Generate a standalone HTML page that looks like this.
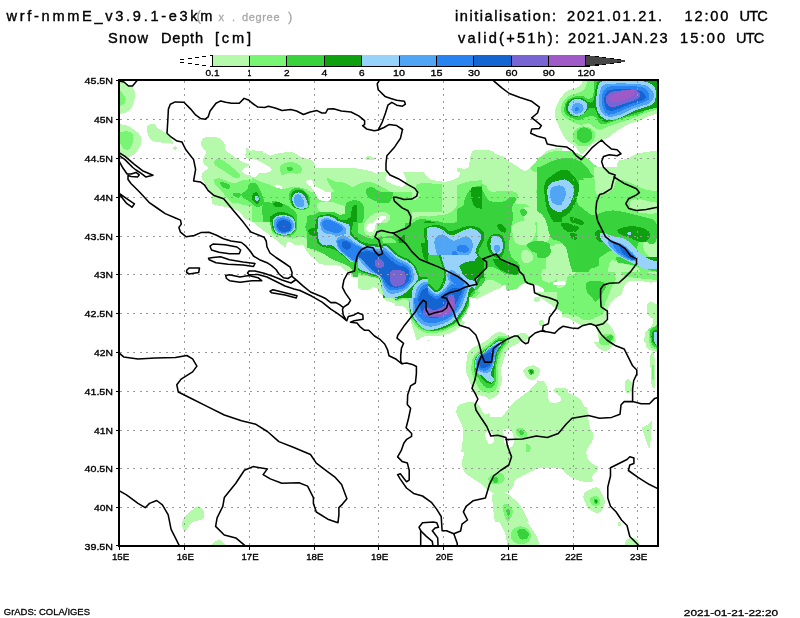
<!DOCTYPE html><html><head><meta charset="utf-8"><title>Snow Depth</title><style>html,body{margin:0;padding:0;background:#fff;}svg{display:block}</style></head><body>
<svg width="800" height="618" viewBox="0 0 800 618" shape-rendering="crispEdges">
<rect width="800" height="618" fill="#fff"/>
<defs><clipPath id="mc"><rect x="119" y="80" width="539" height="466"/></clipPath></defs>
<g clip-path="url(#mc)">
<path fill="#b4faaa" d="M117.7,78.0 C119.0,72.9 123.4,82.0 125.6,83.3 C127.8,84.6 129.5,84.9 130.9,86.0 C132.4,87.1 133.6,88.2 134.2,89.9 C134.9,91.7 135.0,94.4 134.9,96.6 C134.8,98.8 134.2,101.2 133.6,103.2 C132.9,105.2 132.2,107.0 130.9,108.5 C129.6,110.1 127.4,111.6 125.6,112.5 C123.8,113.4 121.6,113.6 120.3,113.8 C119.0,114.0 118.1,119.8 117.7,113.8 C117.2,107.9 116.3,83.1 117.7,78.0Z"/>
<path fill="#b4faaa" d="M117.7,124.4 C118.1,119.3 119.0,124.3 120.3,124.4 C121.6,124.5 123.6,124.4 125.6,125.1 C127.6,125.8 130.0,127.0 132.2,128.4 C134.5,129.9 137.3,132.0 138.9,133.7 C140.4,135.5 141.3,137.0 141.5,139.0 C141.8,141.0 141.1,143.5 140.2,145.7 C139.3,147.9 137.8,150.5 136.2,152.3 C134.7,154.1 132.7,155.4 130.9,156.3 C129.2,157.2 127.4,157.8 125.6,157.6 C123.8,157.4 121.6,155.4 120.3,154.9 C119.0,154.5 118.1,160.0 117.7,154.9 C117.2,149.9 117.2,129.5 117.7,124.4Z"/>
<path fill="#b4faaa" d="M146.8,127.1 C147.5,125.9 149.5,124.2 150.8,123.8 C152.1,123.3 153.7,123.7 154.8,124.4 C155.9,125.2 156.1,127.3 157.5,128.4 C158.8,129.5 161.0,130.0 162.8,131.1 C164.5,132.2 166.5,133.5 168.1,135.0 C169.6,136.6 171.2,138.9 172.0,140.4 C172.9,141.8 174.0,143.2 173.4,143.7 C172.7,144.1 170.5,143.2 168.1,143.0 C165.6,142.8 161.4,142.8 158.8,142.3 C156.1,141.9 153.8,141.3 152.1,140.4 C150.5,139.4 149.7,137.9 148.8,136.4 C147.9,134.8 147.2,132.6 146.8,131.1 C146.5,129.5 146.2,128.3 146.8,127.1Z"/>
<path fill="#b4faaa" d="M172.7,147.7 C172.9,147.0 175.2,146.2 176.0,146.3 C176.8,146.4 177.8,147.7 177.6,148.3 C177.4,149.0 175.5,150.4 174.7,150.3 C173.9,150.2 172.5,148.3 172.7,147.7Z"/>
<path fill="#b4faaa" d="M200.7,144.6 C200.4,142.8 201.4,140.1 202.7,138.8 C203.9,137.5 206.0,137.0 208.5,136.8 C211.0,136.6 215.2,136.8 217.5,137.5 C219.9,138.1 221.4,139.3 222.7,140.7 C224.0,142.1 224.9,144.4 225.3,145.9 C225.7,147.4 224.2,148.3 225.3,149.8 C226.4,151.3 229.4,153.2 231.8,155.0 C234.2,156.7 237.4,158.8 239.5,160.1 C241.7,161.4 243.0,162.0 244.7,162.7 C246.5,163.5 248.4,164.4 249.9,164.7 C251.4,164.9 253.4,163.7 253.8,164.0 C254.2,164.3 253.6,165.7 252.5,166.6 C251.4,167.5 248.8,168.8 247.3,169.2 C245.8,169.6 243.2,168.5 243.4,169.2 C243.6,169.8 246.9,171.8 248.6,173.1 C250.3,174.4 251.9,177.0 253.8,177.0 C255.7,177.0 258.5,173.5 260.0,173.1 C261.5,172.6 262.8,174.4 262.8,174.4 C262.8,174.4 262.8,202.8 262.8,202.8 C262.8,202.8 216.2,202.8 216.2,202.8 C216.2,202.8 212.6,196.4 211.1,193.8 C209.6,191.2 208.4,189.3 207.2,187.3 C206.0,185.4 204.9,183.9 203.9,182.1 C203.0,180.4 201.5,178.7 201.4,177.0 C201.3,175.2 202.1,173.3 203.3,171.8 C204.5,170.3 208.4,169.2 208.5,167.9 C208.6,166.6 204.8,165.5 203.9,164.0 C203.1,162.5 203.0,160.6 203.3,158.8 C203.6,157.1 205.7,155.2 205.9,153.7 C206.1,152.1 205.5,151.3 204.6,149.8 C203.7,148.3 201.0,146.4 200.7,144.6Z"/>
<path fill="#b4faaa" d="M246.0,149.8 C246.2,148.2 246.7,147.6 247.3,147.8 C248.0,148.0 248.8,150.6 249.9,151.1 C251.0,151.5 252.1,150.4 253.8,150.4 C255.5,150.4 258.5,151.0 260.0,151.1 C261.5,151.2 262.8,151.1 262.8,151.1 C262.8,151.1 262.8,158.8 262.8,158.8 C262.8,158.8 255.3,159.1 252.5,158.8 C249.7,158.6 247.1,159.1 246.0,157.5 C244.9,156.0 245.8,151.4 246.0,149.8Z"/>
<path fill="#b4faaa" d="M212.4,172.4 C212.4,172.4 317.3,172.4 317.3,172.4 C317.3,172.4 317.3,256.6 317.3,256.6 C317.3,256.6 310.6,253.9 308.3,252.7 C305.9,251.5 304.8,250.3 303.1,249.5 C301.4,248.6 300.5,247.9 297.9,247.5 C295.3,247.2 290.2,248.0 287.5,247.5 C284.8,247.1 284.0,246.6 281.7,244.9 C279.4,243.3 276.9,240.3 273.7,237.8 C270.4,235.3 265.8,232.5 262.3,229.8 C258.8,227.1 255.2,223.4 252.6,221.6 C249.9,219.9 248.6,221.1 246.2,219.3 C243.8,217.5 240.4,212.5 238.1,210.8 C235.7,209.0 234.0,209.2 232.4,208.7 C230.7,208.1 230.0,207.8 228.0,207.4 C225.9,207.0 222.8,206.6 220.2,206.1 C217.6,205.5 212.4,204.1 212.4,204.1 C212.4,204.1 212.4,172.4 212.4,172.4Z"/>
<path fill="#b4faaa" d="M252.4,149.7 C252.4,149.7 256.7,151.1 258.9,151.7 C261.0,152.2 263.4,152.3 265.4,153.0 C267.3,153.6 269.0,155.3 270.5,155.5 C272.1,155.8 272.7,154.7 274.4,154.2 C276.2,153.8 279.0,153.3 280.9,153.0 C282.8,152.6 284.1,152.4 286.1,152.3 C288.0,152.2 290.8,152.0 292.6,152.3 C294.3,152.6 295.2,153.5 296.5,154.2 C297.7,155.0 298.2,156.0 300.3,156.8 C302.5,157.7 307.2,158.6 309.4,159.4 C311.6,160.3 312.2,160.9 313.3,162.0 C314.4,163.1 315.2,164.9 315.9,165.9 C316.5,166.9 310.3,167.6 317.2,167.8 C324.1,168.1 357.3,167.5 357.3,167.5 C357.3,167.5 357.3,221.6 357.3,221.6 C357.3,221.6 252.4,221.6 252.4,221.6 C252.4,221.6 252.4,149.7 252.4,149.7Z"/>
<path fill="#b4faaa" d="M307.4,192.4 C307.4,192.4 412.3,192.4 412.3,192.4 C412.3,192.4 412.3,276.6 412.3,276.6 C412.3,276.6 307.4,276.6 307.4,276.6 C307.4,276.6 307.4,192.4 307.4,192.4Z"/>
<path fill="#b4faaa" d="M377.4,172.4 C377.4,172.4 482.3,172.4 482.3,172.4 C482.3,172.4 482.3,256.6 482.3,256.6 C482.3,256.6 377.4,256.6 377.4,256.6 C377.4,256.6 377.4,172.4 377.4,172.4Z"/>
<path fill="#b4faaa" d="M367.4,237.4 C367.4,237.4 472.3,237.4 472.3,237.4 C472.3,237.4 472.3,321.6 472.3,321.6 C472.3,321.6 367.4,321.6 367.4,321.6 C367.4,321.6 367.4,237.4 367.4,237.4Z"/>
<path fill="#b4faaa" d="M457.4,167.8 C457.4,167.8 465.6,169.7 467.8,167.8 C469.9,166.0 469.3,159.8 470.4,156.8 C471.4,153.9 471.0,151.4 474.2,150.4 C477.5,149.3 486.1,149.7 489.8,150.4 C493.5,151.0 493.9,153.2 496.3,154.2 C498.6,155.3 502.1,155.8 504.0,156.8 C506.0,157.9 506.2,159.4 507.9,160.7 C509.7,162.0 511.8,163.0 514.4,164.6 C517.0,166.2 521.1,169.7 523.5,170.4 C525.8,171.2 526.9,170.3 528.7,169.1 C530.4,168.0 531.9,165.4 533.8,163.3 C535.8,161.3 537.9,159.0 540.3,156.8 C542.7,154.7 544.8,151.9 548.1,150.4 C551.4,148.9 557.6,148.2 560.0,147.8 C562.4,147.3 562.3,147.8 562.3,147.8 C562.3,147.8 562.3,221.6 562.3,221.6 C562.3,221.6 457.4,221.6 457.4,221.6 C457.4,221.6 457.4,167.8 457.4,167.8Z"/>
<path fill="#b4faaa" d="M582.0,74.8 C582.0,74.8 667.8,74.8 667.8,74.8 C667.8,74.8 667.8,112.0 667.8,112.0 C667.8,112.0 656.2,113.8 651.6,115.2 C647.0,116.5 643.8,118.7 640.3,120.0 C636.8,121.4 633.3,122.2 630.6,123.3 C627.9,124.4 626.5,125.2 624.1,126.5 C621.7,127.9 618.7,129.5 616.0,131.4 C613.3,133.3 610.4,136.5 607.9,137.8 C605.5,139.2 603.6,138.6 601.5,139.5 C599.3,140.3 597.1,141.3 595.0,142.7 C592.8,144.0 590.7,145.7 588.5,147.5 C586.4,149.4 583.9,153.7 582.0,154.0 C580.2,154.3 578.8,150.8 577.2,149.2 C575.6,147.5 574.2,145.9 572.3,144.3 C570.5,142.7 567.8,141.6 565.9,139.5 C564.0,137.3 562.4,134.1 561.0,131.4 C559.7,128.7 558.9,126.0 557.8,123.3 C556.7,120.6 554.8,117.9 554.6,115.2 C554.3,112.5 555.1,110.1 556.2,107.1 C557.3,104.1 559.1,100.1 561.0,97.4 C562.9,94.7 564.8,92.6 567.5,90.9 C570.2,89.3 574.8,89.1 577.2,87.7 C579.6,86.4 581.2,85.0 582.0,82.9 C582.9,80.7 582.0,74.8 582.0,74.8Z"/>
<path fill="#b4faaa" d="M617.6,162.1 C619.2,158.6 624.4,160.2 627.3,158.9 C630.3,157.5 632.7,155.1 635.4,154.0 C638.1,152.9 640.0,152.9 643.5,152.4 C647.0,151.9 652.4,151.0 656.4,150.8 C660.5,150.5 667.8,150.8 667.8,150.8 C667.8,150.8 667.8,179.9 667.8,179.9 C667.8,179.9 617.6,179.9 617.6,179.9 C617.6,179.9 616.0,165.6 617.6,162.1Z"/>
<path fill="#b4faaa" d="M536.8,166.8 C536.8,166.8 628.9,166.8 628.9,166.8 C628.9,166.8 629.8,172.2 632.2,173.2 C634.6,174.3 641.1,174.3 643.5,173.2 C645.9,172.2 646.7,166.8 646.7,166.8 C646.7,166.8 667.8,166.8 667.8,166.8 C667.8,166.8 667.8,271.9 667.8,271.9 C667.8,271.9 536.8,271.9 536.8,271.9 C536.8,271.9 536.8,166.8 536.8,166.8Z"/>
<path fill="#b4faaa" d="M467.4,207.4 C467.4,207.4 572.3,207.4 572.3,207.4 C572.3,207.4 572.3,291.6 572.3,291.6 C572.3,291.6 467.4,291.6 467.4,291.6 C467.4,291.6 467.4,207.4 467.4,207.4Z"/>
<path fill="#b4faaa" d="M557.4,257.4 C557.4,257.4 662.3,257.4 662.3,257.4 C662.3,257.4 662.3,341.6 662.3,341.6 C662.3,341.6 557.4,341.6 557.4,341.6 C557.4,341.6 557.4,257.4 557.4,257.4Z"/>
<path fill="#b4faaa" d="M457.4,277.4 C457.4,277.4 562.3,277.4 562.3,277.4 C562.3,277.4 562.3,361.6 562.3,361.6 C562.3,361.6 457.4,361.6 457.4,361.6 C457.4,361.6 457.4,277.4 457.4,277.4Z"/>
<path fill="#b4faaa" d="M337.4,168.9 C337.4,168.9 344.1,168.2 347.8,168.2 C351.4,168.2 355.3,168.3 359.4,168.9 C363.5,169.4 369.1,170.4 372.4,171.5 C375.6,172.5 376.7,174.0 378.9,175.3 C381.0,176.6 382.7,177.7 385.3,179.2 C387.9,180.7 391.6,183.1 394.4,184.4 C397.2,185.7 400.0,187.0 402.2,187.0 C404.3,187.0 406.7,185.7 407.4,184.4 C408.0,183.1 405.6,180.7 406.1,179.2 C406.5,177.7 408.0,176.2 409.9,175.3 C411.9,174.5 415.1,174.0 417.7,174.0 C420.3,174.0 423.3,174.5 425.5,175.3 C427.7,176.2 428.3,178.4 430.7,179.2 C433.1,180.1 438.1,180.3 440.0,180.5 C441.9,180.7 442.3,180.5 442.3,180.5 C442.3,180.5 442.3,211.6 442.3,211.6 C442.3,211.6 337.4,211.6 337.4,211.6 C337.4,211.6 337.4,168.9 337.4,168.9Z"/>
<path fill="#b4faaa" d="M365.3,157.8 C365.7,157.2 367.3,156.0 368.5,155.9 C369.7,155.8 371.1,156.7 372.4,157.2 C373.7,157.7 376.7,158.7 376.3,159.1 C375.8,159.6 371.5,159.7 369.8,159.8 C368.1,159.9 366.7,160.1 365.9,159.8 C365.2,159.5 364.8,158.5 365.3,157.8Z"/>
<path fill="#b4faaa" d="M378.1,287.4 C378.1,287.4 377.3,295.2 378.1,297.8 C379.0,300.4 381.2,301.4 383.3,303.0 C385.5,304.5 388.5,306.0 391.1,306.8 C393.7,307.7 396.9,307.1 398.9,308.1 C400.8,309.2 401.7,311.4 402.7,313.3 C403.8,315.3 404.3,317.8 405.3,319.8 C406.4,321.7 408.4,323.0 409.2,325.0 C410.1,326.9 409.2,329.7 410.5,331.5 C411.8,333.2 415.1,334.3 417.0,335.3 C418.9,336.4 420.4,337.1 422.2,337.9 C423.9,338.8 425.4,340.3 427.4,340.5 C429.3,340.7 432.1,340.3 433.8,339.2 C435.6,338.1 435.8,335.6 437.7,334.0 C439.7,332.5 442.9,331.0 445.5,330.2 C448.1,329.3 450.9,328.9 453.3,328.9 C455.6,328.9 458.2,330.2 459.7,330.2 C461.3,330.2 462.3,328.9 462.3,328.9 C462.3,328.9 462.3,287.4 462.3,287.4 C462.3,287.4 378.1,287.4 378.1,287.4Z"/>
<clipPath id="k0"><rect x="0" y="392" width="800" height="226"/></clipPath>
<path fill="#b4faaa" clip-path="url(#k0)" d="M465.9,346.8 C465.9,346.8 465.1,365.9 465.9,371.0 C466.7,376.1 469.1,375.1 470.7,377.5 C472.3,379.9 473.7,382.9 475.6,385.6 C477.5,388.3 479.9,391.5 482.0,393.7 C484.2,395.8 486.4,398.0 488.5,398.5 C490.7,399.1 492.8,398.5 495.0,396.9 C497.1,395.3 500.4,392.3 501.5,388.8 C502.5,385.3 500.9,379.6 501.5,375.9 C502.0,372.1 503.6,369.4 504.7,366.2 C505.8,362.9 507.1,359.7 507.9,356.5 C508.7,353.2 509.5,346.8 509.5,346.8 C509.5,346.8 465.9,346.8 465.9,346.8Z"/>
<path fill="#b4faaa" d="M523.3,371.0 C523.3,369.1 525.6,367.9 527.3,367.0 C529.1,366.0 531.8,365.0 533.8,365.4 C535.8,365.8 538.7,367.7 539.5,369.4 C540.3,371.2 539.6,374.1 538.7,375.9 C537.7,377.6 535.7,379.5 533.8,379.9 C531.9,380.3 529.1,379.8 527.3,378.3 C525.6,376.8 523.3,372.9 523.3,371.0Z"/>
<path fill="#b4faaa" d="M456.2,411.5 C456.2,409.0 457.0,406.6 459.4,405.0 C461.8,403.4 467.5,401.8 470.7,401.8 C474.0,401.8 476.9,403.4 478.8,405.0 C480.7,406.6 481.0,409.8 482.0,411.5 C483.1,413.1 484.2,414.4 485.3,414.7 C486.4,415.0 487.7,412.8 488.5,413.1 C489.3,413.3 490.4,415.0 490.1,416.3 C489.9,417.7 487.7,419.0 486.9,421.2 C486.1,423.3 485.3,426.8 485.3,429.2 C485.3,431.7 485.8,433.8 486.9,435.7 C488.0,437.6 490.9,439.2 491.8,440.6 C492.6,441.9 492.3,443.3 491.8,443.8 C491.2,444.3 489.3,443.3 488.5,443.8 C487.7,444.3 487.2,445.7 486.9,447.0 C486.6,448.4 486.9,451.9 486.9,451.9 C486.9,451.9 461.0,451.9 461.0,451.9 C461.0,451.9 462.4,444.6 462.6,440.6 C462.9,436.5 463.2,431.1 462.6,427.6 C462.1,424.1 460.5,422.2 459.4,419.5 C458.3,416.8 456.2,413.9 456.2,411.5Z"/>
<path fill="#b4faaa" d="M495.0,426.0 C495.5,423.9 498.0,422.0 499.8,419.5 C501.7,417.1 504.2,414.2 506.3,411.5 C508.5,408.8 510.4,405.8 512.8,403.4 C515.2,400.9 518.4,398.8 520.9,396.9 C523.3,395.0 525.2,393.9 527.3,392.0 C529.5,390.2 531.6,387.5 533.8,385.6 C536.0,383.7 538.4,381.3 540.3,380.7 C542.2,380.2 544.0,380.7 545.1,382.3 C546.2,384.0 546.2,387.7 546.7,390.4 C547.3,393.1 547.8,396.4 548.4,398.5 C548.9,400.7 548.6,402.6 550.0,403.4 C551.3,404.2 554.8,403.6 556.4,403.4 C558.1,403.1 558.1,402.0 560.0,401.8 C561.9,401.5 567.8,401.8 567.8,401.8 C567.8,401.8 567.8,451.9 567.8,451.9 C567.8,451.9 507.9,451.9 507.9,451.9 C507.9,451.9 506.3,446.2 506.3,443.8 C506.3,441.4 508.7,438.9 507.9,437.3 C507.1,435.7 503.3,434.9 501.5,434.1 C499.6,433.3 497.7,433.8 496.6,432.5 C495.5,431.1 494.4,428.2 495.0,426.0Z"/>
<path fill="#b4faaa" d="M553.2,390.4 C552.9,389.2 555.6,388.3 558.1,388.0 C560.5,387.7 567.8,388.8 567.8,388.8 C567.8,388.8 567.8,396.9 567.8,396.9 C567.8,396.9 562.1,396.4 559.7,395.3 C557.3,394.2 553.5,391.6 553.2,390.4Z"/>
<path fill="#b4faaa" d="M593.4,339.7 C593.1,337.3 595.5,335.4 596.6,333.2 C597.7,331.1 599.8,326.8 599.8,326.8 C599.8,326.8 616.0,326.8 616.0,326.8 C616.0,326.8 616.8,336.2 616.0,339.7 C615.2,343.2 613.0,345.9 611.2,347.8 C609.3,349.7 606.8,351.0 604.7,351.0 C602.5,351.0 600.1,349.7 598.2,347.8 C596.3,345.9 593.6,342.1 593.4,339.7Z"/>
<path fill="#b4faaa" d="M645.1,326.8 C645.1,326.8 662.9,326.8 662.9,326.8 C662.9,326.8 662.9,352.6 662.9,352.6 C662.9,352.6 651.3,351.6 648.4,349.4 C645.4,347.3 645.7,343.5 645.1,339.7 C644.6,335.9 645.1,326.8 645.1,326.8Z"/>
<path fill="#b4faaa" d="M650.0,355.9 C650.4,352.9 652.4,351.6 653.2,352.6 C654.0,353.7 654.6,356.7 654.8,362.3 C655.1,368.0 655.4,382.8 654.8,386.6 C654.3,390.4 652.3,387.7 651.6,385.0 C650.9,382.3 651.1,375.3 650.8,370.4 C650.5,365.6 649.6,358.8 650.0,355.9Z"/>
<path fill="#b4faaa" d="M624.9,381.8 C625.3,379.7 627.1,379.3 628.1,379.3 C629.2,379.3 630.7,380.0 631.4,381.8 C632.0,383.5 632.6,388.0 632.2,389.8 C631.8,391.7 630.0,392.8 628.9,393.1 C627.9,393.3 626.4,393.3 625.7,391.5 C625.0,389.6 624.5,383.8 624.9,381.8Z"/>
<path fill="#b4faaa" d="M536.8,380.1 C536.8,380.1 543.0,381.5 544.9,383.4 C546.7,385.3 547.5,388.8 548.1,391.5 C548.6,394.2 547.5,397.7 548.1,399.5 C548.6,401.4 549.4,402.4 551.3,402.8 C553.2,403.2 557.8,402.8 559.4,402.0 C561.0,401.2 561.6,399.7 561.0,397.9 C560.5,396.2 557.0,393.1 556.2,391.5 C555.4,389.8 554.8,388.2 556.2,388.2 C557.5,388.2 561.6,390.4 564.3,391.5 C567.0,392.5 569.6,393.3 572.3,394.7 C575.0,396.0 578.4,397.4 580.4,399.5 C582.5,401.7 583.3,404.7 584.5,407.6 C585.7,410.6 586.9,414.1 587.7,417.3 C588.5,420.6 588.9,424.6 589.3,427.0 C589.7,429.5 590.1,431.9 590.1,431.9 C590.1,431.9 536.8,431.9 536.8,431.9 C536.8,431.9 536.8,380.1 536.8,380.1Z"/>
<path fill="#b4faaa" d="M643.5,427.0 C644.0,426.0 645.7,425.4 646.7,425.4 C647.8,425.4 649.4,426.0 650.0,427.0 C650.5,428.1 650.0,431.9 650.0,431.9 C650.0,431.9 643.5,431.9 643.5,431.9 C643.5,431.9 643.0,428.1 643.5,427.0Z"/>
<path fill="#b4faaa" d="M462.6,416.8 C462.6,416.8 567.8,416.8 567.8,416.8 C567.8,416.8 567.8,466.9 567.8,466.9 C567.8,466.9 550.2,466.6 545.1,466.9 C540.0,467.2 540.0,467.4 537.0,468.5 C534.1,469.6 530.6,471.8 527.3,473.4 C524.1,475.0 520.6,476.3 517.6,478.2 C514.7,480.1 511.4,482.5 509.5,484.7 C507.7,486.8 507.1,489.5 506.3,491.2 C505.5,492.8 504.4,493.6 504.7,494.4 C505.0,495.2 506.3,495.2 507.9,496.0 C509.5,496.8 512.5,497.9 514.4,499.2 C516.3,500.6 517.6,501.9 519.2,504.1 C520.9,506.3 522.5,509.2 524.1,512.2 C525.7,515.1 528.9,521.9 528.9,521.9 C528.9,521.9 495.0,521.9 495.0,521.9 C495.0,521.9 493.6,514.1 493.4,510.6 C493.1,507.1 492.8,503.0 493.4,500.9 C493.9,498.7 496.3,498.7 496.6,497.6 C496.9,496.5 496.1,495.5 495.0,494.4 C493.9,493.3 491.8,492.2 490.1,491.2 C488.5,490.1 486.9,489.3 485.3,487.9 C483.7,486.6 482.6,484.7 480.4,483.1 C478.3,481.5 475.0,480.1 472.3,478.2 C469.6,476.3 466.0,474.4 464.3,471.8 C462.5,469.1 461.8,465.3 461.8,462.0 C461.8,458.8 464.1,456.7 464.3,452.3 C464.4,448.0 462.9,442.1 462.6,436.2 C462.4,430.2 462.6,416.8 462.6,416.8Z"/>
<path fill="#b4faaa" d="M536.8,406.8 C536.8,406.8 586.9,406.8 586.9,406.8 C586.9,406.8 588.0,416.2 588.5,419.7 C589.1,423.2 589.3,425.4 590.1,427.8 C590.9,430.2 593.1,431.8 593.4,434.3 C593.6,436.7 592.8,439.9 591.8,442.3 C590.7,444.8 587.7,446.4 586.9,448.8 C586.1,451.2 586.1,454.5 586.9,456.9 C587.7,459.3 589.9,461.8 591.8,463.4 C593.6,465.0 597.4,465.3 598.2,466.6 C599.0,468.0 597.7,469.8 596.6,471.5 C595.5,473.1 592.3,474.7 591.8,476.3 C591.2,477.9 594.4,480.2 593.4,481.2 C592.3,482.1 588.2,482.2 585.3,482.0 C582.3,481.7 578.5,480.8 575.6,479.5 C572.6,478.3 569.6,476.3 567.5,474.7 C565.3,473.1 564.5,470.9 562.6,469.8 C560.8,468.8 560.5,468.5 556.2,468.2 C551.9,468.0 536.8,468.2 536.8,468.2 C536.8,468.2 536.8,406.8 536.8,406.8Z"/>
<path fill="#b4faaa" d="M641.9,427.8 C642.4,426.7 645.1,427.3 646.7,426.2 C648.4,425.1 650.8,421.1 651.6,421.3 C652.4,421.6 651.9,423.7 651.6,427.8 C651.3,431.8 650.5,442.3 650.0,445.6 C649.4,448.8 649.4,449.4 648.4,447.2 C647.3,445.0 644.6,435.9 643.5,432.6 C642.4,429.4 641.3,428.9 641.9,427.8Z"/>
<path fill="#b4faaa" d="M583.7,494.1 C584.6,492.2 588.0,490.3 590.1,489.2 C592.3,488.2 594.7,486.8 596.6,487.6 C598.5,488.4 600.1,491.7 601.5,494.1 C602.8,496.5 604.7,500.0 604.7,502.2 C604.7,504.3 603.1,505.7 601.5,507.0 C599.8,508.3 597.1,510.2 595.0,509.9 C592.8,509.7 590.3,507.0 588.5,505.4 C586.8,503.9 585.3,502.5 584.5,500.6 C583.7,498.7 582.7,496.0 583.7,494.1Z"/>
<path fill="#b4faaa" d="M492.5,495.0 C494.0,492.5 499.6,492.5 502.5,492.5 C505.4,492.5 507.9,493.3 510.0,495.0 C512.1,496.7 513.3,500.0 515.0,502.5 C516.7,505.0 518.8,507.5 520.0,510.0 C521.2,512.5 521.2,515.4 522.5,517.5 C523.8,519.6 525.8,520.4 527.5,522.5 C529.2,524.6 530.8,527.5 532.5,530.0 C534.2,532.5 536.0,533.8 537.5,537.5 C539.0,541.2 541.2,552.5 541.2,552.5 C541.2,552.5 507.5,552.5 507.5,552.5 C507.5,552.5 507.1,541.7 506.2,537.5 C505.4,533.3 504.0,530.8 502.5,527.5 C501.0,524.2 499.0,520.8 497.5,517.5 C496.0,514.2 494.6,511.2 493.8,507.5 C492.9,503.8 491.0,497.5 492.5,495.0Z"/>
<path fill="#b4faaa" d="M478.8,475.0 C478.8,475.0 515.0,475.0 515.0,475.0 C515.0,475.0 514.6,482.5 513.8,485.0 C512.9,487.5 511.5,488.8 510.0,490.0 C508.5,491.2 507.1,492.3 505.0,492.5 C502.9,492.7 500.0,492.1 497.5,491.2 C495.0,490.4 492.5,489.0 490.0,487.5 C487.5,486.0 484.4,484.6 482.5,482.5 C480.6,480.4 478.8,475.0 478.8,475.0Z"/>
<path fill="#b4faaa" d="M583.8,495.0 C584.2,492.1 587.7,491.2 590.0,490.0 C592.3,488.8 595.4,486.7 597.5,487.5 C599.6,488.3 601.2,492.5 602.5,495.0 C603.8,497.5 605.2,499.8 605.0,502.5 C604.8,505.2 602.9,509.6 601.2,511.2 C599.6,512.9 597.3,513.1 595.0,512.5 C592.7,511.9 589.4,510.4 587.5,507.5 C585.6,504.6 583.3,497.9 583.8,495.0Z"/>
<path fill="#b4faaa" d="M617.5,523.0 C617.7,522.2 619.3,521.7 620.0,522.0 C620.7,522.3 621.7,524.2 621.5,525.0 C621.3,525.8 619.7,526.8 619.0,526.5 C618.3,526.2 617.3,523.8 617.5,523.0Z"/>
<path fill="#b4faaa" d="M625.0,542.5 C625.8,540.1 627.9,538.4 630.0,538.0 C632.1,537.6 635.4,537.6 637.5,540.0 C639.6,542.4 642.5,552.5 642.5,552.5 C642.5,552.5 625.0,552.5 625.0,552.5 C625.0,552.5 624.2,544.9 625.0,542.5Z"/>
<path fill="#b4faaa" d="M182.6,520.6 C183.8,518.0 187.2,514.4 189.8,512.0 C192.4,509.6 196.0,506.3 198.4,506.3 C200.8,506.3 203.4,509.9 204.1,512.0 C204.8,514.1 204.6,517.5 202.7,519.2 C200.8,520.9 195.5,520.2 192.6,522.1 C189.7,524.0 187.1,529.8 185.4,530.7 C183.7,531.7 183.1,529.5 182.6,527.8 C182.1,526.1 181.4,523.2 182.6,520.6Z"/>
<path fill="#b4faaa" d="M213.0,543.0 C213.7,541.8 215.5,540.8 217.0,540.5 C218.5,540.2 220.7,540.2 222.0,541.0 C223.3,541.8 224.5,543.8 225.0,545.0 C225.5,546.2 227.0,547.5 225.0,548.0 C223.0,548.5 215.0,548.8 213.0,548.0 C211.0,547.2 212.3,544.2 213.0,543.0Z"/>
<path fill="#ffffff" d="M275.2,186.0 C276.0,185.1 278.6,185.0 279.8,185.4 C281.0,185.7 282.1,186.7 282.4,188.0 C282.6,189.2 281.8,192.2 281.1,193.1 C280.3,194.1 278.8,194.2 277.8,193.8 C276.9,193.4 275.7,191.8 275.2,190.5 C274.8,189.2 274.5,186.9 275.2,186.0Z"/>
<path fill="#ffffff" d="M306.3,180.8 C306.6,180.0 309.7,179.2 310.9,179.5 C312.0,179.9 313.1,181.7 313.4,182.8 C313.8,183.9 313.6,185.7 312.8,186.0 C312.0,186.3 310.0,185.6 308.9,184.7 C307.8,183.9 306.0,181.7 306.3,180.8Z"/>
<path fill="#ffffff" d="M250.6,173.7 C250.6,173.7 257.1,173.7 257.1,173.7 C257.1,173.7 256.6,176.0 255.8,176.6 C255.0,177.1 253.4,177.4 252.6,176.9 C251.7,176.5 250.6,173.7 250.6,173.7Z"/>
<path fill="#ffffff" d="M252.4,159.4 C252.4,159.4 253.9,159.2 255.0,159.4 C256.1,159.6 257.2,159.9 258.9,160.7 C260.6,161.6 263.3,163.3 265.4,164.6 C267.4,165.9 270.3,167.4 271.2,168.5 C272.1,169.6 271.5,170.3 270.5,171.1 C269.6,171.8 267.1,172.8 265.4,173.0 C263.6,173.2 261.7,171.8 260.2,172.4 C258.7,172.9 257.6,175.6 256.3,176.3 C255.0,176.9 252.4,176.3 252.4,176.3 C252.4,176.3 252.4,159.4 252.4,159.4Z"/>
<path fill="#ffffff" d="M275.1,185.3 C275.6,184.4 277.9,184.3 279.0,184.7 C280.0,185.1 281.2,186.7 281.6,187.9 C281.9,189.1 281.6,190.8 280.9,191.8 C280.3,192.8 278.5,194.0 277.7,193.8 C276.8,193.5 276.2,191.9 275.7,190.5 C275.3,189.1 274.5,186.3 275.1,185.3Z"/>
<path fill="#ffffff" d="M306.2,180.8 C306.6,180.3 308.2,179.6 309.4,180.2 C310.6,180.7 311.8,182.7 313.3,184.0 C314.8,185.3 316.7,186.8 318.5,187.9 C320.2,189.0 322.1,189.4 323.7,190.5 C325.2,191.6 326.2,193.0 327.5,194.4 C328.8,195.8 331.1,197.9 331.4,198.9 C331.7,200.0 330.5,200.7 329.5,200.9 C328.5,201.1 327.2,201.1 325.6,200.2 C324.0,199.4 321.6,197.1 319.8,195.7 C317.9,194.3 316.1,193.3 314.6,191.8 C313.1,190.3 312.0,188.0 310.7,186.6 C309.4,185.2 307.6,184.4 306.8,183.4 C306.1,182.4 305.7,181.3 306.2,180.8Z"/>
<path fill="#ffffff" d="M243.0,169.0 C243.8,167.8 246.2,167.0 248.0,166.0 C249.8,165.0 252.0,163.3 254.0,163.0 C256.0,162.7 258.3,163.3 260.0,164.0 C261.7,164.7 262.3,166.2 264.0,167.0 C265.7,167.8 269.3,168.2 270.0,169.0 C270.7,169.8 269.7,171.3 268.0,172.0 C266.3,172.7 262.3,172.7 260.0,173.0 C257.7,173.3 256.0,173.7 254.0,174.0 C252.0,174.3 249.8,175.2 248.0,175.0 C246.2,174.8 243.8,174.0 243.0,173.0 C242.2,172.0 242.2,170.2 243.0,169.0Z"/>
<path fill="#ffffff" d="M315.2,192.4 C315.2,192.4 330.7,192.4 330.7,192.4 C330.7,192.4 331.6,197.4 330.7,198.9 C329.9,200.4 327.7,201.5 325.5,201.5 C323.4,201.5 319.5,200.4 317.8,198.9 C316.0,197.4 315.2,192.4 315.2,192.4Z"/>
<path fill="#ffffff" d="M307.4,253.3 C307.4,253.3 311.7,254.8 313.9,255.9 C316.0,257.0 318.4,258.3 320.4,259.8 C322.3,261.3 323.8,263.2 325.5,264.9 C327.3,266.7 329.2,268.2 330.7,270.1 C332.2,272.1 334.6,276.6 334.6,276.6 C334.6,276.6 307.4,276.6 307.4,276.6 C307.4,276.6 307.4,253.3 307.4,253.3Z"/>
<path fill="#ffffff" d="M286.0,246.0 C287.7,236.8 293.1,245.2 296.0,245.0 C298.9,244.8 301.9,243.9 303.7,245.0 C305.5,246.1 305.8,249.4 307.0,251.3 C308.2,253.2 309.4,254.6 311.0,256.2 C312.6,257.8 315.1,259.6 316.7,261.0 C318.3,262.4 317.3,263.6 320.7,264.3 C324.1,265.0 333.7,264.6 336.9,265.1 C340.1,265.6 338.8,266.6 340.1,267.5 C341.5,268.4 343.4,269.9 345.0,270.7 C346.6,271.5 349.2,267.6 350.0,272.5 C350.8,277.4 360.7,295.4 350.0,300.0 C339.3,304.6 296.7,309.0 286.0,300.0 C275.3,291.0 284.3,255.2 286.0,246.0Z"/>
<path fill="#ffffff" d="M424.0,172.4 C424.0,172.4 460.3,172.4 460.3,172.4 C460.3,172.4 459.9,176.1 457.7,177.6 C455.6,179.1 450.8,180.9 447.4,181.5 C443.9,182.0 440.0,181.3 437.0,180.8 C434.0,180.4 431.4,180.3 429.2,178.9 C427.1,177.5 424.0,172.4 424.0,172.4Z"/>
<path fill="#ffffff" d="M387.8,172.4 C387.8,172.4 403.3,172.4 403.3,172.4 C403.3,172.4 405.9,177.8 405.9,180.2 C405.9,182.6 405.0,185.8 403.3,186.7 C401.6,187.5 397.9,186.0 395.5,185.4 C393.2,184.7 390.8,183.9 389.1,182.8 C387.3,181.7 385.4,180.6 385.2,178.9 C385.0,177.2 387.8,172.4 387.8,172.4Z"/>
<path fill="#ffffff" d="M377.4,215.2 C377.4,215.2 382.4,215.8 383.9,216.5 C385.4,217.1 386.5,218.0 386.5,219.0 C386.5,220.1 385.4,222.1 383.9,222.9 C382.4,223.8 377.4,224.2 377.4,224.2 C377.4,224.2 377.4,215.2 377.4,215.2Z"/>
<path fill="#78f573" d="M117.7,91.3 C118.1,88.8 119.4,90.8 120.3,91.3 C121.2,91.7 122.1,92.7 123.0,93.9 C123.8,95.1 125.4,97.0 125.6,98.6 C125.8,100.1 125.2,102.0 124.3,103.2 C123.4,104.4 121.4,105.4 120.3,105.9 C119.2,106.3 118.1,108.3 117.7,105.9 C117.2,103.4 117.2,93.7 117.7,91.3Z"/>
<path fill="#78f573" d="M117.7,132.4 C118.2,130.4 119.4,132.6 121.0,132.4 C122.5,132.2 125.1,130.8 126.9,131.1 C128.8,131.3 131.1,132.4 132.2,133.7 C133.4,135.0 133.7,137.0 133.6,139.0 C133.5,141.0 132.5,143.9 131.6,145.7 C130.7,147.4 129.7,149.2 128.3,149.6 C126.8,150.1 124.2,149.2 123.0,148.3 C121.7,147.4 121.9,145.0 121.0,144.3 C120.1,143.7 118.2,146.3 117.7,144.3 C117.1,142.3 117.1,134.4 117.7,132.4Z"/>
<path fill="#78f573" d="M214.3,161.4 C214.7,160.3 216.1,159.1 217.5,158.8 C218.9,158.6 221.0,159.3 222.7,160.1 C224.4,161.0 226.0,162.5 227.9,164.0 C229.8,165.5 232.4,167.5 234.4,169.2 C236.3,170.9 238.6,173.1 239.5,174.4 C240.5,175.7 240.8,176.3 240.2,177.0 C239.5,177.6 237.5,178.7 235.7,178.3 C233.8,177.8 231.6,175.9 229.2,174.4 C226.8,172.9 223.8,170.7 221.4,169.2 C219.1,167.7 216.1,166.6 215.0,165.3 C213.8,164.0 213.9,162.5 214.3,161.4Z"/>
<path fill="#78f573" d="M214.3,179.5 C215.1,178.9 216.8,178.0 218.8,178.3 C220.9,178.5 224.0,180.0 226.6,180.8 C229.2,181.7 232.0,183.4 234.4,183.4 C236.7,183.4 238.9,181.5 240.8,180.8 C242.8,180.2 244.1,179.5 246.0,179.5 C248.0,179.5 250.2,180.4 252.5,180.8 C254.8,181.3 258.3,181.9 260.0,182.1 C261.7,182.4 262.8,182.1 262.8,182.1 C262.8,182.1 262.8,202.8 262.8,202.8 C262.8,202.8 231.8,202.8 231.8,202.8 C231.8,202.8 225.3,195.3 222.7,192.5 C220.1,189.7 217.6,187.7 216.2,186.0 C214.8,184.3 214.6,183.2 214.3,182.1 C214.0,181.1 213.5,180.2 214.3,179.5Z"/>
<path fill="#78f573" d="M220.2,182.8 C220.5,182.1 221.3,181.4 222.8,181.5 C224.3,181.6 227.7,182.6 229.2,183.4 C230.8,184.3 231.8,185.7 231.8,186.7 C231.8,187.6 230.5,189.0 229.2,189.2 C228.0,189.5 225.5,188.6 224.1,188.0 C222.7,187.3 221.5,186.2 220.8,185.4 C220.2,184.5 219.9,183.4 220.2,182.8Z"/>
<path fill="#78f573" d="M230.5,193.1 C231.5,191.9 234.0,191.2 235.7,190.5 C237.5,189.9 239.0,190.5 240.9,189.2 C242.8,188.0 245.2,184.3 247.4,182.8 C249.5,181.3 251.9,180.2 253.9,180.2 C255.8,180.2 257.5,181.5 259.0,182.8 C260.6,184.1 261.2,186.4 262.9,188.0 C264.7,189.5 267.9,190.3 269.4,191.8 C270.9,193.4 270.9,195.5 272.0,197.0 C273.1,198.5 274.2,200.3 275.9,200.9 C277.6,201.6 280.4,202.0 282.4,200.9 C284.3,199.8 286.2,196.4 287.5,194.4 C288.8,192.5 288.8,190.4 290.1,189.2 C291.4,188.1 293.2,187.5 295.3,187.3 C297.5,187.1 300.9,187.4 303.1,188.0 C305.2,188.5 306.5,189.5 308.3,190.5 C310.0,191.6 311.9,193.6 313.4,194.4 C315.0,195.3 317.3,195.7 317.3,195.7 C317.3,195.7 317.3,247.5 317.3,247.5 C317.3,247.5 315.0,248.8 313.4,247.5 C311.9,246.2 310.0,241.5 308.3,239.8 C306.5,238.0 304.8,237.6 303.1,237.2 C301.4,236.7 299.6,237.0 297.9,237.2 C296.2,237.4 294.3,238.4 292.7,238.5 C291.1,238.6 290.0,238.2 288.2,237.8 C286.4,237.4 283.9,236.6 281.7,236.1 C279.6,235.7 277.0,236.3 275.2,235.4 C273.5,234.4 272.2,234.1 271.2,230.6 C270.3,227.1 270.2,217.3 269.5,214.4 C268.9,211.4 268.0,213.6 267.2,212.8 C266.4,212.0 265.8,210.5 264.7,209.6 C263.7,208.6 262.5,207.7 260.7,207.1 C259.0,206.6 256.7,206.6 254.2,206.3 C251.8,206.1 248.9,206.0 246.2,205.4 C243.5,204.9 240.8,204.3 238.1,203.1 C235.4,201.9 231.3,199.8 230.0,198.2 C228.8,196.5 229.6,194.4 230.5,193.1Z"/>
<path fill="#78f573" d="M280.3,165.9 C281.0,164.6 283.0,164.0 284.8,163.3 C286.6,162.7 289.1,161.9 291.3,162.0 C293.4,162.1 296.0,163.0 297.7,164.0 C299.5,164.9 301.1,166.4 301.6,167.8 C302.2,169.3 301.8,171.4 301.0,172.4 C300.1,173.4 298.3,173.6 296.5,173.7 C294.6,173.8 291.9,172.9 290.0,173.0 C288.0,173.1 286.2,174.0 284.8,174.3 C283.4,174.7 282.3,175.5 281.6,175.0 C280.8,174.4 280.5,172.6 280.3,171.1 C280.0,169.6 279.5,167.2 280.3,165.9Z"/>
<path fill="#78f573" d="M252.4,177.6 C252.4,177.6 257.6,180.4 260.2,181.5 C262.8,182.5 265.8,183.2 268.0,184.0 C270.1,184.9 270.5,185.8 273.1,186.6 C275.7,187.5 281.1,189.0 283.5,189.2 C285.9,189.4 285.7,188.3 287.4,187.9 C289.1,187.6 291.7,187.3 293.9,187.3 C296.0,187.3 298.4,187.5 300.3,187.9 C302.3,188.4 304.2,188.6 305.5,189.9 C306.8,191.2 307.2,193.4 308.1,195.7 C309.0,198.0 309.8,201.1 310.7,203.5 C311.6,205.8 312.2,208.2 313.3,209.9 C314.4,211.7 316.1,211.9 317.2,213.8 C318.3,215.8 319.8,221.6 319.8,221.6 C319.8,221.6 252.4,221.6 252.4,221.6 C252.4,221.6 252.4,177.6 252.4,177.6Z"/>
<path fill="#78f573" d="M326.9,178.2 C327.6,177.8 330.7,179.2 332.7,180.2 C334.8,181.1 336.6,182.5 339.2,184.0 C341.8,185.6 345.2,187.9 348.3,189.2 C351.3,190.5 357.3,191.8 357.3,191.8 C357.3,191.8 357.3,221.6 357.3,221.6 C357.3,221.6 335.3,221.6 335.3,221.6 C335.3,221.6 337.0,215.3 337.9,212.5 C338.8,209.7 340.5,207.4 340.5,204.8 C340.5,202.2 339.2,199.6 337.9,197.0 C336.6,194.4 334.3,191.6 332.7,189.2 C331.1,186.8 329.2,184.6 328.2,182.7 C327.2,180.9 326.1,178.6 326.9,178.2Z"/>
<path fill="#78f573" d="M307.4,192.4 C307.4,192.4 315.2,192.4 315.2,192.4 C315.2,192.4 316.0,197.4 317.8,198.9 C319.5,200.4 323.4,201.5 325.5,201.5 C327.7,201.5 329.9,200.4 330.7,198.9 C331.6,197.4 330.7,192.4 330.7,192.4 C330.7,192.4 412.3,192.4 412.3,192.4 C412.3,192.4 412.3,276.6 412.3,276.6 C412.3,276.6 352.7,276.6 352.7,276.6 C352.7,276.6 348.6,269.9 346.3,267.5 C343.9,265.2 341.5,264.1 338.5,262.4 C335.5,260.6 331.6,258.9 328.1,257.2 C324.7,255.4 321.2,253.3 317.8,252.0 C314.3,250.7 307.4,249.4 307.4,249.4 C307.4,249.4 307.4,192.4 307.4,192.4Z"/>
<path fill="#78f573" d="M416.3,185.4 C417.3,183.9 421.0,183.0 424.0,182.8 C427.1,182.6 431.6,183.0 434.4,184.1 C437.2,185.1 439.8,187.3 440.9,189.2 C442.0,191.2 441.7,194.2 440.9,195.7 C440.0,197.2 437.6,197.5 435.7,198.3 C433.8,199.2 431.4,201.1 429.2,200.9 C427.1,200.7 424.7,198.5 422.7,197.0 C420.8,195.5 418.6,193.8 417.6,191.8 C416.5,189.9 415.2,186.9 416.3,185.4Z"/>
<path fill="#78f573" d="M377.4,224.2 C377.4,224.2 384.1,225.5 387.8,225.5 C391.4,225.5 395.8,225.1 399.4,224.2 C403.1,223.4 406.6,221.6 409.8,220.3 C413.0,219.0 415.6,217.1 418.9,216.5 C422.1,215.8 425.8,216.7 429.2,216.5 C432.7,216.2 436.6,215.6 439.6,215.2 C442.6,214.7 444.8,214.9 447.4,213.9 C449.9,212.8 453.4,210.8 455.1,208.7 C456.9,206.5 457.1,203.9 457.7,200.9 C458.4,197.9 457.9,193.6 459.0,190.5 C460.1,187.5 460.3,184.5 464.2,182.8 C468.1,181.0 482.3,180.2 482.3,180.2 C482.3,180.2 482.3,256.6 482.3,256.6 C482.3,256.6 377.4,256.6 377.4,256.6 C377.4,256.6 377.4,224.2 377.4,224.2Z"/>
<path fill="#78f573" d="M377.4,188.0 C377.4,188.0 382.6,188.2 385.2,189.2 C387.8,190.3 391.4,192.3 393.0,194.4 C394.5,196.6 395.1,200.5 394.2,202.2 C393.4,203.9 390.6,204.1 387.8,204.8 C385.0,205.4 377.4,206.1 377.4,206.1 C377.4,206.1 377.4,188.0 377.4,188.0Z"/>
<path fill="#78f573" d="M457.4,185.3 C457.4,185.3 462.2,183.4 465.2,182.7 C468.2,182.1 472.1,181.0 475.5,181.5 C479.0,181.9 484.0,184.0 485.9,185.3 C487.8,186.6 486.1,188.1 487.2,189.2 C488.3,190.3 489.4,191.6 492.4,191.8 C495.4,192.0 501.7,190.5 505.3,190.5 C509.0,190.5 512.2,190.9 514.4,191.8 C516.6,192.7 518.1,194.2 518.3,195.7 C518.5,197.2 516.8,199.4 515.7,200.9 C514.6,202.4 511.2,204.3 511.8,204.8 C512.5,205.2 517.0,203.5 519.6,203.5 C522.2,203.5 525.6,203.7 527.4,204.8 C529.1,205.8 530.2,208.0 529.9,209.9 C529.7,211.9 528.0,215.1 526.1,216.4 C524.1,217.7 520.0,216.9 518.3,217.7 C516.6,218.6 515.7,221.6 515.7,221.6 C515.7,221.6 457.4,221.6 457.4,221.6 C457.4,221.6 457.4,185.3 457.4,185.3Z"/>
<path fill="#78f573" d="M537.7,178.9 C538.4,175.2 539.2,172.4 540.3,169.8 C541.4,167.2 542.5,165.5 544.2,163.3 C545.9,161.2 548.0,158.4 550.7,156.8 C553.3,155.3 558.1,154.7 560.0,154.2 C561.9,153.8 562.3,154.2 562.3,154.2 C562.3,154.2 562.3,221.6 562.3,221.6 C562.3,221.6 535.1,221.6 535.1,221.6 C535.1,221.6 537.5,212.3 537.7,207.4 C537.9,202.4 536.4,196.6 536.4,191.8 C536.4,187.1 537.1,182.5 537.7,178.9Z"/>
<path fill="#78f573" d="M588.5,74.8 C588.5,74.8 667.8,74.8 667.8,74.8 C667.8,74.8 667.8,107.1 667.8,107.1 C667.8,107.1 653.5,110.3 648.4,112.0 C643.2,113.6 640.5,115.5 637.0,116.8 C633.5,118.2 630.6,119.0 627.3,120.0 C624.1,121.1 620.9,122.2 617.6,123.3 C614.4,124.4 610.9,125.4 607.9,126.5 C605.0,127.6 602.3,129.8 599.8,129.8 C597.4,129.8 595.3,127.6 593.4,126.5 C591.5,125.4 590.7,123.6 588.5,123.3 C586.4,123.0 583.1,125.2 580.4,124.9 C577.7,124.6 574.8,122.7 572.3,121.7 C569.9,120.6 567.8,120.0 565.9,118.4 C564.0,116.8 561.6,114.7 561.0,112.0 C560.5,109.3 561.3,105.0 562.6,102.3 C564.0,99.6 566.4,97.4 569.1,95.8 C571.8,94.2 576.1,93.9 578.8,92.6 C581.5,91.2 583.7,90.7 585.3,87.7 C586.9,84.7 588.5,74.8 588.5,74.8Z"/>
<path fill="#78f573" d="M574.0,131.4 C575.3,128.9 579.4,127.1 582.0,126.5 C584.7,126.0 588.0,127.1 590.1,128.1 C592.3,129.2 594.4,130.8 595.0,133.0 C595.5,135.1 594.7,138.9 593.4,141.1 C592.0,143.2 589.3,145.1 586.9,145.9 C584.5,146.7 581.0,146.7 578.8,145.9 C576.7,145.1 574.8,143.5 574.0,141.1 C573.2,138.6 572.6,133.8 574.0,131.4Z"/>
<path fill="#78f573" d="M536.8,158.9 C536.8,158.9 545.7,153.7 549.7,152.4 C553.7,151.0 557.3,150.5 561.0,150.8 C564.8,151.0 568.8,152.7 572.3,154.0 C575.8,155.4 579.4,157.0 582.0,158.9 C584.7,160.7 586.6,161.8 588.5,165.3 C590.4,168.8 593.4,179.9 593.4,179.9 C593.4,179.9 536.8,179.9 536.8,179.9 C536.8,179.9 536.8,158.9 536.8,158.9Z"/>
<path fill="#78f573" d="M536.8,166.8 C536.8,166.8 667.8,166.8 667.8,166.8 C667.8,166.8 667.8,271.9 667.8,271.9 C667.8,271.9 536.8,271.9 536.8,271.9 C536.8,271.9 536.8,166.8 536.8,166.8Z"/>
<path fill="#78f573" d="M467.4,207.4 C467.4,207.4 572.3,207.4 572.3,207.4 C572.3,207.4 572.3,291.6 572.3,291.6 C572.3,291.6 467.4,291.6 467.4,291.6 C467.4,291.6 467.4,207.4 467.4,207.4Z"/>
<path fill="#78f573" d="M557.4,257.4 C557.4,257.4 615.7,257.4 615.7,257.4 C615.7,257.4 617.2,262.6 617.0,265.2 C616.8,267.8 614.6,270.6 614.4,273.0 C614.2,275.3 616.1,277.3 615.7,279.4 C615.3,281.6 612.9,283.5 611.8,285.9 C610.7,288.3 610.3,290.9 609.2,293.7 C608.1,296.5 606.2,300.2 605.3,302.7 C604.5,305.3 604.5,307.3 604.0,309.2 C603.6,311.2 604.0,313.1 602.7,314.4 C601.5,315.7 598.2,316.1 596.3,317.0 C594.3,317.9 593.2,319.2 591.1,319.6 C588.9,320.0 585.7,320.2 583.3,319.6 C580.9,318.9 579.4,316.6 576.8,315.7 C574.2,314.8 571.0,315.1 567.8,314.4 C564.5,313.8 557.4,311.8 557.4,311.8 C557.4,311.8 557.4,257.4 557.4,257.4Z"/>
<path fill="#78f573" d="M622.2,267.8 C623.9,266.7 628.9,267.1 632.5,267.8 C636.2,268.4 639.2,270.4 644.2,271.7 C649.2,273.0 662.3,275.5 662.3,275.5 C662.3,275.5 662.3,280.7 662.3,280.7 C662.3,280.7 654.8,279.9 650.7,279.4 C646.6,279.0 641.4,278.6 637.7,278.1 C634.1,277.7 631.2,277.5 628.7,276.8 C626.1,276.2 623.3,275.8 622.2,274.2 C621.1,272.7 620.4,268.9 622.2,267.8Z"/>
<clipPath id="k1"><rect x="0" y="0" width="800" height="328"/></clipPath>
<path fill="#78f573" clip-path="url(#k1)" d="M474.2,361.6 C474.2,361.6 477.5,354.1 479.4,351.2 C481.4,348.4 483.5,346.7 485.9,344.8 C488.3,342.8 491.1,341.1 493.7,339.6 C496.3,338.1 499.3,336.3 501.5,335.7 C503.6,335.1 505.6,335.1 506.6,335.7 C507.7,336.3 508.1,338.1 507.9,339.6 C507.7,341.1 506.2,343.0 505.3,344.8 C504.5,346.5 503.4,347.1 502.7,349.9 C502.1,352.8 501.5,361.6 501.5,361.6 C501.5,361.6 474.2,361.6 474.2,361.6Z"/>
<path fill="#78f573" d="M457.4,277.4 C457.4,277.4 492.4,277.4 492.4,277.4 C492.4,277.4 491.5,283.0 489.8,285.2 C488.1,287.3 484.4,288.4 482.0,290.4 C479.6,292.3 477.5,294.7 475.5,296.8 C473.6,299.0 471.9,301.2 470.4,303.3 C468.9,305.5 467.8,307.6 466.5,309.8 C465.2,312.0 464.1,314.8 462.6,316.3 C461.1,317.8 457.4,318.9 457.4,318.9 C457.4,318.9 457.4,277.4 457.4,277.4Z"/>
<path fill="#78f573" d="M337.4,181.8 C337.4,181.8 342.6,182.2 345.2,183.1 C347.8,184.0 350.8,186.8 353.0,187.0 C355.1,187.2 356.0,185.3 358.1,184.4 C360.3,183.5 363.3,182.0 365.9,181.8 C368.5,181.6 371.1,182.2 373.7,183.1 C376.3,184.0 378.9,185.7 381.5,187.0 C384.0,188.3 387.1,189.6 389.2,190.9 C391.4,192.2 393.1,193.3 394.4,194.8 C395.7,196.3 395.7,198.7 397.0,199.9 C398.3,201.2 400.4,202.3 402.2,202.5 C403.9,202.8 405.6,201.7 407.4,201.2 C409.1,200.8 410.8,200.4 412.5,199.9 C414.3,199.5 416.4,199.9 417.7,198.7 C419.0,197.4 420.3,194.1 420.3,192.2 C420.3,190.2 417.7,188.5 417.7,187.0 C417.7,185.5 418.6,183.8 420.3,183.1 C422.0,182.5 425.5,182.9 428.1,183.1 C430.7,183.3 433.5,184.2 435.9,184.4 C438.2,184.6 442.3,184.4 442.3,184.4 C442.3,184.4 442.3,211.6 442.3,211.6 C442.3,211.6 337.4,211.6 337.4,211.6 C337.4,211.6 337.4,181.8 337.4,181.8Z"/>
<path fill="#78f573" d="M380.7,287.4 C380.7,287.4 379.9,293.0 380.7,295.2 C381.6,297.3 383.7,299.1 385.9,300.4 C388.1,301.7 391.1,302.3 393.7,303.0 C396.3,303.6 399.5,303.2 401.5,304.2 C403.4,305.3 404.3,307.3 405.3,309.4 C406.4,311.6 406.8,314.8 407.9,317.2 C409.0,319.6 410.5,321.7 411.8,323.7 C413.1,325.6 414.0,327.3 415.7,328.9 C417.4,330.4 419.8,331.9 422.2,332.7 C424.6,333.6 427.8,334.3 429.9,334.0 C432.1,333.8 433.4,332.3 435.1,331.5 C436.9,330.6 438.2,329.5 440.3,328.9 C442.5,328.2 445.5,327.8 448.1,327.6 C450.7,327.3 453.5,327.8 455.9,327.6 C458.2,327.3 462.3,326.3 462.3,326.3 C462.3,326.3 462.3,287.4 462.3,287.4 C462.3,287.4 380.7,287.4 380.7,287.4Z"/>
<path fill="#78f573" clip-path="url(#k0)" d="M470.7,346.8 C470.7,346.8 470.2,360.0 470.7,364.6 C471.3,369.1 472.6,371.3 474.0,374.3 C475.3,377.2 477.2,379.9 478.8,382.3 C480.4,384.8 482.0,387.2 483.7,388.8 C485.3,390.4 486.6,391.8 488.5,392.0 C490.4,392.3 493.4,391.8 495.0,390.4 C496.6,389.1 497.7,386.7 498.2,384.0 C498.8,381.3 497.7,377.5 498.2,374.3 C498.8,371.0 500.4,367.8 501.5,364.6 C502.5,361.3 503.9,357.8 504.7,354.9 C505.5,351.9 506.3,346.8 506.3,346.8 C506.3,346.8 470.7,346.8 470.7,346.8Z"/>
<path fill="#78f573" d="M516.0,430.9 C516.5,429.5 519.2,427.6 520.9,427.6 C522.5,427.6 524.6,429.5 525.7,430.9 C526.8,432.2 527.9,434.5 527.3,435.7 C526.8,436.9 524.1,438.1 522.5,438.1 C520.9,438.1 518.7,436.9 517.6,435.7 C516.5,434.5 515.5,432.2 516.0,430.9Z"/>
<path fill="#78f573" d="M525.7,447.0 C526.0,445.8 527.3,444.6 528.1,444.6 C528.9,444.6 530.3,445.8 530.6,447.0 C530.8,448.2 529.8,451.9 529.8,451.9 C529.8,451.9 526.5,451.9 526.5,451.9 C526.5,451.9 525.4,448.2 525.7,447.0Z"/>
<path fill="#78f573" d="M598.2,339.7 C598.8,338.2 600.9,335.8 603.1,334.9 C605.2,333.9 609.3,333.5 611.2,334.0 C613.0,334.6 614.4,336.5 614.4,338.1 C614.4,339.7 612.8,342.5 611.2,343.7 C609.5,345.0 606.6,345.4 604.7,345.4 C602.8,345.4 600.9,344.7 599.8,343.7 C598.8,342.8 597.7,341.2 598.2,339.7Z"/>
<path fill="#78f573" d="M648.4,326.8 C648.4,326.8 662.9,326.8 662.9,326.8 C662.9,326.8 662.9,351.0 662.9,351.0 C662.9,351.0 653.9,349.7 651.6,347.8 C649.3,345.9 649.7,343.2 649.2,339.7 C648.6,336.2 648.4,326.8 648.4,326.8Z"/>
<path fill="#78f573" d="M651.6,367.2 C651.9,365.0 653.6,363.7 654.0,365.6 C654.4,367.5 654.3,376.4 654.0,378.5 C653.7,380.7 652.8,380.4 652.4,378.5 C652.0,376.6 651.3,369.4 651.6,367.2Z"/>
<path fill="#78f573" d="M516.0,429.7 C516.3,428.4 519.2,427.5 520.9,428.1 C522.5,428.6 525.2,431.5 525.7,432.9 C526.3,434.4 525.2,436.4 524.1,437.0 C523.0,437.5 520.6,437.4 519.2,436.2 C517.9,435.0 515.7,431.1 516.0,429.7Z"/>
<path fill="#78f573" d="M525.7,444.3 C525.8,443.2 527.5,443.5 528.1,444.3 C528.8,445.1 529.9,448.0 529.8,449.1 C529.6,450.2 528.0,451.5 527.3,450.7 C526.7,449.9 525.6,445.3 525.7,444.3Z"/>
<path fill="#78f573" d="M488.5,478.2 C489.3,476.6 492.8,474.2 495.0,473.4 C497.1,472.6 499.8,472.6 501.5,473.4 C503.1,474.2 504.7,476.6 504.7,478.2 C504.7,479.8 503.1,482.1 501.5,483.1 C499.8,484.0 496.9,483.9 495.0,483.9 C493.1,483.9 491.2,484.0 490.1,483.1 C489.1,482.1 487.7,479.8 488.5,478.2Z"/>
<path fill="#78f573" d="M503.1,505.7 C503.6,503.6 506.6,503.3 507.9,504.1 C509.3,504.9 510.6,508.4 511.2,510.6 C511.7,512.7 511.7,515.1 511.2,517.0 C510.6,518.9 507.9,521.9 507.9,521.9 C507.9,521.9 505.5,519.7 504.7,517.0 C503.9,514.3 502.5,507.9 503.1,505.7Z"/>
<path fill="#78f573" d="M591.8,497.3 C592.4,496.3 594.4,495.4 595.8,495.7 C597.1,496.0 599.3,497.5 599.8,498.9 C600.4,500.4 600.0,503.5 599.0,504.6 C598.1,505.7 595.4,505.8 594.2,505.4 C593.0,505.0 592.2,503.5 591.8,502.2 C591.3,500.8 591.1,498.4 591.8,497.3Z"/>
<path fill="#78f573" d="M502.5,507.5 C502.7,505.4 505.8,504.6 507.5,505.0 C509.2,505.4 511.9,507.9 512.5,510.0 C513.1,512.1 512.3,516.2 511.2,517.5 C510.2,518.8 507.7,519.2 506.2,517.5 C504.8,515.8 502.3,509.6 502.5,507.5Z"/>
<path fill="#78f573" d="M512.5,530.0 C514.0,527.9 517.5,526.5 520.0,526.2 C522.5,526.0 525.6,527.3 527.5,528.8 C529.4,530.2 531.2,532.7 531.2,535.0 C531.2,537.3 529.8,541.0 527.5,542.5 C525.2,544.0 520.2,544.4 517.5,543.8 C514.8,543.1 512.1,541.0 511.2,538.8 C510.4,536.5 511.0,532.1 512.5,530.0Z"/>
<path fill="#78f573" d="M590.0,498.8 C590.4,497.3 593.3,496.0 595.0,496.2 C596.7,496.5 599.4,498.5 600.0,500.0 C600.6,501.5 600.0,504.2 598.8,505.0 C597.5,505.8 594.0,506.0 592.5,505.0 C591.0,504.0 589.6,500.2 590.0,498.8Z"/>
<path fill="#78f573" d="M536.0,162.0 C538.3,158.8 544.5,154.8 550.0,153.0 C555.5,151.2 563.2,150.3 569.0,151.0 C574.8,151.7 580.7,154.7 585.0,157.0 C589.3,159.3 593.0,162.5 595.0,165.0 C597.0,167.5 606.8,170.8 597.0,172.0 C587.2,173.2 546.2,173.7 536.0,172.0 C525.8,170.3 533.7,165.2 536.0,162.0Z"/>
<path fill="#b4faaa" d="M317.8,202.8 C319.5,201.5 324.7,201.3 328.1,201.5 C331.6,201.7 335.3,203.0 338.5,204.1 C341.7,205.1 345.8,206.4 347.6,208.0 C349.3,209.5 349.5,211.8 348.9,213.1 C348.2,214.4 346.3,215.5 343.7,215.7 C341.1,215.9 336.8,214.9 333.3,214.4 C329.9,214.0 325.5,214.0 323.0,213.1 C320.4,212.3 318.6,211.0 317.8,209.2 C316.9,207.5 316.0,204.1 317.8,202.8Z"/>
<path fill="#b4faaa" d="M361.8,231.3 C361.8,228.9 362.9,226.1 364.4,223.5 C365.9,220.9 368.5,217.7 370.9,215.7 C373.3,213.8 375.8,212.3 378.7,211.8 C381.5,211.4 385.8,212.1 387.7,213.1 C389.7,214.2 390.7,216.4 390.3,218.3 C389.9,220.3 387.3,222.6 385.1,224.8 C383.0,227.0 379.7,229.3 377.4,231.3 C375.0,233.2 373.0,235.4 370.9,236.5 C368.7,237.5 365.9,238.6 364.4,237.7 C362.9,236.9 361.8,233.6 361.8,231.3Z"/>
<path fill="#b4faaa" d="M303.7,244.0 C304.2,242.1 309.0,239.4 310.2,240.0 C311.4,240.6 310.3,245.6 311.0,247.3 C311.7,249.1 312.7,249.6 314.3,250.5 C315.9,251.4 318.3,252.1 320.7,252.9 C323.1,253.7 326.4,254.4 328.8,255.4 C331.2,256.4 333.4,257.7 335.3,258.6 C337.2,259.5 338.5,260.5 340.1,261.0 C341.7,261.5 343.0,261.7 345.0,261.8 C347.0,261.9 350.8,260.0 352.0,261.8 C353.2,263.6 353.2,271.0 352.0,272.5 C350.8,274.0 347.0,271.5 345.0,270.7 C343.0,269.9 341.5,268.4 340.1,267.5 C338.8,266.6 340.1,265.6 336.9,265.1 C333.7,264.6 324.1,265.0 320.7,264.3 C317.3,263.6 318.3,262.4 316.7,261.0 C315.1,259.6 312.6,257.8 311.0,256.2 C309.4,254.6 308.2,253.3 307.0,251.3 C305.8,249.3 303.2,245.9 303.7,244.0Z"/>
<path fill="#b4faaa" d="M367.4,278.9 C367.4,278.9 375.2,281.0 377.8,282.7 C380.4,284.5 381.0,287.1 383.0,289.2 C384.9,291.4 387.3,294.2 389.4,295.7 C391.6,297.2 393.5,297.6 395.9,298.3 C398.3,298.9 401.5,298.9 403.7,299.6 C405.8,300.2 407.6,300.0 408.9,302.2 C410.2,304.3 410.8,309.1 411.5,312.5 C412.1,316.0 412.7,322.9 412.7,322.9 C412.7,322.9 367.4,322.9 367.4,322.9 C367.4,322.9 367.4,278.9 367.4,278.9Z"/>
<path fill="#b4faaa" d="M536.8,213.7 C536.8,213.7 542.7,213.4 544.9,215.3 C547.0,217.2 548.9,221.2 549.7,225.0 C550.5,228.8 550.5,235.0 549.7,237.9 C548.9,240.9 547.0,242.0 544.9,242.8 C542.7,243.6 536.8,242.8 536.8,242.8 C536.8,242.8 536.8,213.7 536.8,213.7Z"/>
<path fill="#b4faaa" d="M546.5,247.6 C548.1,243.3 552.4,246.5 556.2,246.0 C559.9,245.5 565.9,243.6 569.1,244.4 C572.3,245.2 574.0,248.2 575.6,250.9 C577.2,253.6 577.7,257.1 578.8,260.6 C579.9,264.1 582.0,271.9 582.0,271.9 C582.0,271.9 546.5,271.9 546.5,271.9 C546.5,271.9 544.9,251.9 546.5,247.6Z"/>
<path fill="#b4faaa" d="M593.4,166.8 C593.4,166.8 667.8,166.8 667.8,166.8 C667.8,166.8 667.8,191.0 667.8,191.0 C667.8,191.0 657.8,191.6 653.2,191.0 C648.6,190.5 644.0,189.1 640.3,187.8 C636.5,186.4 634.3,184.3 630.6,182.9 C626.8,181.6 620.6,178.6 617.6,179.7 C614.7,180.8 614.9,187.0 612.8,189.4 C610.6,191.8 607.4,193.5 604.7,194.3 C602.0,195.1 598.2,196.1 596.6,194.3 C595.0,192.4 595.5,187.5 595.0,182.9 C594.4,178.4 593.4,166.8 593.4,166.8Z"/>
<path fill="#b4faaa" d="M630.6,200.7 C632.2,199.4 636.5,198.8 640.3,199.1 C644.0,199.4 648.6,201.8 653.2,202.3 C657.8,202.9 667.8,202.3 667.8,202.3 C667.8,202.3 667.8,212.0 667.8,212.0 C667.8,212.0 655.1,213.7 650.0,213.7 C644.9,213.7 640.3,213.1 637.0,212.0 C633.8,211.0 631.6,209.1 630.6,207.2 C629.5,205.3 628.9,202.1 630.6,200.7Z"/>
<path fill="#b4faaa" d="M643.5,242.8 C644.9,240.9 649.2,241.4 653.2,241.2 C657.3,240.9 667.8,241.2 667.8,241.2 C667.8,241.2 667.8,257.3 667.8,257.3 C667.8,257.3 657.0,258.9 653.2,258.1 C649.4,257.3 646.7,255.0 645.1,252.5 C643.5,249.9 642.2,244.7 643.5,242.8Z"/>
<path fill="#b4faaa" d="M611.2,260.6 C613.9,259.2 619.8,262.7 624.1,263.8 C628.4,264.9 634.3,265.7 637.0,267.0 C639.7,268.4 640.3,271.9 640.3,271.9 C640.3,271.9 607.9,271.9 607.9,271.9 C607.9,271.9 608.5,261.9 611.2,260.6Z"/>
<path fill="#b4faaa" d="M512.7,225.5 C513.8,223.4 516.8,222.5 519.2,221.7 C521.6,220.8 524.4,220.1 527.0,220.4 C529.6,220.6 533.3,221.2 534.8,223.0 C536.3,224.7 536.3,228.1 536.1,230.7 C535.8,233.3 534.8,236.3 533.5,238.5 C532.2,240.7 530.2,242.6 528.3,243.7 C526.3,244.8 524.0,245.2 521.8,245.0 C519.7,244.8 516.8,244.1 515.3,242.4 C513.8,240.7 513.2,237.4 512.7,234.6 C512.3,231.8 511.7,227.7 512.7,225.5Z"/>
<path fill="#b4faaa" d="M521.8,251.5 C522.7,249.7 525.3,249.7 527.0,250.2 C528.7,250.6 531.3,252.3 532.2,254.0 C533.0,255.8 533.0,259.0 532.2,260.5 C531.3,262.0 528.7,263.1 527.0,263.1 C525.3,263.1 522.7,262.5 521.8,260.5 C520.9,258.6 520.9,253.2 521.8,251.5Z"/>
<path fill="#b4faaa" d="M537.4,224.2 C538.7,222.7 542.8,221.2 545.1,221.7 C547.5,222.1 550.7,224.7 551.6,226.8 C552.5,229.0 551.8,233.1 550.3,234.6 C548.8,236.1 544.7,236.6 542.5,235.9 C540.4,235.3 538.2,232.7 537.4,230.7 C536.5,228.8 536.1,225.8 537.4,224.2Z"/>
<path fill="#b4faaa" d="M524.4,207.4 C524.4,207.4 542.5,207.4 542.5,207.4 C542.5,207.4 543.4,212.8 542.5,215.2 C541.7,217.6 539.9,220.4 537.4,221.7 C534.8,223.0 529.2,223.6 527.0,223.0 C524.8,222.3 524.8,220.4 524.4,217.8 C524.0,215.2 524.4,207.4 524.4,207.4Z"/>
<path fill="#b4faaa" d="M552.9,246.3 C554.4,243.2 557.4,243.9 560.7,243.7 C563.9,243.5 572.3,245.0 572.3,245.0 C572.3,245.0 572.3,274.8 572.3,274.8 C572.3,274.8 566.1,277.8 563.3,277.4 C560.5,276.9 557.4,274.8 555.5,272.2 C553.5,269.6 552.0,266.1 551.6,261.8 C551.2,257.5 551.4,249.3 552.9,246.3Z"/>
<path fill="#b4faaa" d="M481.7,282.5 C483.8,280.6 487.9,279.9 490.7,279.9 C493.5,279.9 496.3,281.2 498.5,282.5 C500.7,283.8 502.4,286.2 503.7,287.7 C505.0,289.2 506.3,291.6 506.3,291.6 C506.3,291.6 477.8,291.6 477.8,291.6 C477.8,291.6 479.5,284.5 481.7,282.5Z"/>
<path fill="#b4faaa" d="M542.5,269.6 C544.3,267.9 550.3,268.3 552.9,269.6 C555.5,270.9 558.5,275.2 558.1,277.4 C557.7,279.5 552.9,282.1 550.3,282.5 C547.7,283.0 543.8,282.1 542.5,279.9 C541.2,277.8 540.8,271.3 542.5,269.6Z"/>
<path fill="#b4faaa" d="M557.4,257.4 C557.4,257.4 576.8,257.4 576.8,257.4 C576.8,257.4 579.6,262.6 579.4,265.2 C579.2,267.8 577.5,271.0 575.5,273.0 C573.6,274.9 569.5,274.7 567.8,276.8 C566.0,279.0 566.9,284.0 565.2,285.9 C563.5,287.8 557.4,288.5 557.4,288.5 C557.4,288.5 557.4,257.4 557.4,257.4Z"/>
<path fill="#37d23c" d="M220.1,182.1 C220.9,181.8 223.6,182.2 225.3,182.8 C227.0,183.3 229.8,184.4 230.5,185.4 C231.1,186.3 230.3,188.2 229.2,188.6 C228.1,189.0 225.4,188.6 224.0,188.0 C222.6,187.3 221.4,185.7 220.8,184.7 C220.1,183.8 219.4,182.5 220.1,182.1Z"/>
<path fill="#37d23c" d="M242.2,193.1 C243.2,192.1 246.3,190.8 247.4,189.2 C248.5,187.7 247.6,185.1 248.7,184.1 C249.8,183.0 252.3,182.6 253.9,182.8 C255.4,183.0 256.7,184.1 257.7,185.4 C258.8,186.7 259.5,188.6 260.3,190.5 C261.2,192.5 262.3,195.1 262.9,197.0 C263.6,199.0 264.4,200.7 264.2,202.2 C264.0,203.7 262.9,205.3 261.6,206.1 C260.3,206.8 258.0,207.1 256.5,206.7 C254.9,206.4 253.9,205.1 252.6,204.1 C251.3,203.2 250.0,201.8 248.7,200.9 C247.4,200.0 246.0,199.8 244.8,199.0 C243.6,198.1 242.0,196.7 241.6,195.7 C241.1,194.8 241.2,194.2 242.2,193.1Z"/>
<path fill="#37d23c" d="M232.5,193.8 C232.9,193.1 235.6,192.4 237.0,192.5 C238.4,192.6 240.5,193.7 240.9,194.4 C241.3,195.2 240.7,196.7 239.6,197.0 C238.5,197.3 235.6,196.9 234.4,196.4 C233.2,195.8 232.1,194.4 232.5,193.8Z"/>
<path fill="#37d23c" d="M262.9,204.8 C263.1,203.8 265.0,202.7 266.2,202.8 C267.4,203.0 269.5,204.5 270.1,205.4 C270.6,206.4 270.3,208.1 269.4,208.7 C268.5,209.2 265.9,209.3 264.9,208.7 C263.8,208.0 262.7,205.8 262.9,204.8Z"/>
<path fill="#37d23c" d="M288.8,194.4 C289.4,192.7 291.0,190.3 292.7,189.2 C294.4,188.2 297.0,187.5 299.2,188.0 C301.4,188.4 303.9,189.9 305.7,191.8 C307.4,193.8 309.1,197.0 309.6,199.6 C310.0,202.2 309.3,205.7 308.3,207.4 C307.2,209.1 305.0,209.8 303.1,210.0 C301.1,210.2 298.5,209.5 296.6,208.7 C294.7,207.8 292.6,206.3 291.4,204.8 C290.2,203.3 289.9,201.3 289.5,199.6 C289.1,197.9 288.3,196.2 288.8,194.4Z"/>
<path fill="#37d23c" d="M270.7,217.7 C271.3,215.5 272.6,214.2 274.6,213.2 C276.5,212.2 279.8,212.0 282.4,211.9 C284.9,211.8 288.0,211.8 290.1,212.6 C292.3,213.3 294.1,214.5 295.3,216.5 C296.5,218.4 297.1,221.6 297.3,224.2 C297.4,226.8 297.1,230.1 296.0,232.0 C294.8,233.9 292.6,235.2 290.1,235.9 C287.6,236.5 283.7,236.3 281.1,235.9 C278.5,235.4 276.3,234.8 274.6,233.3 C272.9,231.8 271.3,229.4 270.7,226.8 C270.1,224.2 270.1,220.0 270.7,217.7Z"/>
<path fill="#37d23c" d="M272.0,200.9 C272.8,200.5 275.2,201.0 277.2,201.6 C279.1,202.1 281.5,203.2 283.7,204.1 C285.8,205.1 288.6,206.3 290.1,207.4 C291.6,208.5 292.9,209.9 292.7,210.6 C292.5,211.4 290.6,212.1 288.8,211.9 C287.1,211.7 284.5,210.2 282.4,209.3 C280.2,208.5 277.5,207.6 275.9,206.7 C274.3,205.9 273.3,205.1 272.6,204.1 C272.0,203.2 271.2,201.3 272.0,200.9Z"/>
<path fill="#37d23c" d="M305.7,224.2 C306.4,222.7 308.9,221.8 310.9,221.6 C312.8,221.4 317.3,222.9 317.3,222.9 C317.3,222.9 317.3,237.2 317.3,237.2 C317.3,237.2 312.7,237.0 310.9,235.9 C309.0,234.8 307.2,232.6 306.3,230.7 C305.5,228.8 304.9,225.7 305.7,224.2Z"/>
<path fill="#37d23c" d="M286.7,167.8 C287.1,167.1 288.9,166.4 290.0,166.6 C291.1,166.7 293.0,167.7 293.2,168.5 C293.4,169.3 292.1,170.7 291.3,171.1 C290.4,171.5 288.8,171.6 288.0,171.1 C287.3,170.5 286.4,168.6 286.7,167.8Z"/>
<path fill="#37d23c" d="M289.3,197.0 C289.2,194.8 290.1,193.1 291.3,191.8 C292.5,190.5 294.5,189.5 296.5,189.2 C298.4,188.9 301.0,189.0 302.9,189.9 C304.9,190.7 306.9,192.6 308.1,194.4 C309.3,196.2 309.9,198.7 310.1,200.9 C310.2,203.0 309.9,206.0 308.8,207.4 C307.6,208.8 305.0,209.1 302.9,209.3 C300.9,209.5 298.3,209.4 296.5,208.7 C294.6,207.9 293.1,206.7 291.9,204.8 C290.7,202.8 289.4,199.2 289.3,197.0Z"/>
<path fill="#37d23c" d="M262.8,203.5 C263.6,200.2 265.8,202.2 268.0,202.2 C270.1,202.2 273.1,203.0 275.7,203.5 C278.3,203.9 281.3,204.1 283.5,204.8 C285.7,205.4 287.0,206.5 288.7,207.4 C290.4,208.2 292.6,208.9 293.9,209.9 C295.2,211.0 296.0,211.9 296.5,213.8 C296.9,215.8 296.5,221.6 296.5,221.6 C296.5,221.6 262.8,221.6 262.8,221.6 C262.8,221.6 261.9,206.7 262.8,203.5Z"/>
<path fill="#37d23c" d="M345.7,204.8 C346.8,201.3 348.9,201.7 350.9,200.9 C352.8,200.0 357.3,199.6 357.3,199.6 C357.3,199.6 357.3,221.6 357.3,221.6 C357.3,221.6 344.4,221.6 344.4,221.6 C344.4,221.6 344.6,208.2 345.7,204.8Z"/>
<path fill="#37d23c" d="M314.6,215.1 C315.4,213.6 317.2,213.1 319.8,212.5 C322.4,212.0 327.1,211.7 330.1,211.9 C333.2,212.1 336.2,212.2 337.9,213.8 C339.6,215.5 340.5,221.6 340.5,221.6 C340.5,221.6 314.6,221.6 314.6,221.6 C314.6,221.6 313.7,216.6 314.6,215.1Z"/>
<path fill="#37d23c" d="M307.4,215.7 C307.4,215.7 313.0,214.9 315.2,214.4 C317.3,214.0 318.0,213.4 320.4,213.1 C322.7,212.9 326.4,212.9 329.4,213.1 C332.5,213.4 335.5,214.0 338.5,214.4 C341.5,214.9 345.8,216.8 347.6,215.7 C349.3,214.6 348.4,210.3 348.9,208.0 C349.3,205.6 349.1,202.8 350.2,201.5 C351.2,200.2 353.4,200.0 355.3,200.2 C357.3,200.4 360.3,201.0 361.8,202.8 C363.3,204.5 364.2,207.5 364.4,210.5 C364.6,213.6 364.0,217.9 363.1,220.9 C362.2,223.9 359.9,226.5 359.2,228.7 C358.6,230.8 358.4,232.1 359.2,233.9 C360.1,235.6 362.5,237.7 364.4,239.0 C366.3,240.3 368.3,241.2 370.9,241.6 C373.5,242.1 376.9,241.2 379.9,241.6 C383.0,242.1 386.0,243.1 389.0,244.2 C392.0,245.3 394.2,246.8 398.1,248.1 C402.0,249.4 412.3,252.0 412.3,252.0 C412.3,252.0 412.3,276.6 412.3,276.6 C412.3,276.6 352.7,276.6 352.7,276.6 C352.7,276.6 352.5,270.8 351.5,268.8 C350.4,266.9 348.2,266.0 346.3,264.9 C344.3,263.9 342.0,263.2 339.8,262.4 C337.6,261.5 335.5,260.8 333.3,259.8 C331.2,258.7 329.0,257.2 326.8,255.9 C324.7,254.6 322.5,253.1 320.4,252.0 C318.2,250.9 316.0,250.1 313.9,249.4 C311.7,248.8 307.4,248.1 307.4,248.1 C307.4,248.1 307.4,215.7 307.4,215.7Z"/>
<path fill="#37d23c" d="M377.4,192.4 C377.4,192.4 392.9,192.4 392.9,192.4 C392.9,192.4 392.9,197.5 391.6,198.9 C390.3,200.3 387.3,200.8 385.1,200.8 C383.0,200.8 379.9,200.3 378.7,198.9 C377.4,197.5 377.4,192.4 377.4,192.4Z"/>
<path fill="#37d23c" d="M311.6,218.9 C312.0,216.3 313.0,215.9 314.0,214.9 C315.1,213.8 316.1,213.0 318.1,212.4 C320.1,211.9 323.5,211.5 326.2,211.6 C328.9,211.8 331.8,212.7 334.3,213.2 C336.7,213.8 338.6,214.9 340.7,214.9 C342.9,214.9 345.0,213.4 347.2,213.2 C349.4,213.1 352.3,212.4 353.7,214.0 C355.0,215.7 355.0,220.1 355.3,222.9 C355.6,225.8 354.7,228.9 355.3,231.0 C355.8,233.2 357.2,234.4 358.5,235.9 C359.9,237.4 361.5,238.8 363.4,239.9 C365.3,241.0 368.9,238.7 370.0,242.3 C371.1,246.0 370.0,261.8 370.0,261.8 C370.0,261.8 344.0,261.8 344.0,261.8 C344.0,261.8 340.7,258.2 339.1,256.9 C337.5,255.6 335.9,254.5 334.3,253.7 C332.6,252.9 331.2,252.5 329.4,252.0 C327.7,251.6 325.6,251.6 323.7,251.2 C321.9,250.8 319.7,250.6 318.1,249.6 C316.5,248.7 315.0,247.3 314.0,245.6 C313.1,243.8 312.8,241.7 312.4,239.1 C312.0,236.5 311.8,233.6 311.6,230.2 C311.5,226.8 311.2,221.5 311.6,218.9Z"/>
<path fill="#37d23c" d="M377.4,191.8 C377.4,191.8 383.0,192.3 385.2,193.1 C387.3,194.0 389.7,195.5 390.4,197.0 C391.0,198.5 391.2,201.2 389.1,202.2 C386.9,203.2 377.4,202.8 377.4,202.8 C377.4,202.8 377.4,191.8 377.4,191.8Z"/>
<path fill="#37d23c" d="M377.4,234.6 C377.4,234.6 384.1,232.9 387.8,232.0 C391.4,231.1 395.8,230.5 399.4,229.4 C403.1,228.3 407.0,227.0 409.8,225.5 C412.6,224.0 413.9,221.4 416.3,220.3 C418.6,219.3 421.9,219.0 424.0,219.0 C426.2,219.0 426.6,219.9 429.2,220.3 C431.8,220.8 436.3,221.0 439.6,221.6 C442.8,222.3 446.3,224.0 448.7,224.2 C451.0,224.4 451.9,223.8 453.8,222.9 C455.8,222.1 458.8,221.0 460.3,219.0 C461.8,217.1 462.3,214.3 462.9,211.3 C463.5,208.2 463.1,204.4 464.2,200.9 C465.3,197.5 467.4,192.9 469.4,190.5 C471.3,188.2 473.7,187.5 475.9,186.7 C478.0,185.8 482.3,185.4 482.3,185.4 C482.3,185.4 482.3,256.6 482.3,256.6 C482.3,256.6 377.4,256.6 377.4,256.6 C377.4,256.6 377.4,234.6 377.4,234.6Z"/>
<path fill="#37d23c" d="M367.4,237.4 C367.4,237.4 472.3,237.4 472.3,237.4 C472.3,237.4 472.3,321.6 472.3,321.6 C472.3,321.6 406.3,321.6 406.3,321.6 C406.3,321.6 405.8,310.4 405.0,307.4 C404.1,304.3 403.2,304.0 401.1,303.5 C398.9,302.9 394.8,304.8 392.0,304.1 C389.2,303.5 386.6,301.6 384.2,299.6 C381.9,297.5 379.5,294.4 377.8,291.8 C376.0,289.2 375.6,286.2 373.9,284.0 C372.2,281.9 367.4,278.9 367.4,278.9 C367.4,278.9 367.4,237.4 367.4,237.4Z"/>
<path fill="#37d23c" d="M457.4,208.7 C457.4,208.7 463.2,206.7 465.2,204.8 C467.1,202.8 467.3,199.6 469.1,197.0 C470.8,194.4 473.6,190.7 475.5,189.2 C477.5,187.7 479.2,187.1 480.7,187.9 C482.2,188.8 483.1,192.2 484.6,194.4 C486.1,196.6 487.4,199.6 489.8,200.9 C492.2,202.2 496.3,202.2 498.9,202.2 C501.5,202.2 503.6,201.7 505.3,200.9 C507.1,200.0 507.7,197.6 509.2,197.0 C510.7,196.3 513.3,196.3 514.4,197.0 C515.5,197.6 516.1,199.2 515.7,200.9 C515.3,202.6 512.2,205.0 511.8,207.4 C511.4,209.7 513.1,212.8 513.1,215.1 C513.1,217.5 511.8,221.6 511.8,221.6 C511.8,221.6 457.4,221.6 457.4,221.6 C457.4,221.6 457.4,208.7 457.4,208.7Z"/>
<path fill="#37d23c" d="M542.9,175.0 C544.2,170.7 545.9,170.4 548.1,168.5 C550.2,166.6 553.5,164.8 555.9,163.3 C558.2,161.8 562.3,159.4 562.3,159.4 C562.3,159.4 562.3,221.6 562.3,221.6 C562.3,221.6 548.1,221.6 548.1,221.6 C548.1,221.6 544.2,211.9 542.9,207.4 C541.6,202.8 540.3,199.8 540.3,194.4 C540.3,189.0 541.6,179.3 542.9,175.0Z"/>
<path fill="#37d23c" d="M520.9,211.9 C521.2,210.9 522.5,209.4 523.5,209.3 C524.4,209.2 526.5,210.3 526.7,211.2 C526.9,212.2 525.6,214.5 524.8,215.1 C523.9,215.8 522.2,215.7 521.5,215.1 C520.9,214.6 520.6,212.9 520.9,211.9Z"/>
<path fill="#37d23c" d="M593.4,74.8 C593.4,74.8 667.8,74.8 667.8,74.8 C667.8,74.8 667.8,103.9 667.8,103.9 C667.8,103.9 654.6,107.1 650.0,108.7 C645.4,110.3 643.8,112.2 640.3,113.6 C636.8,114.9 632.7,115.7 628.9,116.8 C625.2,117.9 621.1,119.0 617.6,120.0 C614.1,121.1 610.9,122.7 607.9,123.3 C605.0,123.8 602.0,124.4 599.8,123.3 C597.7,122.2 597.1,117.9 595.0,116.8 C592.8,115.7 589.6,116.3 586.9,116.8 C584.2,117.4 581.8,120.0 578.8,120.0 C575.8,120.0 571.5,118.2 569.1,116.8 C566.7,115.5 564.8,114.4 564.3,112.0 C563.7,109.5 564.5,104.7 565.9,102.3 C567.2,99.8 569.6,98.5 572.3,97.4 C575.0,96.3 579.4,95.5 582.0,95.8 C584.7,96.1 586.6,99.3 588.5,99.0 C590.4,98.8 592.6,98.2 593.4,94.2 C594.2,90.1 593.4,74.8 593.4,74.8Z"/>
<path fill="#37d23c" d="M577.2,131.4 C578.3,129.5 581.5,127.6 583.7,127.3 C585.8,127.1 588.7,128.3 590.1,129.8 C591.6,131.2 592.8,134.2 592.6,136.2 C592.3,138.2 590.3,140.8 588.5,141.9 C586.8,143.0 583.9,143.2 582.0,142.7 C580.2,142.2 578.0,140.5 577.2,138.6 C576.4,136.8 576.1,133.3 577.2,131.4Z"/>
<path fill="#37d23c" d="M536.8,168.6 C536.8,168.6 545.7,163.7 549.7,162.1 C553.7,160.5 557.5,158.9 561.0,158.9 C564.5,158.9 567.8,160.5 570.7,162.1 C573.7,163.7 576.7,165.6 578.8,168.6 C581.0,171.5 583.7,179.9 583.7,179.9 C583.7,179.9 536.8,179.9 536.8,179.9 C536.8,179.9 536.8,168.6 536.8,168.6Z"/>
<path fill="#37d23c" d="M536.8,166.8 C536.8,166.8 578.8,166.8 578.8,166.8 C578.8,166.8 578.9,175.7 578.8,179.7 C578.7,183.7 578.3,187.3 578.0,191.0 C577.7,194.8 576.0,199.1 577.2,202.3 C578.4,205.6 582.6,208.3 585.3,210.4 C588.0,212.6 590.4,215.0 593.4,215.3 C596.3,215.6 599.8,212.9 603.1,212.0 C606.3,211.2 609.3,210.4 612.8,210.4 C616.3,210.4 620.1,211.2 624.1,212.0 C628.1,212.9 632.7,214.2 637.0,215.3 C641.3,216.4 646.7,217.2 650.0,218.5 C653.2,219.9 655.4,219.9 656.4,223.4 C657.5,226.9 657.3,236.0 656.4,239.5 C655.6,243.0 653.5,244.1 651.6,244.4 C649.7,244.7 647.5,241.2 645.1,241.2 C642.7,241.2 638.4,242.2 637.0,244.4 C635.7,246.5 638.1,251.9 637.0,254.1 C636.0,256.3 633.3,257.3 630.6,257.3 C627.9,257.3 624.1,255.2 620.9,254.1 C617.6,253.0 613.9,250.9 611.2,250.9 C608.5,250.9 607.1,252.5 604.7,254.1 C602.3,255.7 598.8,258.4 596.6,260.6 C594.4,262.7 593.1,265.1 591.8,267.0 C590.4,268.9 588.5,271.9 588.5,271.9 C588.5,271.9 572.3,271.9 572.3,271.9 C572.3,271.9 570.2,264.6 569.1,260.6 C568.0,256.5 567.5,250.9 565.9,247.6 C564.3,244.4 561.6,242.5 559.4,241.2 C557.3,239.8 554.6,240.6 552.9,239.5 C551.3,238.5 551.1,238.2 549.7,234.7 C548.4,231.2 547.0,222.6 544.9,218.5 C542.7,214.5 536.8,210.4 536.8,210.4 C536.8,210.4 536.8,166.8 536.8,166.8Z"/>
<path fill="#37d23c" d="M536.8,242.8 C536.8,242.8 544.0,243.0 546.5,244.4 C548.9,245.7 551.3,248.7 551.3,250.9 C551.3,253.0 548.9,256.3 546.5,257.3 C544.0,258.4 536.8,257.3 536.8,257.3 C536.8,257.3 536.8,242.8 536.8,242.8Z"/>
<path fill="#37d23c" d="M467.4,207.4 C467.4,207.4 508.9,207.4 508.9,207.4 C508.9,207.4 512.3,214.7 512.7,217.8 C513.2,220.8 511.9,222.5 511.5,225.5 C511.0,228.6 510.6,232.5 510.2,235.9 C509.7,239.4 508.6,242.8 508.9,246.3 C509.1,249.7 509.7,253.6 511.5,256.6 C513.2,259.7 517.9,261.6 519.2,264.4 C520.5,267.2 520.9,271.7 519.2,273.5 C517.5,275.2 511.7,275.0 508.9,274.8 C506.1,274.6 504.5,273.3 502.4,272.2 C500.2,271.1 498.1,269.2 495.9,268.3 C493.7,267.4 491.6,266.8 489.4,267.0 C487.3,267.2 484.9,267.9 483.0,269.6 C481.0,271.3 479.1,274.3 477.8,277.4 C476.5,280.4 476.9,285.3 475.2,287.7 C473.5,290.1 467.4,291.6 467.4,291.6 C467.4,291.6 467.4,207.4 467.4,207.4Z"/>
<path fill="#37d23c" d="M527.0,245.0 C527.4,243.2 531.7,241.6 534.8,241.1 C537.8,240.5 542.5,241.1 545.1,241.7 C547.7,242.4 549.9,243.6 550.3,245.0 C550.7,246.4 549.4,248.9 547.7,250.2 C546.0,251.5 542.5,252.5 539.9,252.7 C537.4,253.0 534.3,252.7 532.2,251.5 C530.0,250.2 526.6,246.7 527.0,245.0Z"/>
<path fill="#37d23c" d="M545.1,207.4 C545.1,207.4 572.3,207.4 572.3,207.4 C572.3,207.4 572.3,242.4 572.3,242.4 C572.3,242.4 566.1,242.6 563.3,241.1 C560.5,239.6 557.2,235.9 555.5,233.3 C553.8,230.7 554.2,228.1 552.9,225.5 C551.6,223.0 549.0,220.8 547.7,217.8 C546.4,214.7 545.1,207.4 545.1,207.4Z"/>
<path fill="#37d23c" d="M520.5,210.0 C521.1,209.1 523.3,208.9 524.4,209.4 C525.5,209.8 527.0,211.5 527.0,212.6 C527.0,213.7 525.4,215.5 524.4,215.8 C523.4,216.2 521.8,215.5 521.2,214.5 C520.5,213.6 520.0,210.9 520.5,210.0Z"/>
<path fill="#37d23c" d="M585.9,283.3 C587.0,281.4 590.9,280.9 593.7,280.7 C596.5,280.5 600.6,281.2 602.7,282.0 C604.9,282.9 606.6,284.2 606.6,285.9 C606.6,287.6 604.0,290.2 602.7,292.4 C601.5,294.5 600.2,297.3 598.9,298.9 C597.6,300.4 596.3,301.9 595.0,301.5 C593.7,301.0 592.4,297.8 591.1,296.3 C589.8,294.8 588.1,294.5 587.2,292.4 C586.3,290.2 584.8,285.3 585.9,283.3Z"/>
<path fill="#37d23c" d="M585.9,260.0 C586.6,258.7 591.1,257.4 591.1,257.4 C591.1,257.4 598.9,257.4 598.9,257.4 C598.9,257.4 599.9,263.5 598.9,265.2 C597.8,266.9 594.3,267.8 592.4,267.8 C590.4,267.8 588.3,266.5 587.2,265.2 C586.1,263.9 585.3,261.3 585.9,260.0Z"/>
<path fill="#37d23c" d="M615.7,257.4 C615.7,257.4 662.3,257.4 662.3,257.4 C662.3,257.4 662.3,273.0 662.3,273.0 C662.3,273.0 654.8,271.4 650.7,270.4 C646.6,269.3 641.6,267.6 637.7,266.5 C633.8,265.4 630.6,264.5 627.4,263.9 C624.1,263.2 620.2,263.7 618.3,262.6 C616.3,261.5 615.7,257.4 615.7,257.4Z"/>
<path fill="#37d23c" d="M650.7,341.6 C650.7,341.6 652.2,332.8 653.3,329.9 C654.3,327.1 655.6,325.6 657.2,324.8 C658.7,323.9 662.3,324.8 662.3,324.8 C662.3,324.8 662.3,341.6 662.3,341.6 C662.3,341.6 650.7,341.6 650.7,341.6Z"/>
<path fill="#37d23c" d="M607.9,336.4 C608.3,335.7 609.7,334.5 610.5,334.5 C611.4,334.5 612.9,335.7 613.1,336.4 C613.3,337.2 612.6,338.6 611.8,339.0 C611.1,339.4 609.2,339.4 608.6,339.0 C607.9,338.6 607.6,337.2 607.9,336.4Z"/>
<path fill="#37d23c" clip-path="url(#k1)" d="M478.1,361.6 C478.1,361.6 481.4,355.1 483.3,352.5 C485.3,349.9 487.4,348.0 489.8,346.1 C492.2,344.1 495.2,342.3 497.6,340.9 C499.9,339.5 502.5,337.9 504.0,337.6 C505.6,337.4 506.5,338.4 506.6,339.6 C506.7,340.8 505.6,343.0 504.7,344.8 C503.8,346.5 502.2,347.1 501.5,349.9 C500.7,352.8 500.2,361.6 500.2,361.6 C500.2,361.6 478.1,361.6 478.1,361.6Z"/>
<path fill="#37d23c" d="M457.4,277.4 C457.4,277.4 485.9,277.4 485.9,277.4 C485.9,277.4 483.7,283.0 482.0,285.2 C480.3,287.3 477.5,288.4 475.5,290.4 C473.6,292.3 471.9,294.7 470.4,296.8 C468.9,299.0 467.8,301.2 466.5,303.3 C465.2,305.5 464.1,308.1 462.6,309.8 C461.1,311.5 457.4,313.7 457.4,313.7 C457.4,313.7 457.4,277.4 457.4,277.4Z"/>
<path fill="#37d23c" d="M365.9,189.6 C366.6,188.1 368.9,186.8 371.1,187.0 C373.2,187.2 376.3,189.6 378.9,190.9 C381.5,192.2 384.5,193.7 386.6,194.8 C388.8,195.8 391.4,196.1 391.8,197.4 C392.2,198.7 390.9,201.7 389.2,202.5 C387.5,203.4 384.3,203.0 381.5,202.5 C378.6,202.1 374.8,201.0 372.4,199.9 C370.0,198.9 368.3,197.8 367.2,196.1 C366.1,194.3 365.3,191.1 365.9,189.6Z"/>
<path fill="#37d23c" d="M347.8,205.1 C348.6,203.4 351.2,201.7 353.0,201.2 C354.7,200.8 356.6,201.5 358.1,202.5 C359.6,203.6 361.4,206.2 362.0,207.7 C362.7,209.2 362.0,211.6 362.0,211.6 C362.0,211.6 347.8,211.6 347.8,211.6 C347.8,211.6 346.9,206.9 347.8,205.1Z"/>
<path fill="#37d23c" d="M382.7,287.4 C382.7,287.4 383.4,291.9 384.6,293.9 C385.8,295.8 387.8,298.0 389.8,299.1 C391.7,300.1 394.1,300.4 396.3,300.4 C398.4,300.4 401.0,299.5 402.7,299.1 C404.5,298.6 405.6,297.1 406.6,297.8 C407.7,298.4 408.6,300.8 409.2,303.0 C409.9,305.1 409.9,307.9 410.5,310.7 C411.2,313.5 412.0,317.4 413.1,319.8 C414.2,322.2 415.3,323.5 417.0,325.0 C418.7,326.5 421.3,328.0 423.5,328.9 C425.6,329.7 427.8,330.2 429.9,330.2 C432.1,330.2 434.3,329.5 436.4,328.9 C438.6,328.2 440.5,326.9 442.9,326.3 C445.3,325.6 447.4,325.6 450.7,325.0 C453.9,324.3 462.3,322.4 462.3,322.4 C462.3,322.4 462.3,287.4 462.3,287.4 C462.3,287.4 382.7,287.4 382.7,287.4Z"/>
<path fill="#37d23c" clip-path="url(#k0)" d="M472.3,346.8 C472.3,346.8 471.8,357.3 472.3,361.3 C472.9,365.4 474.2,368.1 475.6,371.0 C476.9,374.0 478.8,376.8 480.4,379.1 C482.0,381.4 483.7,383.4 485.3,384.8 C486.9,386.1 488.5,387.2 490.1,387.2 C491.8,387.2 493.9,386.1 495.0,384.8 C496.1,383.4 496.3,381.4 496.6,379.1 C496.9,376.8 496.1,374.0 496.6,371.0 C497.1,368.1 498.8,364.6 499.8,361.3 C500.9,358.1 502.3,354.0 503.1,351.6 C503.9,349.2 504.7,346.8 504.7,346.8 C504.7,346.8 472.3,346.8 472.3,346.8Z"/>
<path fill="#37d23c" d="M528.1,370.2 C528.4,369.3 530.3,368.5 531.4,368.6 C532.5,368.7 534.3,370.1 534.6,371.0 C534.9,372.0 533.8,373.7 533.0,374.3 C532.2,374.8 530.6,374.9 529.8,374.3 C528.9,373.6 527.9,371.2 528.1,370.2Z"/>
<path fill="#37d23c" d="M519.2,431.7 C519.5,431.0 520.9,429.9 521.7,430.1 C522.5,430.2 524.0,431.7 524.1,432.5 C524.2,433.3 523.2,434.6 522.5,434.9 C521.8,435.2 520.6,434.6 520.1,434.1 C519.5,433.6 519.0,432.3 519.2,431.7Z"/>
<path fill="#37d23c" d="M606.3,337.3 C606.7,336.3 609.1,334.9 610.4,334.9 C611.6,334.9 613.5,336.3 613.6,337.3 C613.7,338.2 612.1,340.0 611.2,340.5 C610.2,341.1 608.7,341.1 607.9,340.5 C607.1,340.0 605.9,338.2 606.3,337.3Z"/>
<path fill="#37d23c" d="M650.0,331.6 C650.4,329.5 653.2,326.8 653.2,326.8 C653.2,326.8 662.9,326.8 662.9,326.8 C662.9,326.8 662.9,349.4 662.9,349.4 C662.9,349.4 655.2,347.8 653.2,346.2 C651.2,344.6 651.3,342.1 650.8,339.7 C650.2,337.3 649.6,333.8 650.0,331.6Z"/>
<path fill="#37d23c" d="M491.8,479.8 C491.8,478.8 494.7,476.6 495.8,476.6 C496.9,476.6 498.2,478.8 498.2,479.8 C498.2,480.9 496.9,483.1 495.8,483.1 C494.7,483.1 491.8,480.9 491.8,479.8Z"/>
<path fill="#37d23c" d="M506.3,510.6 C506.4,509.5 508.1,508.4 508.7,508.9 C509.4,509.5 510.5,512.7 510.4,513.8 C510.2,514.9 508.6,516.0 507.9,515.4 C507.3,514.9 506.2,511.6 506.3,510.6Z"/>
<path fill="#37d23c" d="M519.2,431.3 C519.4,430.4 521.0,429.3 521.7,429.7 C522.3,430.1 523.4,432.8 523.3,433.7 C523.2,434.7 521.5,435.8 520.9,435.4 C520.2,435.0 519.1,432.3 519.2,431.3Z"/>
<path fill="#37d23c" d="M594.2,499.8 C594.5,499.1 595.9,498.7 596.6,498.9 C597.3,499.2 598.2,500.6 598.2,501.4 C598.2,502.2 597.2,503.5 596.6,503.8 C596.0,504.1 595.1,503.7 594.7,503.0 C594.3,502.3 593.9,500.4 594.2,499.8Z"/>
<path fill="#37d23c" d="M517.5,531.2 C518.1,529.6 521.9,528.3 523.8,528.8 C525.6,529.2 528.3,532.1 528.8,533.8 C529.2,535.4 527.7,537.9 526.2,538.8 C524.8,539.6 521.5,540.0 520.0,538.8 C518.5,537.5 516.9,532.9 517.5,531.2Z"/>
<path fill="#37d23c" d="M593.8,499.5 C594.2,498.8 596.3,498.2 597.0,498.8 C597.7,499.2 598.4,501.8 598.0,502.5 C597.6,503.2 595.2,503.5 594.5,503.0 C593.8,502.5 593.3,500.2 593.8,499.5Z"/>
<path fill="#37d23c" d="M543.0,168.0 C545.0,165.0 550.5,161.7 555.0,160.0 C559.5,158.3 565.3,157.5 570.0,158.0 C574.7,158.5 579.7,160.7 583.0,163.0 C586.3,165.3 588.8,169.5 590.0,172.0 C591.2,174.5 597.8,177.0 590.0,178.0 C582.2,179.0 550.8,179.7 543.0,178.0 C535.2,176.3 541.0,171.0 543.0,168.0Z"/>
<path fill="#78f573" d="M390.7,237.4 C390.7,237.4 408.9,237.4 408.9,237.4 C408.9,237.4 412.3,245.0 412.7,247.8 C413.2,250.6 412.5,253.0 411.5,254.2 C410.4,255.5 408.2,256.0 406.3,255.5 C404.3,255.1 402.0,253.4 399.8,251.7 C397.6,249.9 394.8,247.6 393.3,245.2 C391.8,242.8 390.7,237.4 390.7,237.4Z"/>
<path fill="#0fa00f" d="M252.6,194.4 C253.3,193.4 255.4,191.6 256.5,191.8 C257.5,192.1 258.5,194.2 259.0,195.7 C259.6,197.2 259.9,199.5 259.7,200.9 C259.5,202.3 258.6,203.9 257.7,204.1 C256.9,204.4 255.5,203.2 254.5,202.2 C253.5,201.2 252.2,199.6 251.9,198.3 C251.6,197.0 251.8,195.5 252.6,194.4Z"/>
<path fill="#0fa00f" d="M290.8,197.0 C290.8,194.6 291.5,193.0 292.7,191.8 C293.9,190.7 296.0,189.9 297.9,189.9 C299.8,189.9 302.7,190.4 304.4,191.8 C306.1,193.2 307.7,195.9 308.3,198.3 C308.8,200.7 308.5,204.3 307.6,206.1 C306.8,207.9 304.7,208.5 303.1,208.9 C301.5,209.4 299.6,209.4 297.9,208.9 C296.2,208.5 293.9,208.1 292.7,206.1 C291.5,204.1 290.8,199.4 290.8,197.0Z"/>
<path fill="#0fa00f" d="M272.0,219.0 C272.6,217.0 274.2,215.4 275.9,214.5 C277.6,213.6 280.0,213.6 282.4,213.6 C284.7,213.6 288.2,213.8 290.1,214.5 C292.1,215.2 293.0,216.1 294.0,217.7 C295.0,219.4 295.9,222.1 296.0,224.2 C296.1,226.4 295.7,229.0 294.7,230.7 C293.6,232.4 291.6,233.8 289.5,234.6 C287.3,235.3 284.1,235.6 281.7,235.2 C279.3,234.9 276.9,234.0 275.2,232.6 C273.6,231.2 272.5,229.1 272.0,226.8 C271.5,224.5 271.3,221.1 272.0,219.0Z"/>
<path fill="#0fa00f" d="M308.3,230.7 C308.5,229.5 310.6,228.3 312.2,228.1 C313.7,227.9 317.3,229.4 317.3,229.4 C317.3,229.4 317.3,235.9 317.3,235.9 C317.3,235.9 312.4,236.1 310.9,235.2 C309.3,234.4 308.0,231.9 308.3,230.7Z"/>
<path fill="#0fa00f" d="M290.6,198.3 C290.6,196.6 291.4,194.3 292.6,193.1 C293.8,191.9 295.9,191.3 297.7,191.2 C299.6,191.1 302.0,191.5 303.6,192.5 C305.2,193.4 306.6,195.2 307.5,197.0 C308.3,198.8 308.9,201.6 308.8,203.5 C308.6,205.3 308.0,207.1 306.8,208.0 C305.6,208.9 303.4,208.8 301.6,208.7 C299.9,208.5 298.0,208.2 296.5,207.4 C294.9,206.5 293.5,205.0 292.6,203.5 C291.6,202.0 290.6,200.0 290.6,198.3Z"/>
<path fill="#0fa00f" d="M273.1,203.5 C273.6,202.7 276.6,202.0 278.3,202.2 C280.0,202.4 283.1,203.9 283.5,204.8 C283.9,205.6 282.2,207.0 280.9,207.4 C279.6,207.7 277.0,207.4 275.7,206.7 C274.4,206.1 272.7,204.2 273.1,203.5Z"/>
<path fill="#0fa00f" d="M270.5,216.4 C271.6,214.9 274.6,213.2 277.0,212.5 C279.4,211.9 282.2,212.0 284.8,212.5 C287.4,213.1 290.8,214.3 292.6,215.8 C294.3,217.3 295.2,221.6 295.2,221.6 C295.2,221.6 270.5,221.6 270.5,221.6 C270.5,221.6 269.5,217.9 270.5,216.4Z"/>
<path fill="#0fa00f" d="M315.9,219.0 C317.0,217.9 319.8,215.9 322.4,215.1 C324.9,214.4 328.8,214.1 331.4,214.5 C334.0,214.9 336.6,216.5 337.9,217.7 C339.2,218.9 339.2,221.6 339.2,221.6 C339.2,221.6 315.9,221.6 315.9,221.6 C315.9,221.6 314.8,220.1 315.9,219.0Z"/>
<path fill="#0fa00f" d="M352.2,207.4 C353.2,204.6 357.3,204.8 357.3,204.8 C357.3,204.8 357.3,221.6 357.3,221.6 C357.3,221.6 350.9,221.6 350.9,221.6 C350.9,221.6 351.1,210.2 352.2,207.4Z"/>
<path fill="#0fa00f" d="M372.2,244.2 C373.5,242.3 377.4,243.8 379.9,244.2 C382.5,244.7 385.3,245.7 387.7,246.8 C390.1,247.9 391.6,249.4 394.2,250.7 C396.8,252.0 400.2,253.7 403.3,254.6 C406.3,255.4 412.3,255.9 412.3,255.9 C412.3,255.9 412.3,276.6 412.3,276.6 C412.3,276.6 387.7,276.6 387.7,276.6 C387.7,276.6 382.5,271.0 379.9,267.5 C377.4,264.1 373.5,259.8 372.2,255.9 C370.9,252.0 370.9,246.2 372.2,244.2Z"/>
<path fill="#0fa00f" d="M316.1,220.5 C316.4,219.0 316.5,218.2 317.3,217.3 C318.0,216.4 319.0,215.7 320.5,215.3 C322.0,214.9 324.4,214.8 326.2,214.9 C327.9,214.9 329.4,215.3 331.0,215.7 C332.6,216.1 334.3,216.6 335.9,217.3 C337.5,218.0 339.0,219.3 340.7,219.7 C342.5,220.1 344.9,220.0 346.4,219.7 C347.9,219.4 348.7,218.0 349.6,217.7 C350.6,217.4 351.5,217.2 352.0,218.1 C352.6,219.0 352.9,221.3 352.9,222.9 C352.9,224.6 352.3,226.3 352.0,227.8 C351.8,229.3 351.0,230.6 351.2,231.8 C351.5,233.0 352.5,234.0 353.7,235.1 C354.9,236.1 356.9,237.1 358.5,238.3 C360.1,239.5 361.8,241.3 363.4,242.3 C365.0,243.4 366.9,244.3 368.2,244.8 C369.6,245.2 371.5,245.2 371.5,245.2 C371.5,245.2 371.5,261.8 371.5,261.8 C371.5,261.8 348.8,261.8 348.8,261.8 C348.8,261.8 344.1,256.9 342.3,255.3 C340.6,253.7 339.6,253.0 338.3,252.0 C337.0,251.1 335.7,250.3 334.3,249.6 C332.8,248.9 331.0,248.4 329.4,248.0 C327.8,247.6 326.2,247.6 324.6,247.2 C322.9,246.8 320.9,246.4 319.7,245.6 C318.5,244.8 317.9,243.7 317.3,242.3 C316.7,241.0 316.5,239.2 316.1,237.5 C315.7,235.7 315.0,233.7 314.9,231.8 C314.7,229.9 315.1,228.1 315.3,226.2 C315.5,224.3 315.7,222.0 316.1,220.5Z"/>
<path fill="#0fa00f" d="M424.0,222.9 C425.3,219.5 429.2,221.4 431.8,221.6 C434.4,221.8 437.0,223.4 439.6,224.2 C442.2,225.1 445.2,225.9 447.4,226.8 C449.5,227.7 450.8,229.2 452.5,229.4 C454.3,229.6 455.8,228.5 457.7,228.1 C459.7,227.7 462.0,227.2 464.2,226.8 C466.4,226.4 468.7,225.9 470.7,225.5 C472.6,225.1 473.9,224.7 475.9,224.2 C477.8,223.8 482.3,222.9 482.3,222.9 C482.3,222.9 482.3,256.6 482.3,256.6 C482.3,256.6 422.7,256.6 422.7,256.6 C422.7,256.6 423.8,248.0 424.0,242.4 C424.3,236.7 422.7,226.4 424.0,222.9Z"/>
<path fill="#0fa00f" d="M470.7,189.2 C471.3,186.9 473.9,187.0 475.9,186.7 C477.8,186.3 482.3,187.3 482.3,187.3 C482.3,187.3 482.3,208.7 482.3,208.7 C482.3,208.7 477.6,208.7 475.9,207.4 C474.1,206.1 472.8,203.9 472.0,200.9 C471.1,197.9 470.0,191.6 470.7,189.2Z"/>
<path fill="#0fa00f" d="M367.4,237.4 C367.4,237.4 388.1,237.4 388.1,237.4 C388.1,237.4 392.0,242.8 394.6,245.2 C397.2,247.6 400.7,249.5 403.7,251.7 C406.7,253.8 410.6,256.0 412.7,258.1 C414.9,260.3 415.6,262.5 416.6,264.6 C417.7,266.8 417.9,269.1 419.2,271.1 C420.5,273.0 422.5,274.8 424.4,276.3 C426.3,277.8 428.7,278.6 430.9,280.2 C433.0,281.7 435.8,283.8 437.4,285.3 C438.9,286.8 439.1,289.2 439.9,289.2 C440.8,289.2 442.1,287.1 442.5,285.3 C443.0,283.6 443.4,280.8 442.5,278.9 C441.7,276.9 439.3,275.4 437.4,273.7 C435.4,272.0 432.4,270.4 430.9,268.5 C429.4,266.6 429.2,264.2 428.3,262.0 C427.4,259.9 426.3,257.9 425.7,255.5 C425.1,253.2 425.1,250.8 424.4,247.8 C423.8,244.7 421.8,237.4 421.8,237.4 C421.8,237.4 472.3,237.4 472.3,237.4 C472.3,237.4 472.3,321.6 472.3,321.6 C472.3,321.6 408.9,321.6 408.9,321.6 C408.9,321.6 407.8,309.1 407.6,304.8 C407.3,300.4 408.9,296.2 407.6,295.7 C406.3,295.2 402.4,300.4 399.8,301.5 C397.2,302.6 394.4,302.9 392.0,302.2 C389.6,301.4 387.7,299.2 385.5,297.0 C383.4,294.8 380.6,291.8 379.1,289.2 C377.6,286.6 378.4,283.6 376.5,281.5 C374.5,279.3 367.4,276.3 367.4,276.3 C367.4,276.3 367.4,237.4 367.4,237.4Z"/>
<path fill="#0fa00f" d="M545.5,189.2 C545.9,186.0 546.4,183.4 548.1,181.5 C549.8,179.5 553.5,178.4 555.9,177.6 C558.2,176.7 562.3,176.3 562.3,176.3 C562.3,176.3 562.3,221.6 562.3,221.6 C562.3,221.6 553.3,221.6 553.3,221.6 C553.3,221.6 549.4,216.0 548.1,212.5 C546.8,209.1 545.9,204.8 545.5,200.9 C545.1,197.0 545.1,192.5 545.5,189.2Z"/>
<path fill="#0fa00f" d="M553.3,175.0 C553.7,174.1 556.9,172.8 558.4,172.4 C560.0,172.0 562.3,172.4 562.3,172.4 C562.3,172.4 562.3,177.6 562.3,177.6 C562.3,177.6 557.4,178.0 555.9,177.6 C554.3,177.1 552.8,175.8 553.3,175.0Z"/>
<path fill="#0fa00f" d="M595.8,87.7 C596.9,83.4 599.8,74.8 599.8,74.8 C599.8,74.8 667.8,74.8 667.8,74.8 C667.8,74.8 667.8,105.5 667.8,105.5 C667.8,105.5 650.8,109.0 645.1,110.3 C639.5,111.7 637.3,112.5 633.8,113.6 C630.3,114.7 627.3,115.7 624.1,116.8 C620.9,117.9 617.6,119.2 614.4,120.0 C611.2,120.9 607.4,122.2 604.7,121.7 C602.0,121.1 599.8,119.0 598.2,116.8 C596.6,114.7 596.6,110.1 595.0,108.7 C593.4,107.4 590.4,107.9 588.5,108.7 C586.6,109.5 585.6,112.2 583.7,113.6 C581.8,114.9 579.6,116.5 577.2,116.8 C574.8,117.1 571.0,116.5 569.1,115.2 C567.2,113.8 566.1,110.9 565.9,108.7 C565.6,106.6 566.1,104.0 567.5,102.3 C568.8,100.5 571.5,98.9 574.0,98.2 C576.4,97.5 579.6,97.5 582.0,98.2 C584.5,98.9 586.6,101.9 588.5,102.3 C590.4,102.7 592.2,103.1 593.4,100.6 C594.6,98.2 594.7,92.0 595.8,87.7Z"/>
<path fill="#0fa00f" d="M552.9,175.0 C554.3,173.4 558.3,170.9 561.0,170.2 C563.7,169.5 567.0,169.4 569.1,171.0 C571.3,172.6 574.0,179.9 574.0,179.9 C574.0,179.9 552.9,179.9 552.9,179.9 C552.9,179.9 551.6,176.7 552.9,175.0Z"/>
<path fill="#0fa00f" d="M544.9,182.9 C546.2,179.2 550.5,176.7 552.9,174.9 C555.4,173.0 557.0,172.2 559.4,171.6 C561.8,171.0 565.1,170.5 567.5,171.3 C569.9,172.1 572.1,174.3 574.0,176.5 C575.8,178.7 578.3,181.1 578.8,184.6 C579.4,188.1 578.3,193.5 577.2,197.5 C576.1,201.5 574.2,205.8 572.3,208.8 C570.5,211.8 568.6,213.9 565.9,215.3 C563.2,216.6 559.1,217.7 556.2,216.9 C553.2,216.1 550.0,213.7 548.1,210.4 C546.2,207.2 545.4,202.1 544.9,197.5 C544.3,192.9 543.5,186.7 544.9,182.9Z"/>
<path fill="#0fa00f" d="M570.7,216.9 C571.8,216.4 575.0,217.7 577.2,218.5 C579.4,219.3 582.9,220.7 583.7,221.8 C584.5,222.8 583.4,224.7 582.0,225.0 C580.7,225.3 577.5,223.9 575.6,223.4 C573.7,222.8 571.5,222.8 570.7,221.8 C569.9,220.7 569.6,217.4 570.7,216.9Z"/>
<path fill="#0fa00f" d="M564.3,225.8 C565.1,224.7 569.9,224.7 572.3,225.0 C574.8,225.3 578.3,226.3 578.8,227.4 C579.4,228.5 577.5,230.8 575.6,231.5 C573.7,232.1 569.4,232.4 567.5,231.5 C565.6,230.5 563.5,226.9 564.3,225.8Z"/>
<path fill="#0fa00f" d="M570.7,233.1 C571.8,232.5 576.4,233.6 577.2,234.7 C578.0,235.8 576.7,239.0 575.6,239.5 C574.5,240.1 571.5,239.0 570.7,237.9 C569.9,236.8 569.6,233.6 570.7,233.1Z"/>
<path fill="#0fa00f" d="M617.6,229.8 C618.7,228.5 624.1,227.1 627.3,226.6 C630.6,226.1 633.8,226.1 637.0,226.6 C640.3,227.1 644.6,228.5 646.7,229.8 C648.9,231.2 650.0,232.8 650.0,234.7 C650.0,236.6 648.9,240.1 646.7,241.2 C644.6,242.2 639.7,241.7 637.0,241.2 C634.3,240.6 633.3,239.0 630.6,237.9 C627.9,236.8 623.0,236.0 620.9,234.7 C618.7,233.3 616.5,231.2 617.6,229.8Z"/>
<path fill="#0fa00f" d="M595.0,233.1 C595.3,231.2 598.2,229.6 599.8,229.8 C601.5,230.1 603.9,232.8 604.7,234.7 C605.5,236.6 605.8,240.1 604.7,241.2 C603.6,242.2 599.8,242.5 598.2,241.2 C596.6,239.8 594.7,235.0 595.0,233.1Z"/>
<path fill="#0fa00f" d="M467.4,223.0 C467.4,223.0 472.8,224.2 475.2,225.5 C477.6,226.8 480.4,228.6 481.7,230.7 C483.0,232.9 483.2,235.5 483.0,238.5 C482.7,241.5 481.2,245.8 480.4,248.9 C479.5,251.9 479.9,254.9 477.8,256.6 C475.6,258.4 467.4,259.2 467.4,259.2 C467.4,259.2 467.4,223.0 467.4,223.0Z"/>
<path fill="#0fa00f" d="M497.2,225.5 C497.4,224.5 499.6,223.6 501.1,224.2 C502.6,224.9 505.6,228.0 506.3,229.4 C506.9,230.8 506.1,232.5 505.0,232.7 C503.9,232.9 501.1,231.9 499.8,230.7 C498.5,229.5 497.0,226.6 497.2,225.5Z"/>
<path fill="#0fa00f" d="M488.1,239.8 C488.8,238.2 489.2,236.2 490.7,235.3 C492.2,234.3 495.3,233.9 497.2,234.0 C499.1,234.1 501.1,234.3 502.4,235.9 C503.7,237.5 504.8,240.9 505.0,243.7 C505.2,246.5 504.5,250.4 503.7,252.7 C502.8,255.1 501.3,257.3 499.8,257.9 C498.3,258.6 496.3,257.7 494.6,256.6 C492.9,255.6 490.7,253.4 489.4,251.5 C488.1,249.5 487.1,246.9 486.8,245.0 C486.6,243.0 487.5,241.4 488.1,239.8Z"/>
<path fill="#0fa00f" d="M467.4,261.8 C467.4,261.8 472.8,260.1 475.2,260.5 C477.6,260.9 480.1,262.7 481.7,264.4 C483.2,266.1 484.9,268.7 484.2,270.9 C483.6,273.0 479.3,275.0 477.8,277.4 C476.3,279.7 476.9,282.8 475.2,285.1 C473.5,287.5 467.4,291.6 467.4,291.6 C467.4,291.6 467.4,261.8 467.4,261.8Z"/>
<path fill="#0fa00f" d="M550.3,207.4 C550.3,207.4 565.9,207.4 565.9,207.4 C565.9,207.4 566.7,213.5 565.9,215.2 C565.0,216.9 562.6,217.8 560.7,217.8 C558.7,217.8 555.9,216.9 554.2,215.2 C552.5,213.5 550.3,207.4 550.3,207.4Z"/>
<path fill="#0fa00f" d="M560.7,224.2 C560.7,223.0 563.9,223.0 565.9,223.0 C567.8,223.0 572.3,224.2 572.3,224.2 C572.3,224.2 572.3,232.0 572.3,232.0 C572.3,232.0 567.8,232.0 565.9,230.7 C563.9,229.4 560.7,225.5 560.7,224.2Z"/>
<path fill="#0fa00f" d="M493.3,259.2 C494.0,258.1 497.6,258.6 499.8,259.2 C502.0,259.9 503.9,262.0 506.3,263.1 C508.6,264.2 512.1,264.6 514.0,265.7 C516.0,266.8 517.5,268.1 517.9,269.6 C518.4,271.1 518.1,274.1 516.6,274.8 C515.1,275.4 511.2,274.1 508.9,273.5 C506.5,272.8 504.5,272.2 502.4,270.9 C500.2,269.6 497.4,267.6 495.9,265.7 C494.4,263.8 492.7,260.3 493.3,259.2Z"/>
<path fill="#0fa00f" d="M642.9,257.4 C642.9,257.4 662.3,257.4 662.3,257.4 C662.3,257.4 662.3,267.8 662.3,267.8 C662.3,267.8 656.1,266.0 653.3,265.2 C650.5,264.3 647.2,263.9 645.5,262.6 C643.8,261.3 642.9,257.4 642.9,257.4Z"/>
<path fill="#0fa00f" d="M653.3,341.6 C653.3,341.6 654.3,334.7 655.9,332.5 C657.4,330.4 662.3,328.7 662.3,328.7 C662.3,328.7 662.3,341.6 662.3,341.6 C662.3,341.6 653.3,341.6 653.3,341.6Z"/>
<path fill="#0fa00f" clip-path="url(#k1)" d="M482.0,361.6 C482.0,361.6 484.2,356.2 485.9,353.8 C487.6,351.5 490.2,349.3 492.4,347.4 C494.5,345.4 496.8,343.6 498.9,342.2 C500.9,340.8 503.6,339.0 504.7,338.9 C505.8,338.8 505.7,340.1 505.3,341.5 C505.0,342.9 503.6,345.5 502.7,347.4 C501.9,349.2 500.8,350.2 500.2,352.5 C499.5,354.9 498.9,361.6 498.9,361.6 C498.9,361.6 482.0,361.6 482.0,361.6Z"/>
<path fill="#0fa00f" d="M457.4,277.4 C457.4,277.4 480.7,277.4 480.7,277.4 C480.7,277.4 479.4,281.9 478.1,283.9 C476.8,285.8 474.7,287.1 473.0,289.1 C471.2,291.0 469.3,293.4 467.8,295.5 C466.3,297.7 465.0,300.1 463.9,302.0 C462.8,304.0 462.4,305.9 461.3,307.2 C460.2,308.5 457.4,309.8 457.4,309.8 C457.4,309.8 457.4,277.4 457.4,277.4Z"/>
<path fill="#0fa00f" d="M384.0,287.4 C384.0,287.4 385.8,292.3 387.2,293.9 C388.6,295.5 390.4,296.7 392.4,297.1 C394.3,297.6 396.9,297.0 398.9,296.5 C400.8,295.9 402.5,294.5 404.0,293.9 C405.6,293.2 406.8,291.5 407.9,292.6 C409.0,293.7 409.9,297.6 410.5,300.4 C411.2,303.2 411.2,306.4 411.8,309.4 C412.5,312.5 413.1,316.1 414.4,318.5 C415.7,320.9 417.6,322.2 419.6,323.7 C421.5,325.2 423.9,326.9 426.1,327.6 C428.2,328.2 430.2,328.0 432.5,327.6 C434.9,327.1 437.7,325.8 440.3,325.0 C442.9,324.1 444.4,323.2 448.1,322.4 C451.8,321.5 462.3,319.8 462.3,319.8 C462.3,319.8 462.3,287.4 462.3,287.4 C462.3,287.4 384.0,287.4 384.0,287.4Z"/>
<path fill="#0fa00f" clip-path="url(#k0)" d="M474.0,346.8 C474.0,346.8 473.4,356.2 474.0,359.7 C474.5,363.2 475.8,365.1 477.2,367.8 C478.5,370.5 480.4,373.6 482.0,375.9 C483.7,378.2 485.3,380.3 486.9,381.5 C488.5,382.7 490.4,383.4 491.8,383.2 C493.1,382.9 494.4,381.7 495.0,379.9 C495.5,378.2 494.6,375.5 495.0,372.6 C495.4,369.8 496.5,366.2 497.4,362.9 C498.4,359.7 499.8,355.9 500.6,353.2 C501.5,350.5 502.3,346.8 502.3,346.8 C502.3,346.8 474.0,346.8 474.0,346.8Z"/>
<path fill="#0fa00f" d="M529.8,371.0 C529.9,370.5 531.6,370.0 532.2,370.2 C532.8,370.4 533.6,371.8 533.5,372.3 C533.3,372.9 532.0,373.7 531.4,373.5 C530.8,373.2 529.6,371.6 529.8,371.0Z"/>
<path fill="#0fa00f" d="M651.6,334.9 C651.9,332.7 652.9,330.8 654.8,330.0 C656.7,329.2 662.9,330.0 662.9,330.0 C662.9,330.0 662.9,347.8 662.9,347.8 C662.9,347.8 655.1,345.1 653.2,342.9 C651.3,340.8 651.3,337.0 651.6,334.9Z"/>
<path fill="#0fa00f" d="M595.3,500.6 C595.5,500.2 596.6,500.0 596.9,500.2 C597.3,500.5 597.6,501.8 597.4,502.2 C597.2,502.6 596.1,502.9 595.8,502.7 C595.4,502.4 595.1,501.0 595.3,500.6Z"/>
<path fill="#96d2fa" d="M254.5,197.7 C254.6,196.9 255.7,196.0 256.5,196.0 C257.2,196.0 258.5,197.0 258.8,197.7 C259.1,198.4 258.9,199.8 258.4,200.3 C257.9,200.8 256.5,201.1 255.8,200.6 C255.2,200.2 254.4,198.4 254.5,197.7Z"/>
<path fill="#96d2fa" d="M292.1,199.6 C292.0,197.7 293.0,195.5 294.0,194.4 C295.0,193.4 296.4,192.9 297.9,193.1 C299.4,193.4 301.6,194.4 303.1,195.7 C304.6,197.0 306.2,199.3 307.0,200.9 C307.7,202.5 308.0,204.3 307.6,205.4 C307.2,206.6 305.8,207.5 304.4,208.0 C303.0,208.6 300.8,209.0 299.2,208.7 C297.6,208.4 295.9,207.6 294.7,206.1 C293.5,204.6 292.2,201.6 292.1,199.6Z"/>
<path fill="#96d2fa" d="M273.3,221.6 C273.5,219.3 274.4,217.5 275.9,216.5 C277.4,215.4 280.2,215.3 282.4,215.2 C284.5,215.0 287.0,215.2 288.8,215.8 C290.7,216.5 292.3,217.6 293.4,219.0 C294.4,220.4 295.1,222.5 295.3,224.2 C295.5,225.9 295.3,227.9 294.7,229.4 C294.0,230.9 293.0,232.4 291.4,233.3 C289.8,234.2 287.1,234.7 284.9,234.8 C282.8,235.0 280.2,234.6 278.5,233.9 C276.7,233.2 275.4,232.8 274.6,230.7 C273.7,228.6 273.1,224.0 273.3,221.6Z"/>
<path fill="#96d2fa" d="M292.6,198.3 C292.8,196.8 293.4,194.7 294.5,193.8 C295.6,192.8 297.5,192.2 299.0,192.5 C300.6,192.7 302.4,193.9 303.6,195.1 C304.8,196.2 305.4,198.0 306.2,199.6 C306.9,201.2 308.1,203.4 308.1,204.8 C308.1,206.2 307.5,207.4 306.2,208.0 C304.9,208.7 302.1,208.9 300.3,208.7 C298.6,208.4 297.0,207.7 295.8,206.7 C294.6,205.7 293.8,204.2 293.2,202.8 C292.7,201.4 292.3,199.8 292.6,198.3Z"/>
<path fill="#96d2fa" d="M273.1,219.0 C274.0,218.0 276.2,216.3 278.3,215.8 C280.5,215.2 283.9,215.3 286.1,215.8 C288.2,216.2 290.2,217.4 291.3,218.4 C292.3,219.3 292.6,221.6 292.6,221.6 C292.6,221.6 273.1,221.6 273.1,221.6 C273.1,221.6 272.3,220.0 273.1,219.0Z"/>
<path fill="#96d2fa" d="M318.5,220.1 C319.3,219.3 321.7,217.7 323.7,217.1 C325.6,216.5 328.2,216.1 330.1,216.4 C332.1,216.7 334.3,218.2 335.3,219.0 C336.3,219.9 336.0,221.6 336.0,221.6 C336.0,221.6 318.5,221.6 318.5,221.6 C318.5,221.6 317.6,220.8 318.5,220.1Z"/>
<path fill="#96d2fa" d="M373.5,246.8 C374.8,244.2 378.0,246.4 379.9,246.8 C381.9,247.2 383.4,248.3 385.1,249.4 C386.9,250.5 388.2,252.0 390.3,253.3 C392.5,254.6 395.5,256.1 398.1,257.2 C400.7,258.3 403.5,259.1 405.9,259.8 C408.2,260.4 412.3,261.1 412.3,261.1 C412.3,261.1 412.3,276.6 412.3,276.6 C412.3,276.6 377.4,276.6 377.4,276.6 C377.4,276.6 372.8,267.3 372.2,262.4 C371.5,257.4 372.2,249.4 373.5,246.8Z"/>
<path fill="#96d2fa" d="M317.7,220.5 C317.8,219.4 318.0,218.4 318.9,217.7 C319.8,217.0 321.2,216.7 322.9,216.5 C324.7,216.3 327.5,216.1 329.4,216.5 C331.3,216.9 332.6,218.1 334.3,218.9 C335.9,219.7 337.5,220.6 339.1,221.3 C340.7,222.0 342.3,222.4 344.0,222.9 C345.6,223.5 347.8,223.6 348.8,224.6 C349.8,225.5 349.9,227.1 350.0,228.6 C350.2,230.1 349.2,232.0 349.6,233.5 C350.1,234.9 351.6,236.3 352.9,237.5 C354.1,238.7 355.6,239.6 356.9,240.7 C358.2,241.8 359.5,243.0 360.9,244.0 C362.4,244.9 364.0,245.8 365.8,246.4 C367.5,246.9 371.5,247.2 371.5,247.2 C371.5,247.2 371.5,261.8 371.5,261.8 C371.5,261.8 350.4,261.8 350.4,261.8 C350.4,261.8 346.4,257.6 344.8,256.1 C343.2,254.6 341.9,253.9 340.7,252.9 C339.5,251.8 338.7,250.7 337.5,249.6 C336.3,248.5 334.7,247.2 333.5,246.4 C332.2,245.6 331.4,244.9 330.2,244.8 C329.0,244.6 327.7,245.7 326.2,245.6 C324.7,245.4 322.5,244.8 321.3,244.0 C320.1,243.2 319.4,242.1 318.9,240.7 C318.4,239.4 318.4,237.6 318.1,235.9 C317.8,234.1 317.3,232.1 317.3,230.2 C317.3,228.3 318.0,226.2 318.1,224.6 C318.2,222.9 317.5,221.7 317.7,220.5Z"/>
<path fill="#96d2fa" d="M427.9,229.4 C429.1,226.9 432.0,227.5 434.4,227.5 C436.8,227.5 439.8,228.4 442.2,229.4 C444.6,230.4 446.7,232.4 448.7,233.3 C450.6,234.2 452.1,234.8 453.8,234.6 C455.6,234.4 457.3,232.9 459.0,232.0 C460.7,231.1 462.3,230.3 464.2,229.4 C466.1,228.5 468.5,227.4 470.7,226.8 C472.8,226.3 475.2,226.2 477.2,226.2 C479.1,226.2 482.3,226.8 482.3,226.8 C482.3,226.8 482.3,256.6 482.3,256.6 C482.3,256.6 427.9,256.6 427.9,256.6 C427.9,256.6 427.3,246.9 427.3,242.4 C427.3,237.8 426.7,231.9 427.9,229.4Z"/>
<path fill="#96d2fa" d="M367.4,237.4 C367.4,237.4 385.5,237.4 385.5,237.4 C385.5,237.4 390.5,244.7 393.3,247.8 C396.1,250.8 399.4,253.2 402.4,255.5 C405.4,257.9 409.3,259.9 411.5,262.0 C413.6,264.2 414.3,266.3 415.3,268.5 C416.4,270.7 416.4,273.2 417.9,275.0 C419.4,276.7 422.2,277.6 424.4,278.9 C426.6,280.2 428.9,281.2 430.9,282.7 C432.8,284.3 434.6,286.7 436.1,287.9 C437.6,289.1 438.7,290.5 439.9,289.9 C441.2,289.2 443.2,286.1 443.8,284.0 C444.5,282.0 444.5,279.5 443.8,277.6 C443.2,275.6 441.5,273.9 439.9,272.4 C438.4,270.9 436.5,269.8 434.8,268.5 C433.0,267.2 430.9,266.3 429.6,264.6 C428.3,262.9 427.4,260.9 427.0,258.1 C426.6,255.3 427.0,251.2 427.0,247.8 C427.0,244.3 427.0,237.4 427.0,237.4 C427.0,237.4 472.3,237.4 472.3,237.4 C472.3,237.4 472.3,262.0 472.3,262.0 C472.3,262.0 463.0,260.9 460.7,262.0 C458.3,263.1 458.1,265.5 458.1,268.5 C458.1,271.5 458.9,277.6 460.7,280.2 C462.4,282.7 466.5,283.2 468.4,284.0 C470.4,284.9 472.3,285.3 472.3,285.3 C472.3,285.3 472.3,321.6 472.3,321.6 C472.3,321.6 412.7,321.6 412.7,321.6 C412.7,321.6 411.7,315.3 411.5,312.5 C411.2,309.7 411.2,307.8 411.5,304.8 C411.7,301.7 413.0,297.2 412.7,294.4 C412.5,291.6 411.2,288.4 410.2,287.9 C409.1,287.5 408.0,290.3 406.3,291.8 C404.5,293.3 402.0,295.7 399.8,297.0 C397.6,298.3 395.3,300.2 393.3,299.6 C391.4,298.9 389.9,295.5 388.1,293.1 C386.4,290.7 384.2,287.7 383.0,285.3 C381.7,283.0 381.9,280.6 380.4,278.9 C378.9,277.1 376.0,276.1 373.9,275.0 C371.7,273.9 367.4,272.4 367.4,272.4 C367.4,272.4 367.4,237.4 367.4,237.4Z"/>
<path fill="#96d2fa" d="M548.1,191.8 C548.5,189.7 549.4,187.9 550.7,186.6 C552.0,185.3 553.9,184.6 555.9,184.0 C557.8,183.5 562.3,183.4 562.3,183.4 C562.3,183.4 562.3,212.5 562.3,212.5 C562.3,212.5 557.8,212.1 555.9,211.2 C553.9,210.4 552.0,209.3 550.7,207.4 C549.4,205.4 548.5,202.2 548.1,199.6 C547.7,197.0 547.7,194.0 548.1,191.8Z"/>
<path fill="#96d2fa" d="M596.6,95.8 C597.3,92.6 597.1,85.4 599.8,82.9 C602.5,80.3 607.7,80.8 612.8,80.4 C617.9,80.0 624.9,80.2 630.6,80.4 C636.2,80.7 642.7,80.8 646.7,82.0 C650.8,83.3 653.3,85.1 654.8,87.7 C656.3,90.3 655.9,94.7 655.6,97.4 C655.4,100.1 655.0,102.3 653.2,103.9 C651.5,105.5 648.1,106.0 645.1,107.1 C642.2,108.2 638.7,109.0 635.4,110.3 C632.2,111.7 628.9,113.7 625.7,115.2 C622.5,116.7 619.0,118.4 616.0,119.2 C613.0,120.0 610.4,120.5 607.9,120.0 C605.5,119.6 603.2,118.4 601.5,116.8 C599.7,115.2 598.4,112.8 597.4,110.3 C596.5,107.9 595.9,104.7 595.8,102.3 C595.7,99.8 595.9,99.0 596.6,95.8Z"/>
<path fill="#96d2fa" d="M568.3,110.3 C567.6,108.1 568.7,104.1 569.9,102.3 C571.1,100.4 573.6,99.4 575.6,99.0 C577.6,98.6 580.2,99.0 582.0,99.8 C583.9,100.6 586.2,102.1 586.9,103.9 C587.6,105.6 587.0,108.5 586.1,110.3 C585.1,112.2 583.3,114.3 581.2,115.2 C579.2,116.1 576.1,116.8 574.0,116.0 C571.8,115.2 569.0,112.6 568.3,110.3Z"/>
<path fill="#96d2fa" d="M547.3,189.4 C547.7,186.2 549.3,184.4 551.3,182.9 C553.3,181.5 557.0,181.1 559.4,180.5 C561.8,180.0 563.7,179.0 565.9,179.7 C568.0,180.4 571.0,182.4 572.3,184.6 C573.7,186.7 574.2,189.7 574.0,192.6 C573.7,195.6 572.1,199.6 570.7,202.3 C569.4,205.0 567.8,207.5 565.9,208.8 C564.0,210.2 561.6,210.4 559.4,210.4 C557.3,210.4 554.7,210.2 552.9,208.8 C551.2,207.5 549.8,205.6 548.9,202.3 C548.0,199.1 546.9,192.6 547.3,189.4Z"/>
<path fill="#96d2fa" d="M599.8,233.9 C600.4,232.8 602.5,232.7 604.7,233.1 C606.8,233.5 609.8,235.5 612.8,236.3 C615.7,237.1 619.5,236.8 622.5,237.9 C625.4,239.0 628.1,240.9 630.6,242.8 C633.0,244.7 634.9,247.1 637.0,249.2 C639.2,251.4 640.8,253.8 643.5,255.7 C646.2,257.6 649.2,259.5 653.2,260.6 C657.3,261.6 667.8,262.2 667.8,262.2 C667.8,262.2 667.8,268.7 667.8,268.7 C667.8,268.7 650.8,269.5 645.1,268.7 C639.5,267.8 637.3,265.4 633.8,263.8 C630.3,262.2 627.1,260.6 624.1,258.9 C621.1,257.3 618.7,256.3 616.0,254.1 C613.3,251.9 610.4,248.4 607.9,246.0 C605.5,243.6 602.8,241.6 601.5,239.5 C600.1,237.5 599.3,235.0 599.8,233.9Z"/>
<path fill="#96d2fa" d="M627.3,233.1 C627.7,232.6 629.9,232.0 630.6,232.3 C631.2,232.5 631.8,234.2 631.4,234.7 C631.0,235.1 628.8,235.3 628.1,235.0 C627.5,234.7 626.9,233.5 627.3,233.1Z"/>
<path fill="#96d2fa" d="M467.4,228.1 C467.4,228.1 473.2,228.1 475.2,229.4 C477.1,230.7 478.6,232.9 479.1,235.9 C479.5,238.9 478.6,244.3 477.8,247.6 C476.9,250.8 475.6,253.8 473.9,255.3 C472.2,256.8 467.4,256.6 467.4,256.6 C467.4,256.6 467.4,228.1 467.4,228.1Z"/>
<path fill="#96d2fa" d="M490.7,241.1 C491.0,239.3 491.6,237.4 492.7,236.6 C493.7,235.7 495.8,235.6 497.2,235.9 C498.6,236.2 500.1,237.0 501.1,238.5 C502.1,240.0 502.9,242.8 503.0,245.0 C503.1,247.1 502.6,249.8 501.7,251.5 C500.9,253.1 499.3,254.5 497.8,254.7 C496.4,254.9 494.5,253.9 493.3,252.7 C492.1,251.6 491.2,249.5 490.7,247.6 C490.3,245.6 490.4,242.9 490.7,241.1Z"/>
<path fill="#96d2fa" d="M467.4,279.9 C467.4,279.9 472.6,281.2 473.9,282.5 C475.2,283.8 476.3,286.2 475.2,287.7 C474.1,289.2 467.4,291.6 467.4,291.6 C467.4,291.6 467.4,279.9 467.4,279.9Z"/>
<path fill="#96d2fa" d="M632.5,257.4 C632.5,257.4 640.3,257.4 640.3,257.4 C640.3,257.4 647.0,261.5 650.7,262.6 C654.3,263.7 662.3,263.9 662.3,263.9 C662.3,263.9 662.3,267.8 662.3,267.8 C662.3,267.8 654.3,267.1 650.7,266.5 C647.0,265.8 643.3,265.4 640.3,263.9 C637.3,262.4 632.5,257.4 632.5,257.4Z"/>
<path fill="#96d2fa" d="M656.5,341.6 C656.5,341.6 657.5,335.3 658.4,333.8 C659.4,332.3 662.3,332.5 662.3,332.5 C662.3,332.5 662.3,341.6 662.3,341.6 C662.3,341.6 656.5,341.6 656.5,341.6Z"/>
<path fill="#96d2fa" clip-path="url(#k1)" d="M483.3,361.6 C483.3,361.6 486.6,356.2 488.5,353.8 C490.4,351.5 492.8,349.2 495.0,347.4 C497.1,345.5 499.8,343.9 501.5,342.8 C503.1,341.7 504.5,340.1 504.7,340.9 C504.9,341.6 503.7,345.2 502.7,347.4 C501.8,349.5 499.7,351.5 498.9,353.8 C498.0,356.2 497.6,361.6 497.6,361.6 C497.6,361.6 483.3,361.6 483.3,361.6Z"/>
<path fill="#96d2fa" d="M457.4,277.4 C457.4,277.4 478.1,277.4 478.1,277.4 C478.1,277.4 476.8,281.9 475.5,283.9 C474.2,285.8 471.9,287.3 470.4,289.1 C468.9,290.8 467.8,292.3 466.5,294.2 C465.2,296.2 464.1,299.0 462.6,300.7 C461.1,302.5 457.4,304.6 457.4,304.6 C457.4,304.6 457.4,277.4 457.4,277.4Z"/>
<path fill="#96d2fa" d="M385.3,287.4 C385.3,287.4 387.1,291.3 388.5,292.6 C389.9,293.9 392.0,295.0 393.7,295.2 C395.4,295.4 397.1,294.5 398.9,293.9 C400.6,293.2 402.4,291.7 404.0,291.3 C405.7,290.9 407.4,290.0 408.6,291.3 C409.8,292.6 410.4,296.3 411.2,299.1 C411.9,301.9 412.4,305.1 413.1,308.1 C413.9,311.2 414.4,314.8 415.7,317.2 C417.0,319.6 418.9,320.9 420.9,322.4 C422.8,323.9 425.2,325.6 427.4,326.3 C429.5,326.9 431.5,326.7 433.8,326.3 C436.2,325.8 439.0,324.5 441.6,323.7 C444.2,322.8 445.9,322.0 449.4,321.1 C452.8,320.2 462.3,318.5 462.3,318.5 C462.3,318.5 462.3,287.4 462.3,287.4 C462.3,287.4 385.3,287.4 385.3,287.4Z"/>
<path fill="#96d2fa" clip-path="url(#k0)" d="M475.6,346.8 C475.6,346.8 474.5,354.9 474.8,358.1 C475.0,361.3 475.7,363.7 477.2,366.2 C478.7,368.6 481.8,370.6 483.7,372.6 C485.6,374.7 487.2,377.0 488.5,378.3 C489.9,379.6 490.9,381.0 491.8,380.7 C492.6,380.5 493.4,378.3 493.4,376.7 C493.4,375.1 491.6,373.3 491.8,371.0 C491.9,368.7 493.2,365.6 494.2,362.9 C495.1,360.2 496.6,357.5 497.4,354.9 C498.2,352.2 499.0,346.8 499.0,346.8 C499.0,346.8 475.6,346.8 475.6,346.8Z"/>
<path fill="#96d2fa" d="M654.0,333.2 C654.3,331.3 655.0,331.9 656.4,331.6 C657.9,331.3 662.9,331.6 662.9,331.6 C662.9,331.6 662.9,347.8 662.9,347.8 C662.9,347.8 656.3,345.4 654.8,342.9 C653.3,340.5 653.7,335.1 654.0,333.2Z"/>
<path fill="#0fa00f" d="M458.0,258.0 C459.8,255.8 466.1,255.4 470.0,255.0 C473.9,254.6 479.0,253.8 481.3,255.5 C483.6,257.2 484.0,261.1 484.0,265.0 C484.0,268.9 483.9,277.4 481.3,278.8 C478.7,280.2 472.1,275.3 468.4,273.6 C464.7,271.9 461.0,271.0 459.3,268.4 C457.6,265.8 456.2,260.2 458.0,258.0Z"/>
<path fill="#50a5f5" d="M294.0,199.6 C294.1,198.1 295.1,196.4 296.0,195.7 C296.8,195.1 298.1,195.3 299.2,195.7 C300.3,196.2 301.6,197.0 302.4,198.3 C303.3,199.6 304.3,202.1 304.4,203.5 C304.5,204.9 303.9,206.1 303.1,206.7 C302.2,207.4 300.5,207.7 299.2,207.4 C297.9,207.1 296.2,206.1 295.3,204.8 C294.4,203.5 293.9,201.1 294.0,199.6Z"/>
<path fill="#50a5f5" d="M273.9,222.9 C274.3,221.2 275.1,218.8 276.5,217.7 C277.9,216.7 280.4,216.6 282.4,216.5 C284.3,216.3 286.6,216.5 288.2,217.1 C289.8,217.7 291.1,218.9 292.1,220.3 C293.0,221.7 293.9,223.9 294.0,225.5 C294.1,227.1 293.6,228.9 292.7,230.1 C291.9,231.2 290.6,232.0 288.8,232.6 C287.1,233.3 284.3,234.0 282.4,233.9 C280.4,233.8 278.5,233.0 277.2,232.0 C275.8,231.0 274.9,229.6 274.3,228.1 C273.8,226.6 273.6,224.7 273.9,222.9Z"/>
<path fill="#50a5f5" d="M293.9,198.9 C293.9,197.3 294.9,195.8 295.8,195.1 C296.7,194.3 298.1,194.1 299.0,194.4 C300.0,194.7 300.9,195.7 301.6,197.0 C302.4,198.3 303.4,200.7 303.6,202.2 C303.8,203.7 303.6,205.3 302.9,206.1 C302.3,206.8 300.9,206.9 299.7,206.7 C298.5,206.5 296.8,206.1 295.8,204.8 C294.8,203.5 293.9,200.6 293.9,198.9Z"/>
<path fill="#50a5f5" d="M274.4,220.1 C275.3,219.3 277.5,217.5 279.6,217.1 C281.8,216.7 285.7,217.0 287.4,217.7 C289.1,218.5 290.0,221.6 290.0,221.6 C290.0,221.6 274.4,221.6 274.4,221.6 C274.4,221.6 273.6,220.8 274.4,220.1Z"/>
<path fill="#50a5f5" d="M374.8,249.4 C376.3,247.4 379.9,249.0 382.5,250.1 C385.1,251.1 387.3,254.0 390.3,255.9 C393.3,257.7 397.0,259.6 400.7,261.1 C404.3,262.6 412.3,264.9 412.3,264.9 C412.3,264.9 412.3,276.6 412.3,276.6 C412.3,276.6 377.4,276.6 377.4,276.6 C377.4,276.6 373.9,266.9 373.5,262.4 C373.0,257.8 373.3,251.5 374.8,249.4Z"/>
<path fill="#50a5f5" d="M320.5,222.1 C320.9,220.9 321.6,219.5 322.9,218.9 C324.3,218.3 326.8,218.2 328.6,218.5 C330.4,218.8 331.8,219.8 333.5,220.5 C335.1,221.3 336.7,222.1 338.3,222.9 C339.9,223.7 341.9,224.4 343.2,225.4 C344.4,226.3 345.2,227.3 345.6,228.6 C346.0,229.9 346.1,232.4 345.6,233.5 C345.0,234.5 343.8,234.7 342.3,235.1 C340.9,235.5 338.6,236.0 336.7,235.9 C334.8,235.7 332.8,234.7 331.0,234.3 C329.3,233.9 327.7,234.0 326.2,233.5 C324.7,232.9 323.1,232.2 322.1,231.0 C321.2,229.8 320.8,227.7 320.5,226.2 C320.2,224.7 320.1,223.3 320.5,222.1Z"/>
<path fill="#50a5f5" d="M336.7,239.1 C337.4,237.8 339.2,236.4 340.7,235.9 C342.2,235.3 343.7,235.1 345.6,235.9 C347.5,236.7 350.2,239.4 352.0,240.7 C353.9,242.1 355.1,242.9 356.9,244.0 C358.7,245.0 360.1,246.4 362.6,247.2 C365.0,248.0 371.5,248.8 371.5,248.8 C371.5,248.8 371.5,261.8 371.5,261.8 C371.5,261.8 352.9,261.8 352.9,261.8 C352.9,261.8 348.9,258.4 347.2,256.9 C345.4,255.4 343.8,254.2 342.3,252.9 C340.9,251.5 339.2,250.3 338.3,248.8 C337.4,247.3 337.0,245.6 336.7,244.0 C336.4,242.3 336.0,240.5 336.7,239.1Z"/>
<path fill="#50a5f5" d="M434.4,237.2 C435.3,235.2 437.4,235.7 439.6,235.9 C441.7,236.1 445.2,237.4 447.4,238.5 C449.5,239.6 450.4,242.1 452.5,242.4 C454.7,242.6 457.7,240.6 460.3,239.8 C462.9,238.9 465.9,237.2 468.1,237.2 C470.2,237.2 472.0,238.0 473.3,239.8 C474.6,241.5 475.9,244.7 475.9,247.5 C475.9,250.3 473.3,256.6 473.3,256.6 C473.3,256.6 435.7,256.6 435.7,256.6 C435.7,256.6 434.6,250.8 434.4,247.5 C434.2,244.3 433.5,239.1 434.4,237.2Z"/>
<path fill="#50a5f5" d="M367.4,245.2 C367.4,245.2 374.5,246.3 377.8,247.8 C381.0,249.3 383.4,252.1 386.8,254.2 C390.3,256.4 395.0,258.8 398.5,260.7 C402.0,262.7 405.4,264.0 407.6,265.9 C409.7,267.8 411.2,270.0 411.5,272.4 C411.7,274.8 410.2,277.6 408.9,280.2 C407.6,282.7 405.8,285.6 403.7,287.9 C401.5,290.3 397.8,293.1 395.9,294.4 C394.0,295.7 393.5,296.6 392.0,295.7 C390.5,294.8 388.4,292.0 386.8,289.2 C385.3,286.4 384.9,281.5 383.0,278.9 C381.0,276.3 377.8,275.0 375.2,273.7 C372.6,272.4 367.4,271.1 367.4,271.1 C367.4,271.1 367.4,245.2 367.4,245.2Z"/>
<clipPath id="k2"><rect x="0" y="0" width="800" height="292"/></clipPath>
<path fill="#50a5f5" clip-path="url(#k2)" d="M414.0,282.7 C415.4,278.9 419.4,280.8 421.8,281.5 C424.2,282.1 426.1,284.9 428.3,286.6 C430.4,288.4 432.8,290.7 434.8,291.8 C436.7,292.9 438.2,293.5 439.9,293.1 C441.7,292.7 443.4,290.5 445.1,289.2 C446.9,287.9 448.2,286.0 450.3,285.3 C452.5,284.7 455.9,284.3 458.1,285.3 C460.2,286.4 462.0,289.7 463.3,291.8 C464.6,294.0 465.6,295.5 465.9,298.3 C466.1,301.1 465.4,305.4 464.6,308.7 C463.7,311.9 461.8,315.6 460.7,317.7 C459.6,319.9 458.1,321.6 458.1,321.6 C458.1,321.6 414.0,321.6 414.0,321.6 C414.0,321.6 413.4,311.2 413.4,304.8 C413.4,298.3 412.6,286.6 414.0,282.7Z"/>
<path fill="#50a5f5" d="M434.8,243.9 C436.1,242.6 439.9,242.4 442.5,242.6 C445.1,242.8 447.3,245.0 450.3,245.2 C453.3,245.4 457.7,243.7 460.7,243.9 C463.7,244.1 466.9,245.0 468.4,246.5 C470.0,248.0 470.4,251.0 470.0,253.0 C469.6,254.9 467.6,257.3 465.9,258.1 C464.1,259.0 462.0,257.9 459.4,258.1 C456.8,258.4 453.1,259.0 450.3,259.4 C447.5,259.9 444.7,261.4 442.5,260.7 C440.4,260.1 438.7,257.3 437.4,255.5 C436.1,253.8 435.2,252.3 434.8,250.4 C434.3,248.4 433.5,245.2 434.8,243.9Z"/>
<path fill="#50a5f5" d="M550.7,193.1 C550.8,191.4 552.0,190.1 553.3,189.2 C554.6,188.4 556.9,188.1 558.4,187.9 C560.0,187.7 562.3,187.9 562.3,187.9 C562.3,187.9 562.3,204.8 562.3,204.8 C562.3,204.8 558.8,205.6 557.2,204.8 C555.5,203.9 553.7,201.5 552.6,199.6 C551.5,197.6 550.6,194.8 550.7,193.1Z"/>
<path fill="#50a5f5" d="M599.0,97.4 C599.6,94.4 600.0,88.4 602.3,86.1 C604.6,83.8 608.1,84.1 612.8,83.7 C617.5,83.3 625.2,83.4 630.6,83.7 C636.0,83.9 641.3,83.9 645.1,85.3 C648.9,86.6 651.9,89.5 653.2,91.7 C654.6,94.0 654.0,97.0 653.2,99.0 C652.4,101.0 650.5,102.7 648.4,103.9 C646.2,105.1 643.2,105.4 640.3,106.3 C637.3,107.2 633.8,108.2 630.6,109.5 C627.3,110.9 624.1,113.2 620.9,114.4 C617.6,115.6 613.9,116.7 611.2,116.8 C608.5,116.9 606.4,116.3 604.7,115.2 C602.9,114.1 601.6,112.2 600.6,110.3 C599.7,108.5 599.3,106.0 599.0,103.9 C598.8,101.7 598.5,100.4 599.0,97.4Z"/>
<path fill="#50a5f5" d="M571.5,109.5 C571.3,108.1 572.2,105.8 573.2,104.7 C574.1,103.6 575.7,103.1 577.2,103.1 C578.7,103.1 581.0,103.7 582.0,104.7 C583.1,105.6 583.9,107.4 583.7,108.7 C583.4,110.1 581.9,112.0 580.4,112.8 C578.9,113.6 576.3,114.1 574.8,113.6 C573.3,113.0 571.8,111.0 571.5,109.5Z"/>
<path fill="#50a5f5" d="M549.7,192.6 C549.8,190.1 551.3,188.2 552.9,187.0 C554.6,185.8 557.5,185.2 559.4,185.4 C561.3,185.5 563.2,186.3 564.3,187.8 C565.3,189.3 566.1,191.8 565.9,194.3 C565.6,196.7 564.0,200.6 562.6,202.3 C561.3,204.1 559.5,204.8 557.8,204.8 C556.0,204.8 553.5,204.4 552.1,202.3 C550.8,200.3 549.6,195.2 549.7,192.6Z"/>
<path fill="#50a5f5" d="M607.9,239.5 C608.7,238.7 612.0,240.4 614.4,241.2 C616.8,242.0 620.1,243.0 622.5,244.4 C624.9,245.7 626.8,247.4 628.9,249.2 C631.1,251.1 634.1,253.8 635.4,255.7 C636.8,257.6 637.8,259.8 637.0,260.6 C636.2,261.4 633.0,261.1 630.6,260.6 C628.1,260.0 624.9,258.7 622.5,257.3 C620.1,256.0 618.2,254.4 616.0,252.5 C613.9,250.6 610.9,248.2 609.5,246.0 C608.2,243.9 607.1,240.4 607.9,239.5Z"/>
<path fill="#50a5f5" d="M467.4,235.9 C467.4,235.9 471.2,235.0 471.9,237.2 C472.7,239.4 472.7,246.5 471.9,248.9 C471.2,251.2 467.4,251.5 467.4,251.5 C467.4,251.5 467.4,235.9 467.4,235.9Z"/>
<path fill="#50a5f5" d="M494.0,247.6 C494.0,246.3 495.0,245.3 495.9,245.0 C496.8,244.7 498.4,245.0 499.1,245.6 C499.9,246.3 500.4,247.8 500.4,248.9 C500.4,249.9 499.9,251.5 499.1,252.1 C498.4,252.7 496.8,253.5 495.9,252.7 C495.0,252.0 494.0,248.9 494.0,247.6Z"/>
<path fill="#50a5f5" clip-path="url(#k1)" d="M485.9,361.6 C485.9,361.6 489.1,356.1 491.1,353.8 C493.0,351.6 495.6,349.5 497.6,348.0 C499.5,346.5 502.1,344.4 502.7,344.8 C503.4,345.1 502.3,348.2 501.5,349.9 C500.6,351.7 498.4,353.2 497.6,355.1 C496.7,357.1 496.3,361.6 496.3,361.6 C496.3,361.6 485.9,361.6 485.9,361.6Z"/>
<path fill="#50a5f5" d="M457.4,277.4 C457.4,277.4 474.2,277.4 474.2,277.4 C474.2,277.4 473.0,282.8 471.7,285.2 C470.4,287.6 468.0,289.7 466.5,291.7 C465.0,293.6 464.1,295.5 462.6,296.8 C461.1,298.1 457.4,299.4 457.4,299.4 C457.4,299.4 457.4,277.4 457.4,277.4Z"/>
<path fill="#50a5f5" d="M387.2,287.4 C387.2,287.4 389.6,291.0 391.1,291.9 C392.6,292.9 394.5,293.5 396.3,293.2 C398.0,293.0 400.2,291.6 401.5,290.6 C402.7,289.7 404.0,287.4 404.0,287.4 C404.0,287.4 387.2,287.4 387.2,287.4Z"/>
<path fill="#50a5f5" d="M410.5,287.4 C410.5,287.4 411.2,293.2 411.8,296.5 C412.5,299.7 413.5,303.6 414.4,306.8 C415.3,310.1 415.7,313.5 417.0,315.9 C418.3,318.3 420.2,319.7 422.2,321.1 C424.1,322.5 426.5,323.8 428.7,324.3 C430.8,324.9 432.8,324.8 435.1,324.3 C437.5,323.9 440.3,322.6 442.9,321.7 C445.5,320.9 447.4,320.1 450.7,319.1 C453.9,318.2 462.3,315.9 462.3,315.9 C462.3,315.9 462.3,287.4 462.3,287.4 C462.3,287.4 410.5,287.4 410.5,287.4Z"/>
<path fill="#50a5f5" clip-path="url(#k0)" d="M476.4,346.8 C476.4,346.8 475.3,355.1 475.6,358.1 C475.8,361.1 476.7,362.7 478.0,364.6 C479.4,366.4 481.9,368.1 483.7,369.4 C485.4,370.8 487.3,372.4 488.5,372.6 C489.7,372.9 490.7,372.1 490.9,371.0 C491.2,369.9 489.9,368.1 490.1,366.2 C490.4,364.3 491.6,362.1 492.6,359.7 C493.5,357.3 495.1,353.8 495.8,351.6 C496.5,349.5 496.6,346.8 496.6,346.8 C496.6,346.8 476.4,346.8 476.4,346.8Z"/>
<path fill="#2882f0" d="M275.9,224.2 C276.0,222.3 277.2,220.0 278.5,219.0 C279.8,218.1 281.9,218.3 283.7,218.4 C285.4,218.5 287.4,218.7 288.8,219.7 C290.2,220.7 291.5,222.7 292.1,224.2 C292.6,225.7 292.7,227.5 292.1,228.8 C291.4,230.1 289.8,231.3 288.2,232.0 C286.6,232.7 284.1,233.1 282.4,232.9 C280.6,232.7 278.9,232.1 277.8,230.7 C276.7,229.3 275.8,226.2 275.9,224.2Z"/>
<path fill="#2882f0" d="M377.4,252.0 C379.1,250.1 382.5,252.2 385.1,253.3 C387.7,254.4 389.9,256.7 392.9,258.5 C395.9,260.2 400.0,262.1 403.3,263.7 C406.5,265.2 412.3,267.5 412.3,267.5 C412.3,267.5 412.3,276.6 412.3,276.6 C412.3,276.6 379.9,276.6 379.9,276.6 C379.9,276.6 375.2,269.1 374.8,264.9 C374.3,260.8 375.6,253.9 377.4,252.0Z"/>
<path fill="#2882f0" d="M322.1,222.9 C322.5,221.9 323.3,220.6 324.6,220.1 C325.8,219.6 327.8,219.8 329.4,220.1 C331.0,220.4 332.6,221.4 334.3,222.1 C335.9,222.9 337.8,223.7 339.1,224.6 C340.5,225.4 341.8,226.3 342.3,227.4 C342.9,228.5 343.0,230.1 342.3,231.0 C341.7,231.9 339.8,232.4 338.3,232.6 C336.8,232.9 335.1,232.9 333.5,232.6 C331.8,232.4 330.1,231.6 328.6,231.0 C327.1,230.5 325.6,230.2 324.6,229.4 C323.5,228.6 322.9,227.3 322.5,226.2 C322.1,225.1 321.8,223.9 322.1,222.9Z"/>
<path fill="#2882f0" d="M337.5,240.7 C338.1,239.8 340.1,239.2 341.5,239.1 C343.0,239.0 344.8,239.4 346.4,239.9 C348.0,240.5 349.8,241.5 351.2,242.3 C352.7,243.2 353.8,243.8 355.3,244.8 C356.8,245.7 358.2,247.1 360.1,248.0 C362.0,248.9 364.7,249.8 366.6,250.4 C368.5,251.1 371.5,252.0 371.5,252.0 C371.5,252.0 371.5,261.8 371.5,261.8 C371.5,261.8 355.3,261.8 355.3,261.8 C355.3,261.8 350.7,258.4 348.8,256.9 C346.9,255.4 345.4,254.2 344.0,252.9 C342.5,251.5 340.9,250.2 339.9,248.8 C338.9,247.5 338.3,246.1 337.9,244.8 C337.5,243.4 336.9,241.7 337.5,240.7Z"/>
<path fill="#2882f0" d="M456.4,247.5 C456.9,246.2 459.9,245.2 461.6,244.9 C463.3,244.7 465.5,245.4 466.8,246.2 C468.1,247.1 469.6,249.1 469.4,250.1 C469.2,251.2 467.2,252.3 465.5,252.7 C463.8,253.2 460.5,253.6 459.0,252.7 C457.5,251.9 456.0,248.8 456.4,247.5Z"/>
<path fill="#2882f0" d="M367.4,247.8 C367.4,247.8 372.6,249.1 375.2,250.4 C377.8,251.7 379.9,253.6 383.0,255.5 C386.0,257.5 390.1,260.1 393.3,262.0 C396.6,264.0 400.0,265.5 402.4,267.2 C404.8,268.9 407.1,270.2 407.6,272.4 C408.0,274.5 406.3,277.8 405.0,280.2 C403.7,282.5 401.5,284.7 399.8,286.6 C398.1,288.6 396.1,291.4 394.6,291.8 C393.1,292.2 392.2,291.2 390.7,289.2 C389.2,287.3 387.3,282.5 385.5,280.2 C383.8,277.8 382.3,276.5 380.4,275.0 C378.4,273.5 376.0,272.0 373.9,271.1 C371.7,270.2 367.4,269.8 367.4,269.8 C367.4,269.8 367.4,247.8 367.4,247.8Z"/>
<path fill="#2882f0" clip-path="url(#k2)" d="M415.3,285.3 C416.4,279.1 419.9,283.4 421.8,284.0 C423.8,284.7 425.3,287.5 427.0,289.2 C428.7,290.9 430.2,293.1 432.2,294.4 C434.1,295.7 436.5,297.2 438.7,297.0 C440.8,296.8 443.2,294.4 445.1,293.1 C447.1,291.8 448.4,289.9 450.3,289.2 C452.3,288.6 455.1,288.4 456.8,289.2 C458.5,290.1 459.8,292.2 460.7,294.4 C461.5,296.6 462.2,299.2 462.0,302.2 C461.8,305.2 460.5,309.3 459.4,312.5 C458.3,315.8 455.5,321.6 455.5,321.6 C455.5,321.6 415.3,321.6 415.3,321.6 C415.3,321.6 414.3,291.6 415.3,285.3Z"/>
<path fill="#2882f0" d="M454.2,247.8 C454.6,246.7 458.5,245.3 460.7,245.2 C462.8,245.1 466.3,246.0 467.2,247.1 C468.0,248.2 467.4,250.9 465.9,251.7 C464.3,252.4 460.0,252.3 458.1,251.7 C456.1,251.0 453.8,248.9 454.2,247.8Z"/>
<path fill="#2882f0" d="M601.5,99.0 C601.9,96.5 602.8,91.5 604.7,89.3 C606.6,87.2 608.5,86.6 612.8,86.1 C617.1,85.5 625.4,85.8 630.6,86.1 C635.7,86.4 640.5,86.6 643.5,87.7 C646.5,88.8 647.4,90.7 648.4,92.6 C649.3,94.4 650.0,97.4 649.2,99.0 C648.4,100.6 646.1,101.2 643.5,102.3 C640.9,103.3 637.0,104.3 633.8,105.5 C630.6,106.7 627.3,108.2 624.1,109.5 C620.9,110.9 617.1,112.8 614.4,113.6 C611.7,114.4 609.7,114.9 607.9,114.4 C606.2,113.8 604.8,112.0 603.9,110.3 C602.9,108.7 602.7,106.6 602.3,104.7 C601.9,102.8 601.1,101.6 601.5,99.0Z"/>
<path fill="#2882f0" d="M574.8,109.5 C574.8,108.9 575.7,107.4 576.4,107.1 C577.1,106.8 578.5,107.4 578.8,107.9 C579.2,108.5 578.9,109.8 578.5,110.3 C578.1,110.9 577.0,111.3 576.4,111.2 C575.8,111.0 574.8,110.2 574.8,109.5Z"/>
<path fill="#2882f0" d="M612.8,242.8 C613.6,242.0 618.4,244.1 620.9,245.2 C623.3,246.3 625.2,247.5 627.3,249.2 C629.5,251.0 632.6,254.0 633.8,255.7 C635.0,257.5 635.4,259.2 634.6,259.8 C633.8,260.3 631.1,259.8 628.9,258.9 C626.8,258.1 623.8,256.4 621.7,254.9 C619.5,253.4 617.5,252.1 616.0,250.1 C614.5,248.0 612.0,243.6 612.8,242.8Z"/>
<path fill="#2882f0" clip-path="url(#k1)" d="M489.8,361.6 C489.8,361.6 492.2,355.9 493.7,353.8 C495.2,351.8 497.6,350.4 498.9,349.3 C500.2,348.2 501.5,346.8 501.5,347.4 C501.5,347.9 499.7,351.0 498.9,352.5 C498.0,354.1 496.9,354.9 496.3,356.4 C495.6,357.9 495.0,361.6 495.0,361.6 C495.0,361.6 489.8,361.6 489.8,361.6Z"/>
<path fill="#2882f0" d="M457.4,277.4 C457.4,277.4 467.8,277.4 467.8,277.4 C467.8,277.4 467.3,283.9 466.5,286.5 C465.6,289.1 464.1,291.4 462.6,293.0 C461.1,294.5 457.4,295.5 457.4,295.5 C457.4,295.5 457.4,277.4 457.4,277.4Z"/>
<path fill="#2882f0" d="M389.8,287.4 C389.8,287.4 392.2,290.2 393.7,290.6 C395.2,291.1 397.6,290.5 398.9,290.0 C400.2,289.5 401.5,287.4 401.5,287.4 C401.5,287.4 389.8,287.4 389.8,287.4Z"/>
<path fill="#2882f0" d="M413.1,287.4 C413.1,287.4 413.8,294.3 414.4,297.8 C415.1,301.2 416.1,305.1 417.0,308.1 C417.9,311.2 418.3,314.0 419.6,315.9 C420.9,317.8 422.8,318.7 424.8,319.8 C426.7,320.9 429.1,322.1 431.2,322.4 C433.4,322.7 435.6,322.3 437.7,321.7 C439.9,321.2 441.8,320.1 444.2,319.1 C446.6,318.2 448.9,316.7 452.0,315.9 C455.0,315.2 462.3,314.6 462.3,314.6 C462.3,314.6 462.3,287.4 462.3,287.4 C462.3,287.4 413.1,287.4 413.1,287.4Z"/>
<path fill="#2882f0" clip-path="url(#k0)" d="M477.2,346.8 C477.2,346.8 476.1,353.8 476.4,356.5 C476.7,359.2 477.3,361.3 478.8,362.9 C480.3,364.6 483.5,365.8 485.3,366.2 C487.0,366.6 488.2,366.4 489.3,365.4 C490.4,364.3 490.9,361.7 491.8,359.7 C492.6,357.7 493.6,355.4 494.2,353.2 C494.7,351.1 495.0,346.8 495.0,346.8 C495.0,346.8 477.2,346.8 477.2,346.8Z"/>
<path fill="#1464d2" d="M277.2,224.9 C277.3,223.4 278.5,221.7 279.8,221.0 C281.1,220.2 283.3,220.1 284.9,220.3 C286.6,220.6 288.4,221.2 289.5,222.3 C290.6,223.4 291.4,225.4 291.4,226.8 C291.4,228.2 290.8,229.8 289.5,230.7 C288.2,231.6 285.4,232.1 283.7,232.0 C281.9,231.9 280.2,231.2 279.1,230.1 C278.0,228.9 277.1,226.4 277.2,224.9Z"/>
<path fill="#1464d2" d="M372.2,255.9 C373.5,253.9 377.4,255.2 379.9,255.9 C382.5,256.5 385.1,258.3 387.7,259.8 C390.3,261.3 392.5,263.7 395.5,264.9 C398.5,266.2 403.0,266.7 405.9,267.5 C408.7,268.4 412.3,270.1 412.3,270.1 C412.3,270.1 412.3,276.6 412.3,276.6 C412.3,276.6 379.9,276.6 379.9,276.6 C379.9,276.6 373.5,271.0 372.2,267.5 C370.9,264.1 370.9,257.8 372.2,255.9Z"/>
<path fill="#1464d2" d="M341.9,243.2 C342.2,242.3 343.0,241.3 344.0,241.1 C345.0,240.9 346.8,241.3 348.0,241.9 C349.2,242.5 350.8,243.8 351.2,244.8 C351.7,245.8 351.4,247.2 350.8,248.0 C350.3,248.8 349.2,249.5 348.0,249.6 C346.9,249.8 344.9,249.4 344.0,248.8 C343.0,248.3 342.7,247.3 342.3,246.4 C342.0,245.4 341.7,244.0 341.9,243.2Z"/>
<path fill="#1464d2" d="M367.4,250.4 C367.4,250.4 371.7,251.7 373.9,253.0 C376.0,254.2 377.8,256.2 380.4,258.1 C383.0,260.1 386.4,262.9 389.4,264.6 C392.5,266.3 396.1,267.0 398.5,268.5 C400.9,270.0 403.2,271.5 403.7,273.7 C404.1,275.8 402.4,279.1 401.1,281.5 C399.8,283.8 397.4,287.3 395.9,287.9 C394.4,288.6 393.3,287.1 392.0,285.3 C390.7,283.6 389.9,279.7 388.1,277.6 C386.4,275.4 383.8,273.9 381.7,272.4 C379.5,270.9 377.6,269.4 375.2,268.5 C372.8,267.6 367.4,267.2 367.4,267.2 C367.4,267.2 367.4,250.4 367.4,250.4Z"/>
<path fill="#1464d2" clip-path="url(#k2)" d="M416.6,289.2 C417.7,283.6 421.2,287.3 423.1,287.9 C425.1,288.6 426.3,291.2 428.3,293.1 C430.2,295.1 432.8,298.3 434.8,299.6 C436.7,300.9 438.2,301.3 439.9,300.9 C441.7,300.4 443.4,298.3 445.1,297.0 C446.9,295.7 448.6,293.8 450.3,293.1 C452.0,292.5 454.0,292.2 455.5,293.1 C457.0,294.0 458.7,295.9 459.4,298.3 C460.0,300.7 459.8,304.6 459.4,307.4 C458.9,310.2 457.9,312.8 456.8,315.1 C455.7,317.5 452.9,321.6 452.9,321.6 C452.9,321.6 416.6,321.6 416.6,321.6 C416.6,321.6 415.6,294.8 416.6,289.2Z"/>
<path fill="#1464d2" d="M603.9,99.0 C604.3,97.0 605.4,93.4 607.1,91.7 C608.9,90.1 610.5,89.7 614.4,89.3 C618.3,88.9 626.3,89.1 630.6,89.3 C634.9,89.6 637.8,90.1 640.3,90.9 C642.7,91.7 644.3,92.8 645.1,94.2 C645.9,95.5 646.2,97.8 645.1,99.0 C644.0,100.2 641.3,100.5 638.7,101.5 C636.0,102.4 632.2,103.5 628.9,104.7 C625.7,105.9 622.2,107.6 619.2,108.7 C616.3,109.8 613.3,111.2 611.2,111.2 C609.0,111.2 607.4,109.9 606.3,108.7 C605.2,107.5 605.1,105.5 604.7,103.9 C604.3,102.3 603.5,101.0 603.9,99.0Z"/>
<path fill="#1464d2" d="M619.2,246.0 C619.5,245.2 622.5,246.5 624.1,247.6 C625.7,248.7 627.1,250.7 628.9,252.5 C630.8,254.2 634.6,256.8 635.4,258.1 C636.2,259.5 635.0,260.7 633.8,260.6 C632.6,260.4 630.0,258.7 628.1,257.3 C626.3,256.0 624.0,254.4 622.5,252.5 C621.0,250.6 619.0,246.8 619.2,246.0Z"/>
<path fill="#1464d2" clip-path="url(#k1)" d="M479.4,361.6 C479.4,361.6 482.7,356.6 484.6,355.1 C486.6,353.6 489.6,352.1 491.1,352.5 C492.6,353.0 493.4,356.2 493.7,357.7 C494.0,359.2 493.0,361.6 493.0,361.6 C493.0,361.6 479.4,361.6 479.4,361.6Z"/>
<path fill="#1464d2" d="M415.7,287.4 C415.7,287.4 416.3,294.5 417.0,297.8 C417.6,301.0 418.7,304.0 419.6,306.8 C420.4,309.6 420.9,312.8 422.2,314.6 C423.5,316.4 425.4,317.0 427.4,317.8 C429.3,318.7 431.7,319.7 433.8,319.8 C436.0,319.9 438.2,319.3 440.3,318.5 C442.5,317.7 444.6,316.3 446.8,315.3 C448.9,314.2 450.7,313.0 453.3,312.0 C455.9,311.0 462.3,309.4 462.3,309.4 C462.3,309.4 462.3,287.4 462.3,287.4 C462.3,287.4 415.7,287.4 415.7,287.4Z"/>
<path fill="#1464d2" clip-path="url(#k0)" d="M478.8,346.8 C478.8,346.8 478.3,354.0 478.8,356.5 C479.4,358.9 480.4,360.4 482.0,361.3 C483.7,362.3 486.9,362.7 488.5,362.1 C490.1,361.6 491.1,359.8 491.8,358.1 C492.4,356.3 492.4,353.5 492.6,351.6 C492.7,349.7 492.6,346.8 492.6,346.8 C492.6,346.8 478.8,346.8 478.8,346.8Z"/>
<path fill="#7864d2" d="M283.4,225.8 C283.7,225.6 284.9,225.6 285.2,225.8 C285.5,226.0 285.5,226.9 285.2,227.1 C284.9,227.3 283.7,227.3 283.4,227.1 C283.1,226.9 283.1,226.0 283.4,225.8Z"/>
<path fill="#7864d2" d="M375.4,260.4 C376.2,259.3 378.5,258.3 379.9,258.5 C381.4,258.7 383.3,260.4 383.8,261.7 C384.4,263.0 384.1,265.3 383.2,266.2 C382.3,267.2 379.9,267.8 378.7,267.5 C377.4,267.3 376.0,266.1 375.4,264.9 C374.9,263.8 374.7,261.5 375.4,260.4Z"/>
<path fill="#7864d2" d="M391.6,271.4 C392.5,270.2 395.1,269.7 396.8,269.5 C398.5,269.3 400.7,269.4 402.0,270.1 C403.3,270.9 404.1,272.9 404.6,274.0 C405.0,275.1 404.6,276.6 404.6,276.6 C404.6,276.6 391.6,276.6 391.6,276.6 C391.6,276.6 390.7,272.6 391.6,271.4Z"/>
<path fill="#7864d2" d="M375.2,260.7 C375.7,259.4 377.8,259.2 379.1,259.4 C380.4,259.6 382.2,260.9 383.0,262.0 C383.7,263.1 384.0,264.9 383.6,265.9 C383.2,266.9 381.7,267.6 380.4,267.8 C379.1,268.1 376.7,268.4 375.8,267.2 C375.0,266.0 374.6,262.0 375.2,260.7Z"/>
<path fill="#7864d2" d="M390.7,272.4 C392.0,271.2 395.0,270.4 397.2,270.4 C399.4,270.4 402.3,271.0 403.7,272.4 C405.1,273.8 405.6,276.8 405.6,278.9 C405.6,280.9 405.1,283.4 403.7,284.7 C402.3,286.0 399.3,286.7 397.2,286.6 C395.2,286.5 392.7,285.6 391.4,284.0 C390.1,282.5 389.5,279.5 389.4,277.6 C389.3,275.6 389.4,273.6 390.7,272.4Z"/>
<path fill="#7864d2" clip-path="url(#k2)" d="M423.1,307.4 C423.5,304.3 425.5,303.7 427.0,303.5 C428.5,303.3 430.4,304.8 432.2,306.1 C433.9,307.4 435.6,310.6 437.4,311.2 C439.1,311.9 440.8,311.0 442.5,309.9 C444.3,308.9 446.6,306.9 447.7,304.8 C448.8,302.6 448.2,298.5 449.0,297.0 C449.9,295.5 451.8,295.1 452.9,295.7 C454.0,296.3 455.3,298.5 455.5,300.9 C455.7,303.3 454.8,307.1 454.2,309.9 C453.5,312.8 452.7,315.8 451.6,317.7 C450.5,319.7 447.7,321.6 447.7,321.6 C447.7,321.6 424.4,321.6 424.4,321.6 C424.4,321.6 422.7,310.4 423.1,307.4Z"/>
<path fill="#7864d2" d="M605.5,98.2 C605.9,96.3 607.5,93.8 609.5,92.6 C611.6,91.3 613.9,91.4 617.6,90.9 C621.4,90.5 628.7,89.5 632.2,89.6 C635.7,89.8 637.3,90.7 638.7,91.7 C640.0,92.8 640.5,94.6 640.3,95.8 C640.0,97.0 638.9,97.9 637.0,99.0 C635.1,100.1 631.9,101.2 628.9,102.3 C626.0,103.3 622.2,104.7 619.2,105.5 C616.3,106.3 613.2,107.4 611.2,107.1 C609.1,106.8 608.1,105.4 607.1,103.9 C606.2,102.4 605.1,100.1 605.5,98.2Z"/>
<path fill="#7864d2" d="M419.6,303.0 C420.0,301.9 422.2,301.2 423.5,301.7 C424.8,302.1 426.3,304.0 427.4,305.5 C428.4,307.1 428.7,310.1 429.9,310.7 C431.2,311.4 433.2,310.3 435.1,309.4 C437.1,308.6 439.9,307.1 441.6,305.5 C443.3,304.0 444.2,302.1 445.5,300.4 C446.8,298.6 448.3,296.3 449.4,295.2 C450.5,294.1 450.9,293.5 452.0,293.9 C453.0,294.3 455.6,295.8 455.9,297.8 C456.1,299.7 454.3,303.0 453.3,305.5 C452.2,308.1 451.1,311.6 449.4,313.3 C447.7,315.0 445.3,315.3 442.9,315.9 C440.5,316.6 437.5,317.0 435.1,317.2 C432.8,317.4 430.6,317.8 428.7,317.2 C426.7,316.6 424.8,314.8 423.5,313.3 C422.2,311.8 421.5,309.9 420.9,308.1 C420.2,306.4 419.2,304.0 419.6,303.0Z"/>
<path fill="#7864d2" d="M442.9,292.6 C442.9,291.3 448.1,288.7 448.1,288.7 C448.1,288.7 452.4,288.5 453.3,289.4 C454.1,290.2 454.1,292.7 453.3,293.9 C452.4,295.1 449.8,296.7 448.1,296.5 C446.4,296.3 442.9,293.9 442.9,292.6Z"/>
<path fill="#a05ac8" clip-path="url(#k2)" d="M446.4,309.9 C447.0,308.7 449.2,308.2 450.3,308.7 C451.4,309.1 452.8,311.0 452.9,312.5 C453.0,314.1 451.9,317.1 451.0,317.7 C450.0,318.4 447.8,317.7 447.1,316.4 C446.3,315.1 445.9,311.2 446.4,309.9Z"/>
<path fill="#a05ac8" d="M609.5,97.4 C610.3,96.2 612.0,94.4 614.4,93.4 C616.8,92.3 621.1,91.6 624.1,90.9 C627.1,90.3 630.3,89.2 632.2,89.3 C634.1,89.5 635.1,90.8 635.4,91.7 C635.7,92.7 635.1,93.9 633.8,95.0 C632.5,96.1 629.8,97.1 627.3,98.2 C624.9,99.3 621.7,100.8 619.2,101.5 C616.8,102.1 614.3,102.4 612.8,102.3 C611.2,102.1 610.4,101.5 609.9,100.6 C609.3,99.8 608.8,98.6 609.5,97.4Z"/>
<path fill="#a05ac8" d="M424.8,309.4 C425.3,308.7 427.4,307.6 428.7,308.1 C429.9,308.7 431.0,312.2 432.5,312.7 C434.1,313.1 436.0,311.5 437.7,310.7 C439.4,310.0 441.6,309.2 442.9,308.1 C444.2,307.1 444.4,305.5 445.5,304.2 C446.6,303.0 448.5,300.4 449.4,300.4 C450.2,300.4 450.9,302.5 450.7,304.2 C450.5,306.0 449.6,309.1 448.1,310.7 C446.6,312.3 443.8,313.2 441.6,314.0 C439.4,314.7 437.3,315.0 435.1,315.3 C433.0,315.5 430.3,315.7 428.7,315.3 C427.0,314.8 426.1,313.6 425.4,312.7 C424.8,311.7 424.2,310.2 424.8,309.4Z"/>
<path fill="#ffffff" d="M365.7,230.0 C366.3,228.5 368.1,226.3 369.6,224.8 C371.1,223.3 373.3,222.2 374.8,220.9 C376.3,219.6 377.1,217.9 378.7,217.0 C380.2,216.2 382.5,215.6 383.8,215.7 C385.1,215.8 386.6,216.8 386.4,217.7 C386.2,218.5 384.1,219.5 382.5,220.9 C381.0,222.3 379.1,224.4 377.4,226.1 C375.6,227.8 373.7,229.9 372.2,231.3 C370.7,232.7 369.4,234.1 368.3,234.5 C367.2,234.9 366.1,234.6 365.7,233.9 C365.3,233.1 365.1,231.5 365.7,230.0Z"/>
<path fill="#ffffff" d="M367.4,287.9 C367.4,287.9 372.2,287.5 373.9,288.6 C375.6,289.7 376.9,292.4 377.8,294.4 C378.6,296.5 377.8,299.4 379.1,300.9 C380.4,302.4 382.7,303.0 385.5,303.5 C388.4,303.9 393.1,303.3 395.9,303.5 C398.7,303.7 400.7,303.7 402.4,304.8 C404.1,305.8 405.2,307.8 406.3,309.9 C407.3,312.1 408.2,315.6 408.9,317.7 C409.5,319.9 410.2,322.9 410.2,322.9 C410.2,322.9 367.4,322.9 367.4,322.9 C367.4,322.9 367.4,287.9 367.4,287.9Z"/>
<path fill="#ffffff" d="M519.2,286.4 C520.3,285.1 521.8,284.2 524.4,283.8 C527.0,283.5 531.7,283.8 534.8,284.5 C537.8,285.1 541.0,286.5 542.5,287.7 C544.1,288.9 543.8,291.6 543.8,291.6 C543.8,291.6 517.9,291.6 517.9,291.6 C517.9,291.6 518.1,287.7 519.2,286.4Z"/>
<path fill="#ffffff" d="M552.9,282.5 C554.0,281.9 558.5,281.4 560.7,281.2 C562.8,281.1 565.2,281.4 565.9,281.9 C566.5,282.4 566.5,283.9 564.6,284.5 C562.6,285.0 556.1,285.5 554.2,285.1 C552.3,284.8 551.8,283.2 552.9,282.5Z"/>
<path fill="#ffffff" d="M606.6,314.4 C607.3,311.8 607.9,307.9 609.2,305.3 C610.5,302.7 612.5,300.6 614.4,298.9 C616.3,297.1 619.4,296.7 620.9,295.0 C622.4,293.2 622.6,290.4 623.5,288.5 C624.3,286.6 624.6,284.6 626.1,283.3 C627.6,282.0 629.7,281.0 632.5,280.7 C635.3,280.4 639.9,281.0 642.9,281.4 C645.9,281.7 648.3,282.3 650.7,282.7 C653.0,283.0 656.1,280.0 657.2,283.3 C658.2,286.7 658.2,299.7 657.2,302.7 C656.1,305.8 652.4,301.0 650.7,301.5 C648.9,301.9 647.2,303.2 646.8,305.3 C646.4,307.5 647.0,312.0 648.1,314.4 C649.2,316.8 652.8,317.4 653.3,319.6 C653.7,321.7 652.0,325.2 650.7,327.4 C649.4,329.5 646.6,330.2 645.5,332.5 C644.4,334.9 644.2,341.6 644.2,341.6 C644.2,341.6 615.7,341.6 615.7,341.6 C615.7,341.6 615.5,335.3 614.4,332.5 C613.3,329.7 610.7,326.7 609.2,324.8 C607.7,322.8 605.8,322.6 605.3,320.9 C604.9,319.2 606.0,317.0 606.6,314.4Z"/>
<path fill="#ffffff" d="M557.4,280.7 C557.4,280.7 562.6,280.9 563.9,281.4 C565.2,281.8 566.3,282.8 565.2,283.3 C564.1,283.9 557.4,284.6 557.4,284.6 C557.4,284.6 557.4,280.7 557.4,280.7Z"/>
<path fill="#ffffff" d="M557.4,317.0 C557.4,317.0 562.6,316.3 565.2,317.0 C567.8,317.6 570.4,319.6 573.0,320.9 C575.5,322.2 578.1,324.1 580.7,324.8 C583.3,325.4 586.1,324.6 588.5,324.8 C590.9,325.0 593.5,324.8 595.0,326.1 C596.5,327.4 596.9,329.9 597.6,332.5 C598.2,335.1 598.9,341.6 598.9,341.6 C598.9,341.6 557.4,341.6 557.4,341.6 C557.4,341.6 557.4,317.0 557.4,317.0Z"/>
<path fill="#ffffff" d="M457.4,324.0 C457.4,324.0 462.2,316.5 463.9,313.7 C465.6,310.9 466.0,309.4 467.8,307.2 C469.5,305.0 472.1,302.2 474.2,300.7 C476.4,299.2 478.1,299.2 480.7,298.1 C483.3,297.1 487.0,295.3 489.8,294.2 C492.6,293.2 494.8,292.2 497.6,291.7 C500.4,291.1 503.6,291.4 506.6,291.0 C509.7,290.6 513.3,290.0 515.7,289.1 C518.1,288.1 519.4,286.2 520.9,285.2 C522.4,284.2 523.3,283.2 524.8,283.2 C526.3,283.2 528.4,283.8 529.9,285.2 C531.5,286.6 532.5,289.9 533.8,291.7 C535.1,293.4 536.2,294.2 537.7,295.5 C539.2,296.8 540.7,297.9 542.9,299.4 C545.1,300.9 548.1,302.9 550.7,304.6 C553.3,306.3 556.5,308.7 558.4,309.8 C560.4,310.9 562.3,311.1 562.3,311.1 C562.3,311.1 562.3,361.6 562.3,361.6 C562.3,361.6 457.4,361.6 457.4,361.6 C457.4,361.6 457.4,324.0 457.4,324.0Z"/>
<path fill="#ffffff" d="M485.3,432.9 C486.0,431.6 488.8,430.8 490.1,431.3 C491.5,431.9 492.8,434.3 493.4,436.2 C493.9,438.1 494.2,441.4 493.4,442.6 C492.6,443.9 489.7,444.0 488.5,443.5 C487.3,442.9 486.6,441.2 486.1,439.4 C485.6,437.7 484.6,434.3 485.3,432.9Z"/>
<path fill="#ffffff" d="M503.1,429.7 C503.7,428.5 506.3,428.4 507.9,428.9 C509.5,429.4 511.8,430.4 512.8,432.9 C513.7,435.5 514.1,441.8 513.6,444.3 C513.0,446.7 511.0,447.5 509.5,447.5 C508.1,447.5 505.6,446.1 504.7,444.3 C503.7,442.4 504.2,438.6 503.9,436.2 C503.6,433.7 502.4,430.9 503.1,429.7Z"/>
<path fill="#b4faaa" d="M533.8,298.1 C534.4,297.4 536.6,296.6 537.7,296.8 C538.8,297.1 540.3,298.6 540.3,299.4 C540.3,300.3 538.7,301.7 537.7,302.0 C536.7,302.3 535.1,302.0 534.5,301.4 C533.8,300.7 533.3,298.9 533.8,298.1Z"/>
<path fill="#b4faaa" d="M539.0,321.5 C539.3,320.5 540.7,319.5 541.6,319.5 C542.5,319.5 543.9,320.5 544.2,321.5 C544.5,322.4 544.3,324.7 543.5,325.3 C542.8,326.0 540.4,326.0 539.7,325.3 C538.9,324.7 538.7,322.4 539.0,321.5Z"/>
<path fill="#b4faaa" d="M517.0,335.7 C517.4,334.4 520.4,333.3 522.2,333.1 C523.9,332.9 526.3,333.5 527.4,334.4 C528.4,335.3 529.1,337.2 528.7,338.3 C528.2,339.4 526.3,340.4 524.8,340.9 C523.3,341.3 520.9,341.7 519.6,340.9 C518.3,340.0 516.6,337.0 517.0,335.7Z"/>
<path fill="#b4faaa" d="M465.7,370.3 C465.3,366.9 466.2,362.2 466.8,359.0 C467.4,355.8 467.7,353.1 469.1,351.0 C470.4,349.0 473.0,347.6 474.7,346.5 C476.4,345.4 477.4,345.2 479.2,344.2 C481.1,343.3 483.8,342.4 486.0,340.8 C488.3,339.3 490.9,336.6 492.8,335.2 C494.7,333.8 495.5,332.7 497.4,332.4 C499.2,332.0 502.3,332.3 504.2,332.9 C506.0,333.6 507.0,335.9 508.7,336.3 C510.4,336.7 512.6,335.2 514.3,335.2 C516.0,335.2 517.9,335.4 518.9,336.3 C519.8,337.3 520.4,339.5 520.0,340.8 C519.6,342.2 518.3,343.1 516.6,344.2 C514.9,345.4 511.7,345.9 509.8,347.6 C507.9,349.3 506.4,352.0 505.3,354.4 C504.2,356.9 503.8,359.7 503.0,362.4 C502.3,365.0 500.9,367.6 500.8,370.3 C500.6,372.9 501.9,375.8 501.9,378.2 C501.9,380.7 501.3,382.7 500.8,385.0 C500.2,387.3 499.6,390.1 498.5,391.8 C497.4,393.5 497.5,394.4 494.0,395.0 C490.4,395.5 480.6,396.1 477.0,395.0 C473.4,393.9 473.8,391.0 472.5,388.4 C471.1,385.8 470.2,382.4 469.1,379.3 C467.9,376.3 466.0,373.7 465.7,370.3Z"/>
<clipPath id="k3"><rect x="338" y="290" width="57" height="47"/></clipPath>
<path fill="#b4faaa" clip-path="url(#k3)" d="M334.2,218.2 C334.2,218.2 491.8,218.2 491.8,218.2 C491.8,218.2 491.8,340.1 491.8,340.1 C491.8,340.1 334.2,340.1 334.2,340.1 C334.2,340.1 334.2,218.2 334.2,218.2Z"/>
<clipPath id="k4"><rect x="358" y="222" width="47" height="33"/></clipPath>
<path fill="#b4faaa" clip-path="url(#k4)" d="M337.9,222.9 C337.9,222.9 422.0,222.9 422.0,222.9 C422.0,222.9 422.0,291.2 422.0,291.2 C422.0,291.2 337.9,291.2 337.9,291.2 C337.9,291.2 337.9,222.9 337.9,222.9Z"/>
<clipPath id="k5"><rect x="358" y="255" width="37" height="35"/></clipPath>
<path fill="#b4faaa" clip-path="url(#k5)" d="M337.9,222.9 C337.9,222.9 422.0,222.9 422.0,222.9 C422.0,222.9 422.0,291.2 422.0,291.2 C422.0,291.2 337.9,291.2 337.9,291.2 C337.9,291.2 337.9,222.9 337.9,222.9Z"/>
<clipPath id="k6"><rect x="395" y="255" width="80" height="85"/></clipPath>
<path fill="#b4faaa" clip-path="url(#k6)" d="M392.3,252.3 C392.3,252.3 477.5,252.3 477.5,252.3 C477.5,252.3 477.5,341.6 477.5,341.6 C477.5,341.6 392.3,341.6 392.3,341.6 C392.3,341.6 392.3,252.3 392.3,252.3Z"/>
<path fill="#78f573" d="M471.3,370.3 C471.1,367.1 471.7,361.8 472.5,359.0 C473.2,356.1 474.3,355.0 475.8,353.3 C477.4,351.6 479.4,350.3 481.5,348.8 C483.6,347.3 486.2,345.8 488.3,344.2 C490.4,342.7 492.3,341.0 494.0,339.7 C495.7,338.4 496.6,337.0 498.5,336.3 C500.4,335.7 503.4,335.4 505.3,335.8 C507.2,336.1 509.4,337.2 509.8,338.6 C510.2,340.0 508.7,342.4 507.5,344.2 C506.4,346.1 504.3,347.5 503.0,349.9 C501.7,352.4 500.6,355.9 499.6,359.0 C498.7,362.0 497.5,365.2 497.4,368.0 C497.2,370.8 498.5,373.1 498.5,375.9 C498.5,378.8 498.1,382.4 497.4,385.0 C496.6,387.6 496.4,390.7 494.0,391.8 C491.5,392.9 485.5,392.9 482.6,391.8 C479.8,390.7 478.5,387.3 477.0,385.0 C475.5,382.7 474.5,380.7 473.6,378.2 C472.6,375.8 471.5,373.5 471.3,370.3Z"/>
<path fill="#78f573" clip-path="url(#k3)" d="M334.2,262.3 C334.2,262.3 339.6,263.1 341.8,264.2 C343.9,265.3 345.5,267.2 347.4,268.9 C349.2,270.6 350.8,272.9 353.0,274.5 C355.2,276.1 358.0,277.3 360.5,278.2 C363.0,279.2 365.5,279.2 368.0,280.1 C370.5,281.1 373.3,282.3 375.5,283.9 C377.7,285.4 379.2,287.6 381.1,289.5 C383.0,291.4 384.6,293.6 386.8,295.1 C388.9,296.7 391.8,297.9 394.2,298.9 C396.8,299.8 399.6,299.8 401.8,300.8 C403.9,301.7 405.8,302.3 407.4,304.5 C408.9,306.7 410.2,311.1 411.1,313.9 C412.1,316.7 412.1,318.9 413.0,321.4 C413.9,323.9 415.5,327.0 416.8,328.9 C418.0,330.8 418.6,332.0 420.5,332.6 C422.4,333.2 425.2,332.9 428.0,332.6 C430.8,332.3 434.2,331.4 437.4,330.8 C440.5,330.1 443.9,329.5 446.8,328.9 C449.6,328.2 452.1,328.2 454.2,327.0 C456.4,325.8 457.7,323.2 459.9,321.4 C462.1,319.5 464.9,317.6 467.4,315.8 C469.9,313.9 472.4,311.7 474.9,310.1 C477.4,308.6 479.6,307.3 482.4,306.4 C485.2,305.4 491.8,304.5 491.8,304.5 C491.8,304.5 491.8,218.2 491.8,218.2 C491.8,218.2 334.2,218.2 334.2,218.2 C334.2,218.2 334.2,262.3 334.2,262.3Z"/>
<path fill="#78f573" clip-path="url(#k4)" d="M337.9,222.9 C337.9,222.9 364.2,222.9 364.2,222.9 C364.2,222.9 363.4,227.3 363.7,229.2 C363.9,231.1 364.4,233.4 365.8,234.5 C367.1,235.5 369.8,235.9 371.5,235.5 C373.3,235.2 375.3,234.5 376.3,232.4 C377.2,230.3 377.3,222.9 377.3,222.9 C377.3,222.9 422.0,222.9 422.0,222.9 C422.0,222.9 422.0,291.2 422.0,291.2 C422.0,291.2 382.0,291.2 382.0,291.2 C382.0,291.2 381.3,287.7 381.0,286.0 C380.6,284.2 380.8,282.1 379.9,280.7 C379.1,279.3 377.5,278.3 375.7,277.6 C374.0,276.9 371.9,276.9 369.4,276.5 C367.0,276.2 363.8,275.8 361.0,275.5 C358.2,275.1 354.5,275.3 352.6,274.4 C350.7,273.5 350.9,271.4 349.5,270.2 C348.1,269.0 346.1,267.8 344.2,267.0 C342.3,266.3 337.9,266.0 337.9,266.0 C337.9,266.0 337.9,222.9 337.9,222.9Z"/>
<path fill="#78f573" clip-path="url(#k5)" d="M337.9,222.9 C337.9,222.9 364.2,222.9 364.2,222.9 C364.2,222.9 363.4,227.3 363.7,229.2 C363.9,231.1 364.4,233.4 365.8,234.5 C367.1,235.5 369.8,235.9 371.5,235.5 C373.3,235.2 375.3,234.5 376.3,232.4 C377.2,230.3 377.3,222.9 377.3,222.9 C377.3,222.9 422.0,222.9 422.0,222.9 C422.0,222.9 422.0,291.2 422.0,291.2 C422.0,291.2 382.0,291.2 382.0,291.2 C382.0,291.2 381.3,287.7 381.0,286.0 C380.6,284.2 380.8,282.1 379.9,280.7 C379.1,279.3 377.5,278.3 375.7,277.6 C374.0,276.9 371.9,276.9 369.4,276.5 C367.0,276.2 363.8,275.8 361.0,275.5 C358.2,275.1 354.5,275.3 352.6,274.4 C350.7,273.5 350.9,271.4 349.5,270.2 C348.1,269.0 346.1,267.8 344.2,267.0 C342.3,266.3 337.9,266.0 337.9,266.0 C337.9,266.0 337.9,222.9 337.9,222.9Z"/>
<path fill="#78f573" clip-path="url(#k6)" d="M392.3,252.3 C392.3,252.3 477.5,252.3 477.5,252.3 C477.5,252.3 477.5,304.5 477.5,304.5 C477.5,304.5 475.9,304.0 475.0,304.5 C474.1,304.9 473.2,305.9 472.0,307.2 C470.8,308.6 469.2,310.9 467.9,312.7 C466.5,314.6 465.3,316.4 463.7,318.2 C462.1,320.1 460.1,322.2 458.2,323.7 C456.4,325.2 454.8,326.0 452.7,327.2 C450.7,328.3 448.4,329.7 445.9,330.6 C443.3,331.5 440.4,332.2 437.6,332.7 C434.9,333.1 431.9,333.6 429.4,333.4 C426.8,333.1 424.6,332.2 422.5,331.3 C420.4,330.4 418.6,329.3 417.0,327.9 C415.4,326.4 414.0,324.2 412.9,322.4 C411.7,320.5 410.8,318.9 410.1,316.9 C409.4,314.8 409.0,312.5 408.7,310.0 C408.5,307.5 409.4,303.6 408.7,301.7 C408.1,299.9 406.2,299.2 404.6,299.0 C403.0,298.8 401.2,299.8 399.1,300.4 C397.1,300.9 392.3,302.4 392.3,302.4 C392.3,302.4 392.3,252.3 392.3,252.3Z"/>
<path fill="#37d23c" d="M473.6,369.2 C473.4,366.5 474.0,361.4 474.7,359.0 C475.5,356.5 476.6,355.9 478.1,354.4 C479.6,352.9 481.7,351.5 483.8,349.9 C485.8,348.3 488.5,346.5 490.6,344.8 C492.6,343.1 494.3,340.9 496.2,339.7 C498.1,338.5 500.2,337.5 501.9,337.5 C503.6,337.4 505.8,338.0 506.4,339.2 C507.0,340.3 506.2,342.5 505.3,344.2 C504.3,346.0 502.1,347.5 500.8,349.9 C499.4,352.4 498.1,355.9 497.4,359.0 C496.6,362.0 496.4,365.2 496.2,368.0 C496.0,370.8 496.4,373.3 496.2,375.9 C496.0,378.6 496.0,381.8 495.1,383.9 C494.2,385.9 492.5,388.0 490.6,388.4 C488.7,388.8 485.7,387.6 483.8,386.1 C481.9,384.6 480.6,381.2 479.2,379.3 C477.9,377.5 476.8,376.5 475.8,374.8 C474.9,373.1 473.8,371.8 473.6,369.2Z"/>
<path fill="#37d23c" clip-path="url(#k3)" d="M334.2,218.2 C334.2,218.2 347.4,218.2 347.4,218.2 C347.4,218.2 348.3,224.5 349.2,227.6 C350.2,230.8 351.4,234.5 353.0,237.0 C354.6,239.5 356.4,241.7 358.6,242.6 C360.8,243.6 363.6,243.6 366.1,242.6 C368.6,241.7 371.4,239.2 373.6,237.0 C375.8,234.8 377.7,232.6 379.2,229.5 C380.8,226.4 383.0,218.2 383.0,218.2 C383.0,218.2 491.8,218.2 491.8,218.2 C491.8,218.2 491.8,300.8 491.8,300.8 C491.8,300.8 487.1,301.5 484.2,302.6 C481.4,303.7 477.7,305.6 474.9,307.3 C472.1,309.0 469.9,311.1 467.4,312.9 C464.9,314.8 462.1,316.7 459.9,318.6 C457.7,320.4 456.4,322.8 454.2,324.2 C452.1,325.6 449.6,326.2 446.8,327.0 C443.9,327.8 440.8,328.4 437.4,328.9 C433.9,329.3 429.2,330.1 426.1,329.8 C423.0,329.5 420.5,328.4 418.6,327.0 C416.8,325.6 416.0,323.9 414.9,321.4 C413.8,318.9 413.0,315.1 412.1,312.0 C411.1,308.9 410.7,304.8 409.2,302.6 C407.8,300.4 405.8,299.8 403.6,298.9 C401.4,297.9 398.6,297.9 396.1,297.0 C393.6,296.1 390.8,294.8 388.6,293.2 C386.4,291.7 384.9,289.5 383.0,287.6 C381.1,285.8 379.6,283.6 377.4,282.0 C375.2,280.4 372.4,279.3 369.9,278.2 C367.4,277.2 364.9,276.5 362.4,275.4 C359.9,274.3 357.1,273.1 354.9,271.7 C352.7,270.3 351.1,268.7 349.2,267.0 C347.4,265.3 346.1,262.6 343.6,261.4 C341.1,260.1 334.2,259.5 334.2,259.5 C334.2,259.5 334.2,218.2 334.2,218.2Z"/>
<path fill="#37d23c" clip-path="url(#k4)" d="M337.9,222.9 C337.9,222.9 351.6,222.9 351.6,222.9 C351.6,222.9 350.2,227.6 350.5,229.2 C350.9,230.8 352.3,231.7 353.7,232.4 C355.1,233.1 357.0,232.7 358.9,233.4 C360.8,234.1 363.1,235.7 365.2,236.6 C367.3,237.4 369.4,238.5 371.5,238.7 C373.6,238.8 375.6,238.0 377.8,237.6 C380.1,237.3 382.8,236.9 385.2,236.6 C387.7,236.2 390.3,236.4 392.6,235.5 C394.8,234.6 396.2,232.7 398.9,231.3 C401.5,229.9 405.9,228.5 408.3,227.1 C410.8,225.7 413.6,222.9 413.6,222.9 C413.6,222.9 422.0,222.9 422.0,222.9 C422.0,222.9 422.0,291.2 422.0,291.2 C422.0,291.2 382.0,291.2 382.0,291.2 C382.0,291.2 381.5,286.0 381.0,283.9 C380.5,281.8 380.5,279.8 378.9,278.6 C377.3,277.4 374.0,277.2 371.5,276.5 C369.1,275.8 366.5,275.1 364.2,274.4 C361.9,273.7 359.6,273.2 357.9,272.3 C356.1,271.4 354.9,270.6 353.7,269.2 C352.4,267.8 352.1,265.3 350.5,263.9 C348.9,262.5 346.3,261.4 344.2,260.7 C342.1,260.0 337.9,259.7 337.9,259.7 C337.9,259.7 337.9,222.9 337.9,222.9Z"/>
<path fill="#37d23c" clip-path="url(#k5)" d="M337.9,222.9 C337.9,222.9 351.6,222.9 351.6,222.9 C351.6,222.9 350.2,227.6 350.5,229.2 C350.9,230.8 352.3,231.7 353.7,232.4 C355.1,233.1 357.0,232.7 358.9,233.4 C360.8,234.1 363.1,235.7 365.2,236.6 C367.3,237.4 369.4,238.5 371.5,238.7 C373.6,238.8 375.6,238.0 377.8,237.6 C380.1,237.3 382.8,236.9 385.2,236.6 C387.7,236.2 390.3,236.4 392.6,235.5 C394.8,234.6 396.2,232.7 398.9,231.3 C401.5,229.9 405.9,228.5 408.3,227.1 C410.8,225.7 413.6,222.9 413.6,222.9 C413.6,222.9 422.0,222.9 422.0,222.9 C422.0,222.9 422.0,291.2 422.0,291.2 C422.0,291.2 382.0,291.2 382.0,291.2 C382.0,291.2 381.5,286.0 381.0,283.9 C380.5,281.8 380.5,279.8 378.9,278.6 C377.3,277.4 374.0,277.2 371.5,276.5 C369.1,275.8 366.5,275.1 364.2,274.4 C361.9,273.7 359.6,273.2 357.9,272.3 C356.1,271.4 354.9,270.6 353.7,269.2 C352.4,267.8 352.1,265.3 350.5,263.9 C348.9,262.5 346.3,261.4 344.2,260.7 C342.1,260.0 337.9,259.7 337.9,259.7 C337.9,259.7 337.9,222.9 337.9,222.9Z"/>
<clipPath id="k7"><rect x="405" y="222" width="83" height="33"/></clipPath>
<path fill="#37d23c" clip-path="url(#k7)" d="M402.9,222.9 C402.9,222.9 487.0,222.9 487.0,222.9 C487.0,222.9 487.0,291.2 487.0,291.2 C487.0,291.2 402.9,291.2 402.9,291.2 C402.9,291.2 402.9,222.9 402.9,222.9Z"/>
<clipPath id="k8"><rect x="475" y="255" width="9" height="23"/></clipPath>
<path fill="#37d23c" clip-path="url(#k8)" d="M402.9,222.9 C402.9,222.9 487.0,222.9 487.0,222.9 C487.0,222.9 487.0,291.2 487.0,291.2 C487.0,291.2 402.9,291.2 402.9,291.2 C402.9,291.2 402.9,222.9 402.9,222.9Z"/>
<path fill="#37d23c" clip-path="url(#k6)" d="M392.3,252.3 C392.3,252.3 477.5,252.3 477.5,252.3 C477.5,252.3 477.5,293.5 477.5,293.5 C477.5,293.5 475.9,293.0 475.0,293.5 C474.1,293.9 472.8,294.6 472.0,296.2 C471.1,297.8 470.8,300.8 469.9,303.1 C469.0,305.4 467.6,307.9 466.5,310.0 C465.3,312.0 464.3,313.8 463.0,315.5 C461.8,317.2 460.4,318.8 458.9,320.3 C457.4,321.8 456.1,323.2 454.1,324.4 C452.2,325.7 449.8,326.8 447.2,327.9 C444.7,328.9 441.7,330.0 439.0,330.6 C436.2,331.2 433.3,331.4 430.7,331.3 C428.2,331.2 425.9,330.7 423.9,329.9 C421.8,329.1 420.0,328.0 418.4,326.5 C416.8,325.0 415.5,322.8 414.2,321.0 C413.0,319.1 411.6,317.8 410.8,315.5 C410.0,313.2 409.7,310.2 409.4,307.2 C409.2,304.3 410.0,299.4 409.4,297.6 C408.9,295.8 407.5,296.1 406.0,296.2 C404.5,296.4 402.8,297.8 400.5,298.7 C398.2,299.6 392.3,301.5 392.3,301.5 C392.3,301.5 392.3,252.3 392.3,252.3Z"/>
<path fill="#0fa00f" d="M474.7,366.9 C474.5,364.4 475.0,360.0 475.8,357.8 C476.7,355.7 478.1,355.2 479.8,353.9 C481.5,352.5 484.0,351.4 486.0,349.9 C488.1,348.4 490.4,346.3 492.3,344.8 C494.2,343.3 495.6,341.7 497.4,340.8 C499.2,340.0 501.9,339.3 503.0,339.7 C504.2,340.1 504.7,341.6 504.2,343.1 C503.6,344.6 500.9,346.5 499.6,348.8 C498.3,351.0 497.0,353.9 496.2,356.7 C495.5,359.5 495.5,362.9 495.1,365.8 C494.7,368.6 494.2,371.0 494.0,373.7 C493.8,376.3 494.7,379.9 494.0,381.6 C493.2,383.3 491.1,384.1 489.4,383.9 C487.7,383.7 485.3,381.8 483.8,380.5 C482.3,379.2 481.5,377.3 480.4,375.9 C479.2,374.6 477.9,374.1 477.0,372.5 C476.0,371.0 474.9,369.3 474.7,366.9Z"/>
<path fill="#0fa00f" clip-path="url(#k3)" d="M334.2,218.2 C334.2,218.2 347.4,218.2 347.4,218.2 C347.4,218.2 348.0,226.4 349.2,229.5 C350.5,232.6 352.7,235.1 354.9,237.0 C357.1,238.9 359.6,239.8 362.4,240.8 C365.2,241.7 368.6,241.7 371.8,242.6 C374.9,243.6 378.0,244.8 381.1,246.4 C384.2,247.9 387.4,250.4 390.5,252.0 C393.6,253.6 396.8,254.5 399.9,255.8 C403.0,257.0 406.4,257.9 409.2,259.5 C412.1,261.1 414.2,263.2 416.8,265.1 C419.2,267.0 422.1,268.6 424.2,270.8 C426.4,272.9 428.3,275.8 429.9,278.2 C431.4,280.8 432.4,283.9 433.6,285.8 C434.9,287.6 436.4,289.8 437.4,289.5 C438.3,289.2 438.3,285.8 439.2,283.9 C440.2,282.0 441.1,279.5 443.0,278.2 C444.9,277.0 450.5,277.6 450.5,276.4 C450.5,275.1 445.5,272.6 443.0,270.8 C440.5,268.9 437.7,267.0 435.5,265.1 C433.3,263.2 431.4,261.7 429.9,259.5 C428.3,257.3 427.1,255.1 426.1,252.0 C425.2,248.9 424.2,244.5 424.2,240.8 C424.2,237.0 424.9,232.0 426.1,229.5 C427.4,227.0 428.9,226.4 431.8,225.8 C434.6,225.1 438.3,225.8 443.0,225.8 C447.7,225.8 454.9,225.1 459.9,225.8 C464.9,226.4 469.6,227.9 473.0,229.5 C476.4,231.1 478.9,232.6 480.5,235.1 C482.1,237.6 481.1,241.4 482.4,244.5 C483.6,247.6 486.4,252.0 488.0,253.9 C489.6,255.8 491.8,255.8 491.8,255.8 C491.8,255.8 491.8,298.9 491.8,298.9 C491.8,298.9 485.5,299.7 482.4,300.8 C479.2,301.8 475.8,303.7 473.0,305.4 C470.2,307.2 468.0,309.2 465.5,311.1 C463.0,312.9 460.0,315.0 458.0,316.7 C456.0,318.4 455.2,320.1 453.3,321.4 C451.4,322.6 449.4,323.4 446.8,324.2 C444.1,325.0 440.5,325.6 437.4,326.1 C434.2,326.5 430.8,327.2 428.0,327.0 C425.2,326.8 422.5,326.4 420.5,325.1 C418.5,323.9 417.1,322.0 415.8,319.5 C414.6,317.0 413.9,313.2 413.0,310.1 C412.1,307.0 411.4,302.9 410.2,300.8 C408.9,298.6 407.5,298.1 405.5,297.0 C403.5,295.9 400.5,295.3 398.0,294.2 C395.5,293.1 392.7,292.0 390.5,290.4 C388.3,288.9 386.8,286.7 384.9,284.8 C383.0,282.9 381.4,280.8 379.2,279.2 C377.1,277.6 374.2,276.5 371.8,275.4 C369.2,274.3 366.8,273.7 364.2,272.6 C361.8,271.5 358.9,270.3 356.8,268.9 C354.6,267.5 353.0,265.8 351.1,264.2 C349.2,262.6 348.3,260.6 345.5,259.5 C342.7,258.4 334.2,257.6 334.2,257.6 C334.2,257.6 334.2,218.2 334.2,218.2Z"/>
<path fill="#0fa00f" clip-path="url(#k4)" d="M337.9,222.9 C337.9,222.9 346.3,222.9 346.3,222.9 C346.3,222.9 348.0,227.3 348.9,229.2 C349.9,231.1 350.8,232.9 352.1,234.5 C353.4,236.0 355.0,237.4 356.8,238.7 C358.7,240.0 360.8,241.5 363.1,242.3 C365.4,243.2 368.0,243.6 370.5,243.9 C372.9,244.3 375.6,244.2 377.8,244.4 C380.1,244.7 382.0,244.8 384.2,245.5 C386.3,246.2 388.5,247.5 390.5,248.7 C392.4,249.8 394.0,251.2 395.7,252.3 C397.5,253.5 399.7,255.8 401.0,255.5 C402.2,255.1 403.4,252.3 403.1,250.2 C402.7,248.1 399.6,245.0 398.9,242.9 C398.2,240.8 398.2,238.8 398.9,237.6 C399.6,236.4 401.3,236.2 403.1,235.5 C404.8,234.8 407.6,234.5 409.4,233.4 C411.1,232.4 411.5,230.1 413.6,229.2 C415.7,228.3 422.0,228.2 422.0,228.2 C422.0,228.2 422.0,291.2 422.0,291.2 C422.0,291.2 383.1,291.2 383.1,291.2 C383.1,291.2 381.7,286.1 381.0,283.9 C380.3,281.6 380.3,279.0 378.9,277.6 C377.5,276.2 374.7,276.2 372.6,275.5 C370.5,274.8 368.4,274.1 366.3,273.4 C364.2,272.7 361.7,272.3 360.0,271.3 C358.2,270.2 357.0,268.5 355.8,267.0 C354.5,265.6 354.2,264.2 352.6,262.8 C351.0,261.4 348.8,259.7 346.3,258.6 C343.9,257.6 337.9,256.5 337.9,256.5 C337.9,256.5 337.9,222.9 337.9,222.9Z"/>
<path fill="#0fa00f" clip-path="url(#k5)" d="M337.9,222.9 C337.9,222.9 346.3,222.9 346.3,222.9 C346.3,222.9 348.0,227.3 348.9,229.2 C349.9,231.1 350.8,232.9 352.1,234.5 C353.4,236.0 355.0,237.4 356.8,238.7 C358.7,240.0 360.8,241.5 363.1,242.3 C365.4,243.2 368.0,243.6 370.5,243.9 C372.9,244.3 375.6,244.2 377.8,244.4 C380.1,244.7 382.0,244.8 384.2,245.5 C386.3,246.2 388.5,247.5 390.5,248.7 C392.4,249.8 394.0,251.2 395.7,252.3 C397.5,253.5 399.7,255.8 401.0,255.5 C402.2,255.1 403.4,252.3 403.1,250.2 C402.7,248.1 399.6,245.0 398.9,242.9 C398.2,240.8 398.2,238.8 398.9,237.6 C399.6,236.4 401.3,236.2 403.1,235.5 C404.8,234.8 407.6,234.5 409.4,233.4 C411.1,232.4 411.5,230.1 413.6,229.2 C415.7,228.3 422.0,228.2 422.0,228.2 C422.0,228.2 422.0,291.2 422.0,291.2 C422.0,291.2 383.1,291.2 383.1,291.2 C383.1,291.2 381.7,286.1 381.0,283.9 C380.3,281.6 380.3,279.0 378.9,277.6 C377.5,276.2 374.7,276.2 372.6,275.5 C370.5,274.8 368.4,274.1 366.3,273.4 C364.2,272.7 361.7,272.3 360.0,271.3 C358.2,270.2 357.0,268.5 355.8,267.0 C354.5,265.6 354.2,264.2 352.6,262.8 C351.0,261.4 348.8,259.7 346.3,258.6 C343.9,257.6 337.9,256.5 337.9,256.5 C337.9,256.5 337.9,222.9 337.9,222.9Z"/>
<path fill="#0fa00f" clip-path="url(#k7)" d="M423.9,229.2 C425.1,226.7 429.2,226.1 432.3,225.5 C435.5,225.0 440.0,225.1 442.8,226.1 C445.6,227.0 446.7,230.8 449.2,231.3 C451.6,231.8 454.4,230.1 457.6,229.2 C460.7,228.3 464.7,226.4 468.1,226.1 C471.4,225.7 474.9,226.1 477.5,227.1 C480.2,228.2 482.8,230.1 483.8,232.4 C484.9,234.6 484.5,238.1 483.8,240.8 C483.1,243.4 480.5,245.8 479.6,248.1 C478.8,250.4 478.1,252.5 478.6,254.4 C479.1,256.4 481.4,258.5 482.8,259.7 C484.2,260.9 487.0,261.8 487.0,261.8 C487.0,261.8 487.0,279.7 487.0,279.7 C487.0,279.7 482.1,277.9 480.7,278.6 C479.3,279.3 478.6,281.8 478.6,283.9 C478.6,286.0 480.7,291.2 480.7,291.2 C480.7,291.2 461.8,291.2 461.8,291.2 C461.8,291.2 456.5,285.8 454.4,283.9 C452.3,281.9 450.7,281.1 449.2,279.7 C447.6,278.3 446.3,276.9 444.9,275.5 C443.5,274.1 442.3,272.8 440.7,271.3 C439.2,269.7 437.1,267.8 435.5,266.0 C433.9,264.2 432.5,262.3 431.3,260.7 C430.1,259.2 429.0,258.5 428.1,256.5 C427.3,254.6 426.6,251.8 426.0,249.2 C425.5,246.6 425.3,244.1 425.0,240.8 C424.6,237.4 422.7,231.7 423.9,229.2Z"/>
<path fill="#0fa00f" clip-path="url(#k8)" d="M423.9,229.2 C425.1,226.7 429.2,226.1 432.3,225.5 C435.5,225.0 440.0,225.1 442.8,226.1 C445.6,227.0 446.7,230.8 449.2,231.3 C451.6,231.8 454.4,230.1 457.6,229.2 C460.7,228.3 464.7,226.4 468.1,226.1 C471.4,225.7 474.9,226.1 477.5,227.1 C480.2,228.2 482.8,230.1 483.8,232.4 C484.9,234.6 484.5,238.1 483.8,240.8 C483.1,243.4 480.5,245.8 479.6,248.1 C478.8,250.4 478.1,252.5 478.6,254.4 C479.1,256.4 481.4,258.5 482.8,259.7 C484.2,260.9 487.0,261.8 487.0,261.8 C487.0,261.8 487.0,279.7 487.0,279.7 C487.0,279.7 482.1,277.9 480.7,278.6 C479.3,279.3 478.6,281.8 478.6,283.9 C478.6,286.0 480.7,291.2 480.7,291.2 C480.7,291.2 461.8,291.2 461.8,291.2 C461.8,291.2 456.5,285.8 454.4,283.9 C452.3,281.9 450.7,281.1 449.2,279.7 C447.6,278.3 446.3,276.9 444.9,275.5 C443.5,274.1 442.3,272.8 440.7,271.3 C439.2,269.7 437.1,267.8 435.5,266.0 C433.9,264.2 432.5,262.3 431.3,260.7 C430.1,259.2 429.0,258.5 428.1,256.5 C427.3,254.6 426.6,251.8 426.0,249.2 C425.5,246.6 425.3,244.1 425.0,240.8 C424.6,237.4 422.7,231.7 423.9,229.2Z"/>
<path fill="#0fa00f" clip-path="url(#k7)" d="M402.9,257.6 C402.9,257.6 407.3,257.9 409.2,258.6 C411.1,259.3 412.9,260.4 414.5,261.8 C416.0,263.2 417.4,265.3 418.7,267.0 C419.9,268.8 420.6,271.1 421.8,272.3 C423.0,273.5 424.4,273.9 426.0,274.4 C427.6,274.9 429.9,274.6 431.3,275.5 C432.7,276.3 433.2,278.3 434.4,279.7 C435.7,281.1 437.6,281.9 438.6,283.9 C439.7,285.8 440.7,291.2 440.7,291.2 C440.7,291.2 402.9,291.2 402.9,291.2 C402.9,291.2 402.9,257.6 402.9,257.6Z"/>
<path fill="#0fa00f" clip-path="url(#k8)" d="M402.9,257.6 C402.9,257.6 407.3,257.9 409.2,258.6 C411.1,259.3 412.9,260.4 414.5,261.8 C416.0,263.2 417.4,265.3 418.7,267.0 C419.9,268.8 420.6,271.1 421.8,272.3 C423.0,273.5 424.4,273.9 426.0,274.4 C427.6,274.9 429.9,274.6 431.3,275.5 C432.7,276.3 433.2,278.3 434.4,279.7 C435.7,281.1 437.6,281.9 438.6,283.9 C439.7,285.8 440.7,291.2 440.7,291.2 C440.7,291.2 402.9,291.2 402.9,291.2 C402.9,291.2 402.9,257.6 402.9,257.6Z"/>
<path fill="#0fa00f" clip-path="url(#k6)" d="M392.3,252.3 C392.3,252.3 477.5,252.3 477.5,252.3 C477.5,252.3 477.5,289.4 477.5,289.4 C477.5,289.4 474.5,289.8 473.4,290.7 C472.2,291.7 471.4,293.0 470.6,294.9 C469.8,296.7 469.3,299.4 468.5,301.7 C467.7,304.0 466.8,306.5 465.8,308.6 C464.8,310.7 463.6,312.3 462.4,314.1 C461.1,315.9 459.7,318.0 458.2,319.6 C456.7,321.2 455.4,322.5 453.4,323.7 C451.5,325.0 449.0,326.1 446.5,327.2 C444.1,328.2 441.6,329.3 439.0,329.9 C436.4,330.5 433.0,330.8 430.7,330.6 C428.4,330.4 427.1,329.9 425.2,329.0 C423.4,328.0 421.5,326.5 419.7,325.1 C418.0,323.7 416.4,322.1 414.9,320.3 C413.5,318.5 412.1,316.3 411.2,314.1 C410.4,311.9 410.1,310.7 409.8,307.2 C409.6,303.8 410.4,295.7 409.8,293.5 C409.3,291.3 408.2,293.4 406.7,294.2 C405.1,294.9 402.9,296.8 400.5,297.9 C398.1,299.0 392.3,300.9 392.3,300.9 C392.3,300.9 392.3,252.3 392.3,252.3Z"/>
<path fill="#96d2fa" d="M474.7,364.6 C474.5,361.8 475.8,358.6 477.0,356.7 C478.1,354.8 479.8,354.5 481.5,353.3 C483.2,352.1 485.3,350.8 487.2,349.3 C489.1,347.9 490.9,346.1 492.8,344.8 C494.7,343.5 496.9,342.0 498.5,341.4 C500.1,340.8 502.0,340.8 502.5,341.4 C502.9,342.0 502.1,343.5 501.3,344.8 C500.6,346.1 499.0,347.4 497.9,349.3 C496.9,351.3 495.8,354.2 495.1,356.7 C494.4,359.2 494.5,362.4 494.0,364.6 C493.4,366.9 492.3,368.6 491.7,370.3 C491.1,372.0 490.2,373.3 490.6,374.8 C490.9,376.3 493.8,378.0 494.0,379.3 C494.2,380.7 492.8,382.5 491.7,382.7 C490.6,382.9 488.7,381.6 487.2,380.5 C485.7,379.3 484.2,377.1 482.6,375.9 C481.1,374.8 479.4,375.6 478.1,373.7 C476.8,371.8 474.9,367.5 474.7,364.6Z"/>
<path fill="#96d2fa" clip-path="url(#k3)" d="M334.2,218.2 C334.2,218.2 345.5,218.2 345.5,218.2 C345.5,218.2 346.4,224.8 347.4,227.6 C348.3,230.4 349.6,232.9 351.1,235.1 C352.7,237.3 354.6,239.2 356.8,240.8 C358.9,242.3 361.4,243.6 364.2,244.5 C367.1,245.4 370.5,245.4 373.6,246.4 C376.8,247.3 379.9,248.7 383.0,250.1 C386.1,251.5 389.2,253.4 392.4,254.8 C395.5,256.2 398.6,257.3 401.8,258.6 C404.9,259.8 408.3,260.8 411.1,262.3 C413.9,263.9 416.4,265.9 418.6,267.9 C420.8,270.0 422.7,272.5 424.2,274.5 C425.8,276.5 426.8,278.2 428.0,280.1 C429.2,282.0 430.5,283.9 431.8,285.8 C433.0,287.6 434.2,290.1 435.5,291.4 C436.8,292.6 438.0,293.2 439.2,293.2 C440.5,293.2 441.8,292.3 443.0,291.4 C444.2,290.4 445.5,288.9 446.8,287.6 C448.0,286.4 448.6,284.8 450.5,283.9 C452.4,282.9 455.5,282.3 458.0,282.0 C460.5,281.7 463.0,281.7 465.5,282.0 C468.0,282.3 470.8,283.2 473.0,283.9 C475.2,284.5 477.4,284.8 478.6,285.8 C479.9,286.7 480.8,287.9 480.5,289.5 C480.2,291.1 478.3,293.2 476.8,295.1 C475.2,297.0 473.0,298.9 471.1,300.8 C469.2,302.6 467.4,304.5 465.5,306.4 C463.6,308.2 461.8,310.1 459.9,312.0 C458.0,313.9 456.1,316.1 454.2,317.6 C452.4,319.2 451.1,320.3 448.6,321.4 C446.1,322.5 442.4,323.7 439.2,324.2 C436.1,324.7 432.7,324.5 429.9,324.2 C427.1,323.9 424.4,323.4 422.4,322.3 C420.3,321.2 418.9,319.7 417.7,317.6 C416.4,315.6 415.7,312.6 414.9,310.1 C414.1,307.6 413.9,304.5 413.0,302.6 C412.1,300.8 411.1,299.8 409.2,298.9 C407.4,297.9 404.2,297.8 401.8,297.0 C399.2,296.2 396.4,295.4 394.2,294.2 C392.1,292.9 390.5,291.2 388.6,289.5 C386.8,287.8 384.9,285.8 383.0,283.9 C381.1,282.0 379.6,279.8 377.4,278.2 C375.2,276.7 372.4,275.6 369.9,274.5 C367.4,273.4 364.9,272.8 362.4,271.7 C359.9,270.6 357.4,269.5 354.9,267.9 C352.4,266.4 350.8,263.7 347.4,262.3 C343.9,260.9 334.2,259.5 334.2,259.5 C334.2,259.5 334.2,218.2 334.2,218.2Z"/>
<path fill="#96d2fa" clip-path="url(#k3)" d="M428.0,227.6 C430.2,225.4 435.5,227.3 439.2,227.6 C443.0,227.9 446.8,229.5 450.5,229.5 C454.2,229.5 458.0,227.3 461.8,227.6 C465.5,227.9 469.9,229.8 473.0,231.4 C476.1,232.9 478.9,234.5 480.5,237.0 C482.1,239.5 482.4,243.6 482.4,246.4 C482.4,249.2 482.1,251.7 480.5,253.9 C478.9,256.1 475.5,257.9 473.0,259.5 C470.5,261.1 467.7,262.0 465.5,263.2 C463.3,264.5 461.1,265.4 459.9,267.0 C458.6,268.6 458.9,270.8 458.0,272.6 C457.1,274.5 455.5,276.7 454.2,278.2 C453.0,279.8 451.8,281.4 450.5,282.0 C449.2,282.6 448.0,282.9 446.8,282.0 C445.5,281.1 444.6,278.6 443.0,276.4 C441.4,274.2 439.2,271.4 437.4,268.9 C435.5,266.4 433.3,263.9 431.8,261.4 C430.2,258.9 428.9,257.3 428.0,253.9 C427.1,250.4 426.1,245.1 426.1,240.8 C426.1,236.4 425.8,229.8 428.0,227.6Z"/>
<path fill="#96d2fa" clip-path="url(#k4)" d="M337.9,222.9 C337.9,222.9 344.2,222.9 344.2,222.9 C344.2,222.9 346.3,226.4 347.4,228.2 C348.4,229.9 349.3,231.7 350.5,233.4 C351.7,235.2 353.1,237.1 354.7,238.7 C356.3,240.2 358.2,241.7 360.0,242.9 C361.7,244.0 363.3,245.0 365.2,245.5 C367.2,246.0 369.4,245.8 371.5,246.0 C373.6,246.3 375.7,246.7 377.8,247.1 C379.9,247.4 382.2,247.4 384.2,248.1 C386.1,248.8 387.7,250.1 389.4,251.3 C391.2,252.5 392.7,254.3 394.7,255.5 C396.6,256.7 399.0,257.6 401.0,258.6 C402.9,259.7 404.5,260.6 406.2,261.8 C408.0,263.0 409.9,264.8 411.5,266.0 C413.1,267.2 413.9,268.3 415.7,269.2 C417.4,270.0 422.0,271.3 422.0,271.3 C422.0,271.3 422.0,291.2 422.0,291.2 C422.0,291.2 383.1,291.2 383.1,291.2 C383.1,291.2 382.4,289.7 382.0,288.1 C381.7,286.5 381.5,283.7 381.0,281.8 C380.5,279.8 380.1,277.7 378.9,276.5 C377.7,275.3 375.6,275.1 373.6,274.4 C371.7,273.7 369.4,273.0 367.3,272.3 C365.2,271.6 362.6,271.1 361.0,270.2 C359.4,269.3 358.9,268.5 357.9,267.0 C356.8,265.6 355.9,263.2 354.7,261.8 C353.5,260.4 352.3,259.5 350.5,258.6 C348.8,257.8 346.3,257.2 344.2,256.5 C342.1,255.8 337.9,254.4 337.9,254.4 C337.9,254.4 337.9,222.9 337.9,222.9Z"/>
<path fill="#96d2fa" clip-path="url(#k5)" d="M337.9,222.9 C337.9,222.9 344.2,222.9 344.2,222.9 C344.2,222.9 346.3,226.4 347.4,228.2 C348.4,229.9 349.3,231.7 350.5,233.4 C351.7,235.2 353.1,237.1 354.7,238.7 C356.3,240.2 358.2,241.7 360.0,242.9 C361.7,244.0 363.3,245.0 365.2,245.5 C367.2,246.0 369.4,245.8 371.5,246.0 C373.6,246.3 375.7,246.7 377.8,247.1 C379.9,247.4 382.2,247.4 384.2,248.1 C386.1,248.8 387.7,250.1 389.4,251.3 C391.2,252.5 392.7,254.3 394.7,255.5 C396.6,256.7 399.0,257.6 401.0,258.6 C402.9,259.7 404.5,260.6 406.2,261.8 C408.0,263.0 409.9,264.8 411.5,266.0 C413.1,267.2 413.9,268.3 415.7,269.2 C417.4,270.0 422.0,271.3 422.0,271.3 C422.0,271.3 422.0,291.2 422.0,291.2 C422.0,291.2 383.1,291.2 383.1,291.2 C383.1,291.2 382.4,289.7 382.0,288.1 C381.7,286.5 381.5,283.7 381.0,281.8 C380.5,279.8 380.1,277.7 378.9,276.5 C377.7,275.3 375.6,275.1 373.6,274.4 C371.7,273.7 369.4,273.0 367.3,272.3 C365.2,271.6 362.6,271.1 361.0,270.2 C359.4,269.3 358.9,268.5 357.9,267.0 C356.8,265.6 355.9,263.2 354.7,261.8 C353.5,260.4 352.3,259.5 350.5,258.6 C348.8,257.8 346.3,257.2 344.2,256.5 C342.1,255.8 337.9,254.4 337.9,254.4 C337.9,254.4 337.9,222.9 337.9,222.9Z"/>
<path fill="#96d2fa" clip-path="url(#k7)" d="M427.1,228.2 C428.3,226.9 432.0,226.9 434.4,227.1 C436.9,227.3 439.7,228.2 441.8,229.2 C443.9,230.3 445.5,232.4 447.0,233.4 C448.6,234.5 449.5,235.5 451.3,235.5 C453.0,235.5 455.5,234.3 457.6,233.4 C459.7,232.5 461.8,231.1 463.9,230.3 C466.0,229.4 468.1,228.2 470.2,228.2 C472.3,228.2 474.7,229.2 476.5,230.3 C478.2,231.3 480.0,232.9 480.7,234.5 C481.4,236.0 481.2,237.8 480.7,239.7 C480.2,241.6 478.4,243.9 477.5,246.0 C476.7,248.1 475.4,250.6 475.4,252.3 C475.4,254.1 478.1,255.1 477.5,256.5 C477.0,257.9 474.4,259.5 472.3,260.7 C470.2,262.0 467.0,263.1 464.9,263.9 C462.8,264.7 460.9,264.9 459.7,265.5 C458.4,266.0 457.6,266.1 457.6,267.0 C457.6,268.0 458.6,269.9 459.7,271.3 C460.7,272.7 462.3,274.2 463.9,275.5 C465.4,276.7 467.4,277.7 469.1,278.6 C470.9,279.5 472.8,280.0 474.4,280.7 C476.0,281.4 477.5,281.8 478.6,282.8 C479.6,283.9 480.7,285.6 480.7,287.0 C480.7,288.4 478.6,291.2 478.6,291.2 C478.6,291.2 461.8,291.2 461.8,291.2 C461.8,291.2 456.7,285.8 454.4,283.9 C452.1,281.9 449.7,281.1 448.1,279.7 C446.5,278.3 446.2,276.9 444.9,275.5 C443.7,274.1 442.3,272.8 440.7,271.3 C439.2,269.7 437.1,267.8 435.5,266.0 C433.9,264.2 432.3,262.3 431.3,260.7 C430.2,259.2 429.7,258.5 429.2,256.5 C428.7,254.6 428.4,251.8 428.1,249.2 C427.9,246.6 427.8,243.2 427.6,240.8 C427.4,238.3 427.2,236.6 427.1,234.5 C427.0,232.4 425.8,229.4 427.1,228.2Z"/>
<path fill="#96d2fa" clip-path="url(#k8)" d="M427.1,228.2 C428.3,226.9 432.0,226.9 434.4,227.1 C436.9,227.3 439.7,228.2 441.8,229.2 C443.9,230.3 445.5,232.4 447.0,233.4 C448.6,234.5 449.5,235.5 451.3,235.5 C453.0,235.5 455.5,234.3 457.6,233.4 C459.7,232.5 461.8,231.1 463.9,230.3 C466.0,229.4 468.1,228.2 470.2,228.2 C472.3,228.2 474.7,229.2 476.5,230.3 C478.2,231.3 480.0,232.9 480.7,234.5 C481.4,236.0 481.2,237.8 480.7,239.7 C480.2,241.6 478.4,243.9 477.5,246.0 C476.7,248.1 475.4,250.6 475.4,252.3 C475.4,254.1 478.1,255.1 477.5,256.5 C477.0,257.9 474.4,259.5 472.3,260.7 C470.2,262.0 467.0,263.1 464.9,263.9 C462.8,264.7 460.9,264.9 459.7,265.5 C458.4,266.0 457.6,266.1 457.6,267.0 C457.6,268.0 458.6,269.9 459.7,271.3 C460.7,272.7 462.3,274.2 463.9,275.5 C465.4,276.7 467.4,277.7 469.1,278.6 C470.9,279.5 472.8,280.0 474.4,280.7 C476.0,281.4 477.5,281.8 478.6,282.8 C479.6,283.9 480.7,285.6 480.7,287.0 C480.7,288.4 478.6,291.2 478.6,291.2 C478.6,291.2 461.8,291.2 461.8,291.2 C461.8,291.2 456.7,285.8 454.4,283.9 C452.1,281.9 449.7,281.1 448.1,279.7 C446.5,278.3 446.2,276.9 444.9,275.5 C443.7,274.1 442.3,272.8 440.7,271.3 C439.2,269.7 437.1,267.8 435.5,266.0 C433.9,264.2 432.3,262.3 431.3,260.7 C430.2,259.2 429.7,258.5 429.2,256.5 C428.7,254.6 428.4,251.8 428.1,249.2 C427.9,246.6 427.8,243.2 427.6,240.8 C427.4,238.3 427.2,236.6 427.1,234.5 C427.0,232.4 425.8,229.4 427.1,228.2Z"/>
<path fill="#96d2fa" clip-path="url(#k7)" d="M402.9,259.7 C402.9,259.7 407.5,260.0 409.2,260.7 C411.0,261.4 412.2,262.5 413.4,263.9 C414.6,265.3 415.7,267.4 416.6,269.2 C417.4,270.9 417.6,273.0 418.7,274.4 C419.7,275.8 421.3,277.2 422.9,277.6 C424.4,277.9 426.6,276.5 428.1,276.5 C429.7,276.5 431.1,276.9 432.3,277.6 C433.6,278.3 434.4,279.7 435.5,280.7 C436.5,281.8 437.8,282.1 438.6,283.9 C439.5,285.6 440.7,291.2 440.7,291.2 C440.7,291.2 402.9,291.2 402.9,291.2 C402.9,291.2 402.9,259.7 402.9,259.7Z"/>
<path fill="#96d2fa" clip-path="url(#k8)" d="M402.9,259.7 C402.9,259.7 407.5,260.0 409.2,260.7 C411.0,261.4 412.2,262.5 413.4,263.9 C414.6,265.3 415.7,267.4 416.6,269.2 C417.4,270.9 417.6,273.0 418.7,274.4 C419.7,275.8 421.3,277.2 422.9,277.6 C424.4,277.9 426.6,276.5 428.1,276.5 C429.7,276.5 431.1,276.9 432.3,277.6 C433.6,278.3 434.4,279.7 435.5,280.7 C436.5,281.8 437.8,282.1 438.6,283.9 C439.5,285.6 440.7,291.2 440.7,291.2 C440.7,291.2 402.9,291.2 402.9,291.2 C402.9,291.2 402.9,259.7 402.9,259.7Z"/>
<path fill="#96d2fa" clip-path="url(#k6)" d="M392.3,252.3 C392.3,252.3 414.2,252.3 414.2,252.3 C414.2,252.3 414.6,257.7 414.9,260.5 C415.3,263.2 416.1,266.2 416.3,268.7 C416.5,271.3 415.8,273.7 416.3,275.6 C416.8,277.6 417.7,279.2 419.1,280.4 C420.4,281.7 422.7,282.0 424.6,283.2 C426.4,284.3 428.4,285.9 430.1,287.3 C431.7,288.7 432.9,290.6 434.2,291.4 C435.4,292.2 436.2,292.7 437.6,292.1 C439.0,291.5 441.2,289.6 442.4,288.0 C443.7,286.4 444.5,284.6 445.2,282.5 C445.9,280.4 446.5,277.9 446.5,275.6 C446.5,273.3 445.9,271.3 445.2,268.7 C444.5,266.2 443.2,263.2 442.4,260.5 C441.6,257.7 440.4,252.3 440.4,252.3 C440.4,252.3 477.5,252.3 477.5,252.3 C477.5,252.3 477.5,260.5 477.5,260.5 C477.5,260.5 469.5,261.0 466.5,261.9 C463.5,262.8 460.5,264.6 459.6,266.0 C458.7,267.4 460.3,268.5 461.0,270.1 C461.7,271.7 462.4,274.0 463.7,275.6 C465.1,277.2 466.9,278.8 469.2,279.7 C471.5,280.7 477.5,281.1 477.5,281.1 C477.5,281.1 477.5,290.7 477.5,290.7 C477.5,290.7 473.4,287.5 472.0,287.3 C470.6,287.1 469.9,287.9 469.2,289.4 C468.5,290.9 468.5,293.7 467.9,296.2 C467.2,298.8 466.0,302.2 465.1,304.5 C464.2,306.8 463.5,308.2 462.4,310.0 C461.2,311.8 459.4,313.9 458.2,315.5 C457.1,317.1 456.9,318.2 455.5,319.6 C454.1,321.0 452.0,322.6 450.0,323.7 C447.9,324.9 445.4,325.6 443.1,326.5 C440.8,327.4 438.8,328.7 436.2,329.2 C433.7,329.8 430.3,330.1 428.0,329.9 C425.7,329.7 424.1,328.9 422.5,327.9 C420.9,326.8 419.7,325.3 418.4,323.7 C417.0,322.1 415.4,320.1 414.2,318.2 C413.1,316.4 412.2,314.6 411.5,312.7 C410.8,310.9 410.3,309.3 410.1,307.2 C409.9,305.2 410.0,302.9 410.1,300.4 C410.2,297.8 411.0,293.8 410.8,292.1 C410.6,290.4 409.8,289.8 408.7,290.1 C407.7,290.3 406.2,292.2 404.6,293.5 C403.0,294.7 401.2,296.5 399.1,297.6 C397.1,298.8 392.3,300.4 392.3,300.4 C392.3,300.4 392.3,252.3 392.3,252.3Z"/>
<path fill="#50a5f5" d="M475.3,363.5 C475.3,361.2 476.9,358.4 478.1,356.7 C479.3,355.0 480.9,354.5 482.6,353.3 C484.3,352.1 486.4,350.7 488.3,349.3 C490.2,348.0 492.3,346.4 494.0,345.4 C495.7,344.3 497.4,343.5 498.5,343.1 C499.6,342.7 500.8,342.4 500.8,343.1 C500.8,343.9 499.3,345.8 498.5,347.6 C497.6,349.5 496.4,352.0 495.7,354.4 C494.9,356.9 494.6,359.9 494.0,362.4 C493.3,364.8 492.6,367.5 491.7,369.2 C490.8,370.8 489.8,372.0 488.3,372.5 C486.8,373.1 484.3,372.9 482.6,372.5 C480.9,372.2 479.3,371.8 478.1,370.3 C476.9,368.8 475.3,365.8 475.3,363.5Z"/>
<path fill="#50a5f5" clip-path="url(#k3)" d="M334.2,222.0 C334.2,222.0 339.9,223.9 341.8,225.8 C343.6,227.6 343.9,230.8 345.5,233.2 C347.1,235.8 348.9,238.7 351.1,240.8 C353.3,242.8 355.8,244.2 358.6,245.4 C361.4,246.7 364.9,247.3 368.0,248.2 C371.1,249.2 374.2,250.0 377.4,251.1 C380.5,252.2 383.6,253.4 386.8,254.8 C389.9,256.2 393.0,258.1 396.1,259.5 C399.2,260.9 402.7,261.8 405.5,263.2 C408.3,264.7 410.8,266.1 413.0,267.9 C415.2,269.8 417.1,272.2 418.6,274.5 C420.2,276.8 421.1,279.8 422.4,282.0 C423.6,284.2 424.6,285.8 426.1,287.6 C427.7,289.5 429.9,291.8 431.8,293.2 C433.6,294.7 435.2,296.1 437.4,296.1 C439.6,296.1 442.4,294.7 444.9,293.2 C447.4,291.8 449.6,288.9 452.4,287.6 C455.2,286.4 458.6,285.9 461.8,285.8 C464.9,285.6 468.6,285.9 471.1,286.7 C473.6,287.5 476.4,288.7 476.8,290.4 C477.1,292.2 474.6,295.0 473.0,297.0 C471.4,299.0 469.2,300.8 467.4,302.6 C465.5,304.5 463.6,306.4 461.8,308.2 C459.9,310.1 458.0,312.3 456.1,313.9 C454.2,315.4 453.0,316.5 450.5,317.6 C448.0,318.7 444.2,319.9 441.1,320.4 C438.0,321.0 434.6,321.2 431.8,321.0 C428.9,320.8 426.1,320.3 424.2,319.1 C422.4,317.9 421.6,316.0 420.5,313.9 C419.4,311.8 418.6,308.6 417.7,306.4 C416.8,304.2 416.3,302.3 414.9,300.8 C413.5,299.2 411.4,298.1 409.2,297.0 C407.1,295.9 404.2,295.3 401.8,294.2 C399.2,293.1 396.4,291.8 394.2,290.4 C392.1,289.0 390.5,287.5 388.6,285.8 C386.8,284.0 385.2,281.8 383.0,280.1 C380.8,278.4 378.0,276.7 375.5,275.4 C373.0,274.2 370.8,273.7 368.0,272.6 C365.2,271.5 361.4,270.1 358.6,268.9 C355.8,267.6 355.2,266.4 351.1,265.1 C347.1,263.9 334.2,261.4 334.2,261.4 C334.2,261.4 334.2,222.0 334.2,222.0Z"/>
<path fill="#50a5f5" clip-path="url(#k3)" d="M431.8,233.2 C433.0,231.1 437.7,234.5 441.1,235.1 C444.6,235.8 448.3,237.0 452.4,237.0 C456.4,237.0 461.8,234.5 465.5,235.1 C469.2,235.8 473.0,238.2 474.9,240.8 C476.8,243.2 477.7,247.6 476.8,250.1 C475.8,252.6 472.1,254.2 469.2,255.8 C466.4,257.3 462.7,257.9 459.9,259.5 C457.1,261.1 454.2,263.2 452.4,265.1 C450.5,267.0 450.2,270.1 448.6,270.8 C447.1,271.4 444.9,270.8 443.0,268.9 C441.1,267.0 438.9,262.9 437.4,259.5 C435.8,256.1 434.6,252.6 433.6,248.2 C432.7,243.9 430.5,235.4 431.8,233.2Z"/>
<path fill="#50a5f5" clip-path="url(#k4)" d="M337.9,222.9 C337.9,222.9 342.1,222.9 342.1,222.9 C342.1,222.9 344.0,227.1 345.3,229.2 C346.5,231.3 348.1,233.6 349.5,235.5 C350.9,237.4 352.1,239.2 353.7,240.8 C355.2,242.3 357.0,243.8 358.9,245.0 C360.8,246.1 363.1,247.1 365.2,247.6 C367.3,248.1 369.4,247.9 371.5,248.1 C373.6,248.4 375.7,248.6 377.8,249.0 C379.9,249.3 382.2,249.5 384.2,250.2 C386.1,251.0 387.7,252.2 389.4,253.4 C391.2,254.6 392.9,256.4 394.7,257.6 C396.4,258.8 398.2,259.7 399.9,260.7 C401.7,261.8 403.4,262.7 405.2,263.9 C406.9,265.1 408.9,266.9 410.4,268.1 C412.0,269.3 412.7,270.4 414.6,271.3 C416.6,272.1 422.0,273.4 422.0,273.4 C422.0,273.4 422.0,291.2 422.0,291.2 C422.0,291.2 384.2,291.2 384.2,291.2 C384.2,291.2 383.5,287.7 383.1,286.0 C382.8,284.2 382.8,282.5 382.0,280.7 C381.3,279.0 380.6,276.9 378.9,275.5 C377.1,274.1 373.5,273.4 371.5,272.3 C369.6,271.3 368.7,270.4 367.3,269.2 C365.9,267.9 364.4,266.3 363.1,264.9 C361.9,263.5 361.2,262.0 360.0,260.7 C358.7,259.5 357.3,258.5 355.8,257.6 C354.2,256.7 353.5,256.4 350.5,255.5 C347.5,254.6 337.9,252.3 337.9,252.3 C337.9,252.3 337.9,222.9 337.9,222.9Z"/>
<path fill="#50a5f5" clip-path="url(#k5)" d="M337.9,222.9 C337.9,222.9 342.1,222.9 342.1,222.9 C342.1,222.9 344.0,227.1 345.3,229.2 C346.5,231.3 348.1,233.6 349.5,235.5 C350.9,237.4 352.1,239.2 353.7,240.8 C355.2,242.3 357.0,243.8 358.9,245.0 C360.8,246.1 363.1,247.1 365.2,247.6 C367.3,248.1 369.4,247.9 371.5,248.1 C373.6,248.4 375.7,248.6 377.8,249.0 C379.9,249.3 382.2,249.5 384.2,250.2 C386.1,251.0 387.7,252.2 389.4,253.4 C391.2,254.6 392.9,256.4 394.7,257.6 C396.4,258.8 398.2,259.7 399.9,260.7 C401.7,261.8 403.4,262.7 405.2,263.9 C406.9,265.1 408.9,266.9 410.4,268.1 C412.0,269.3 412.7,270.4 414.6,271.3 C416.6,272.1 422.0,273.4 422.0,273.4 C422.0,273.4 422.0,291.2 422.0,291.2 C422.0,291.2 384.2,291.2 384.2,291.2 C384.2,291.2 383.5,287.7 383.1,286.0 C382.8,284.2 382.8,282.5 382.0,280.7 C381.3,279.0 380.6,276.9 378.9,275.5 C377.1,274.1 373.5,273.4 371.5,272.3 C369.6,271.3 368.7,270.4 367.3,269.2 C365.9,267.9 364.4,266.3 363.1,264.9 C361.9,263.5 361.2,262.0 360.0,260.7 C358.7,259.5 357.3,258.5 355.8,257.6 C354.2,256.7 353.5,256.4 350.5,255.5 C347.5,254.6 337.9,252.3 337.9,252.3 C337.9,252.3 337.9,222.9 337.9,222.9Z"/>
<path fill="#50a5f5" clip-path="url(#k7)" d="M434.4,241.8 C434.6,239.7 435.1,237.8 436.5,236.6 C437.9,235.3 440.7,234.1 442.8,234.5 C444.9,234.8 447.2,237.6 449.2,238.7 C451.1,239.7 452.3,240.9 454.4,240.8 C456.5,240.6 459.3,238.1 461.8,237.6 C464.2,237.1 467.4,236.9 469.1,237.6 C470.9,238.3 471.8,239.9 472.3,241.8 C472.8,243.7 472.8,247.1 472.3,249.2 C471.8,251.3 470.5,253.0 469.1,254.4 C467.7,255.8 465.8,256.9 463.9,257.6 C461.9,258.3 459.7,258.1 457.6,258.6 C455.5,259.2 453.4,259.9 451.3,260.7 C449.2,261.6 446.7,264.1 444.9,263.9 C443.2,263.7 442.0,261.1 440.7,259.7 C439.5,258.3 438.5,257.2 437.6,255.5 C436.7,253.7 436.0,251.5 435.5,249.2 C435.0,246.9 434.3,243.9 434.4,241.8Z"/>
<path fill="#50a5f5" clip-path="url(#k8)" d="M434.4,241.8 C434.6,239.7 435.1,237.8 436.5,236.6 C437.9,235.3 440.7,234.1 442.8,234.5 C444.9,234.8 447.2,237.6 449.2,238.7 C451.1,239.7 452.3,240.9 454.4,240.8 C456.5,240.6 459.3,238.1 461.8,237.6 C464.2,237.1 467.4,236.9 469.1,237.6 C470.9,238.3 471.8,239.9 472.3,241.8 C472.8,243.7 472.8,247.1 472.3,249.2 C471.8,251.3 470.5,253.0 469.1,254.4 C467.7,255.8 465.8,256.9 463.9,257.6 C461.9,258.3 459.7,258.1 457.6,258.6 C455.5,259.2 453.4,259.9 451.3,260.7 C449.2,261.6 446.7,264.1 444.9,263.9 C443.2,263.7 442.0,261.1 440.7,259.7 C439.5,258.3 438.5,257.2 437.6,255.5 C436.7,253.7 436.0,251.5 435.5,249.2 C435.0,246.9 434.3,243.9 434.4,241.8Z"/>
<path fill="#50a5f5" clip-path="url(#k6)" d="M392.3,252.3 C392.3,252.3 412.9,252.3 412.9,252.3 C412.9,252.3 413.9,259.4 414.2,263.2 C414.6,267.1 414.4,272.5 414.9,275.6 C415.5,278.7 416.1,280.2 417.7,281.8 C419.3,283.5 422.5,284.2 424.6,285.5 C426.6,286.8 428.1,288.2 430.1,289.6 C432.0,291.1 434.4,293.8 436.2,294.2 C438.1,294.6 439.3,293.3 441.0,292.1 C442.8,290.9 445.1,288.6 446.5,286.9 C448.0,285.2 448.7,282.5 450.0,281.8 C451.2,281.1 452.3,282.4 454.1,282.5 C455.9,282.6 458.9,282.3 461.0,282.5 C463.0,282.7 465.3,282.9 466.5,283.9 C467.6,284.8 467.9,286.4 467.9,288.0 C467.9,289.6 467.2,291.4 466.5,293.5 C465.8,295.5 464.6,298.1 463.7,300.4 C462.8,302.7 462.1,305.2 461.0,307.2 C459.8,309.3 458.2,310.9 456.9,312.7 C455.5,314.6 454.3,316.7 452.7,318.2 C451.1,319.7 449.3,320.6 447.2,321.7 C445.2,322.7 442.9,323.6 440.4,324.4 C437.8,325.2 434.6,326.2 432.1,326.5 C429.6,326.7 427.3,326.5 425.2,325.8 C423.2,325.1 421.3,323.8 419.7,322.4 C418.1,320.9 416.8,318.9 415.6,316.9 C414.5,314.8 413.4,312.7 412.9,310.0 C412.4,307.2 412.7,303.3 412.6,300.4 C412.5,297.4 412.8,293.6 412.2,292.1 C411.5,290.6 410.0,290.9 408.7,291.3 C407.5,291.7 406.2,293.6 404.6,294.6 C403.0,295.5 401.2,296.4 399.1,297.1 C397.1,297.7 392.3,298.7 392.3,298.7 C392.3,298.7 392.3,252.3 392.3,252.3Z"/>
<path fill="#50a5f5" clip-path="url(#k6)" d="M448.6,271.5 C449.5,270.6 451.1,269.7 452.7,270.1 C454.3,270.6 456.4,272.6 458.2,274.2 C460.1,275.8 462.1,278.1 463.7,279.7 C465.3,281.3 467.4,282.5 467.9,283.9 C468.3,285.2 467.9,287.5 466.5,288.0 C465.1,288.4 461.9,287.3 459.6,286.6 C457.3,285.9 454.6,285.0 452.7,283.9 C450.9,282.7 449.5,281.1 448.6,279.7 C447.7,278.4 447.2,277.0 447.2,275.6 C447.2,274.2 447.7,272.4 448.6,271.5Z"/>
<path fill="#2882f0" d="M477.0,362.4 C477.3,360.5 478.6,358.2 479.8,356.7 C481.0,355.2 482.7,354.4 484.3,353.3 C485.9,352.2 487.8,351.0 489.4,349.9 C491.0,348.8 492.6,347.4 494.0,346.5 C495.3,345.7 497.0,344.4 497.4,344.8 C497.7,345.2 496.8,347.2 496.2,348.8 C495.7,350.4 494.5,352.4 494.0,354.4 C493.4,356.5 493.4,359.2 492.8,361.2 C492.3,363.3 491.5,365.4 490.6,366.9 C489.6,368.4 488.7,369.7 487.2,370.3 C485.7,370.8 483.0,370.7 481.5,370.3 C480.0,369.9 478.9,369.3 478.1,368.0 C477.4,366.7 476.7,364.2 477.0,362.4Z"/>
<path fill="#2882f0" clip-path="url(#k3)" d="M334.2,229.5 C334.2,229.5 339.6,231.4 341.8,233.2 C343.9,235.1 345.2,238.4 347.4,240.8 C349.6,243.1 352.1,245.6 354.9,247.3 C357.7,249.0 361.1,250.0 364.2,251.1 C367.4,252.2 370.5,252.8 373.6,253.9 C376.8,255.0 379.9,256.2 383.0,257.6 C386.1,259.0 389.6,260.8 392.4,262.3 C395.2,263.9 397.4,265.6 399.9,267.0 C402.4,268.4 404.9,269.2 407.4,270.8 C409.9,272.3 412.7,274.2 414.9,276.4 C417.1,278.6 418.9,281.7 420.5,283.9 C422.1,286.1 422.7,287.5 424.2,289.5 C425.8,291.5 427.7,294.5 429.9,296.1 C432.1,297.6 434.9,298.7 437.4,298.9 C439.9,299.0 442.4,298.2 444.9,297.0 C447.4,295.8 449.9,292.6 452.4,291.4 C454.9,290.1 457.1,289.7 459.9,289.5 C462.7,289.3 467.1,289.7 469.2,290.4 C471.4,291.2 473.3,292.5 473.0,294.2 C472.7,295.9 469.6,298.4 467.4,300.8 C465.2,303.1 462.4,306.1 459.9,308.2 C457.4,310.4 455.2,312.5 452.4,313.9 C449.6,315.3 446.4,316.2 443.0,316.7 C439.6,317.2 434.6,317.2 431.8,316.7 C428.9,316.2 427.7,315.3 426.1,313.9 C424.6,312.5 423.6,310.3 422.4,308.2 C421.1,306.2 419.9,303.7 418.6,301.7 C417.4,299.7 416.8,297.6 414.9,296.1 C413.0,294.5 410.2,293.6 407.4,292.3 C404.6,291.1 400.8,290.3 398.0,288.6 C395.2,286.8 393.0,284.0 390.5,282.0 C388.0,280.0 385.5,278.1 383.0,276.4 C380.5,274.7 378.0,272.9 375.5,271.7 C373.0,270.4 371.1,270.0 368.0,268.9 C364.9,267.8 360.5,266.2 356.8,265.1 C353.0,264.0 349.2,263.2 345.5,262.3 C341.8,261.4 334.2,259.5 334.2,259.5 C334.2,259.5 334.2,229.5 334.2,229.5Z"/>
<path fill="#2882f0" clip-path="url(#k3)" d="M452.4,244.5 C452.7,242.8 457.4,242.3 459.9,242.6 C462.4,242.9 466.4,244.8 467.4,246.4 C468.3,247.9 467.1,250.9 465.5,252.0 C463.9,253.1 460.2,254.2 458.0,252.9 C455.8,251.7 452.1,246.2 452.4,244.5Z"/>
<path fill="#2882f0" clip-path="url(#k3)" d="M450.5,252.0 C450.8,251.1 453.3,249.7 454.2,250.1 C455.2,250.6 456.4,253.9 456.1,254.8 C455.8,255.8 453.3,256.2 452.4,255.8 C451.4,255.3 450.2,252.9 450.5,252.0Z"/>
<path fill="#2882f0" clip-path="url(#k4)" d="M337.9,226.1 C337.9,226.1 340.7,226.8 342.1,228.2 C343.5,229.6 344.7,232.4 346.3,234.5 C347.9,236.6 349.6,238.8 351.6,240.8 C353.5,242.7 355.6,244.6 357.9,246.0 C360.1,247.4 363.0,248.6 365.2,249.2 C367.5,249.8 369.4,249.4 371.5,249.7 C373.6,250.0 375.7,250.3 377.8,250.8 C379.9,251.2 382.2,251.5 384.2,252.3 C386.1,253.1 387.7,254.3 389.4,255.5 C391.2,256.7 392.9,258.5 394.7,259.7 C396.4,260.9 398.2,261.7 399.9,262.8 C401.7,264.0 403.4,265.3 405.2,266.5 C406.9,267.8 408.7,269.2 410.4,270.2 C412.2,271.3 413.8,272.0 415.7,272.8 C417.6,273.6 422.0,274.9 422.0,274.9 C422.0,274.9 422.0,291.2 422.0,291.2 C422.0,291.2 385.2,291.2 385.2,291.2 C385.2,291.2 384.5,287.9 384.2,286.0 C383.8,284.0 383.8,281.6 383.1,279.7 C382.4,277.7 381.3,275.7 379.9,274.4 C378.5,273.1 376.3,272.7 374.7,271.8 C373.1,270.9 371.9,270.3 370.5,269.2 C369.1,268.0 367.5,266.5 366.3,264.9 C365.1,263.4 364.5,261.3 363.1,259.7 C361.7,258.1 360.0,256.5 357.9,255.5 C355.8,254.4 353.8,254.1 350.5,253.4 C347.2,252.7 337.9,251.3 337.9,251.3 C337.9,251.3 337.9,226.1 337.9,226.1Z"/>
<path fill="#2882f0" clip-path="url(#k5)" d="M337.9,226.1 C337.9,226.1 340.7,226.8 342.1,228.2 C343.5,229.6 344.7,232.4 346.3,234.5 C347.9,236.6 349.6,238.8 351.6,240.8 C353.5,242.7 355.6,244.6 357.9,246.0 C360.1,247.4 363.0,248.6 365.2,249.2 C367.5,249.8 369.4,249.4 371.5,249.7 C373.6,250.0 375.7,250.3 377.8,250.8 C379.9,251.2 382.2,251.5 384.2,252.3 C386.1,253.1 387.7,254.3 389.4,255.5 C391.2,256.7 392.9,258.5 394.7,259.7 C396.4,260.9 398.2,261.7 399.9,262.8 C401.7,264.0 403.4,265.3 405.2,266.5 C406.9,267.8 408.7,269.2 410.4,270.2 C412.2,271.3 413.8,272.0 415.7,272.8 C417.6,273.6 422.0,274.9 422.0,274.9 C422.0,274.9 422.0,291.2 422.0,291.2 C422.0,291.2 385.2,291.2 385.2,291.2 C385.2,291.2 384.5,287.9 384.2,286.0 C383.8,284.0 383.8,281.6 383.1,279.7 C382.4,277.7 381.3,275.7 379.9,274.4 C378.5,273.1 376.3,272.7 374.7,271.8 C373.1,270.9 371.9,270.3 370.5,269.2 C369.1,268.0 367.5,266.5 366.3,264.9 C365.1,263.4 364.5,261.3 363.1,259.7 C361.7,258.1 360.0,256.5 357.9,255.5 C355.8,254.4 353.8,254.1 350.5,253.4 C347.2,252.7 337.9,251.3 337.9,251.3 C337.9,251.3 337.9,226.1 337.9,226.1Z"/>
<path fill="#2882f0" clip-path="url(#k7)" d="M456.5,247.1 C457.0,246.1 459.1,245.2 460.7,245.0 C462.3,244.7 464.6,244.8 466.0,245.5 C467.4,246.2 469.0,248.0 469.1,249.2 C469.3,250.3 468.3,251.8 467.0,252.3 C465.8,252.9 463.3,252.6 461.8,252.3 C460.2,252.1 458.4,251.6 457.6,250.8 C456.7,249.9 456.0,248.0 456.5,247.1Z"/>
<path fill="#2882f0" clip-path="url(#k8)" d="M456.5,247.1 C457.0,246.1 459.1,245.2 460.7,245.0 C462.3,244.7 464.6,244.8 466.0,245.5 C467.4,246.2 469.0,248.0 469.1,249.2 C469.3,250.3 468.3,251.8 467.0,252.3 C465.8,252.9 463.3,252.6 461.8,252.3 C460.2,252.1 458.4,251.6 457.6,250.8 C456.7,249.9 456.0,248.0 456.5,247.1Z"/>
<path fill="#2882f0" clip-path="url(#k7)" d="M452.3,252.3 C452.7,251.6 454.6,250.9 455.5,251.3 C456.3,251.6 457.6,253.6 457.6,254.4 C457.6,255.2 456.2,255.8 455.5,256.0 C454.7,256.2 453.4,256.1 452.8,255.5 C452.3,254.9 451.9,253.0 452.3,252.3Z"/>
<path fill="#2882f0" clip-path="url(#k8)" d="M452.3,252.3 C452.7,251.6 454.6,250.9 455.5,251.3 C456.3,251.6 457.6,253.6 457.6,254.4 C457.6,255.2 456.2,255.8 455.5,256.0 C454.7,256.2 453.4,256.1 452.8,255.5 C452.3,254.9 451.9,253.0 452.3,252.3Z"/>
<path fill="#2882f0" clip-path="url(#k6)" d="M392.3,252.3 C392.3,252.3 411.5,252.3 411.5,252.3 C411.5,252.3 412.5,259.4 412.9,263.2 C413.2,267.1 413.0,272.3 413.6,275.6 C414.1,278.9 414.7,281.2 416.3,283.2 C417.9,285.2 421.0,286.3 423.2,287.7 C425.4,289.2 427.3,290.4 429.4,291.8 C431.4,293.3 433.5,295.8 435.5,296.2 C437.6,296.6 439.6,295.4 441.5,294.2 C443.4,293.0 445.4,290.8 447.0,289.1 C448.6,287.4 449.7,284.9 451.1,284.1 C452.5,283.4 453.8,284.5 455.5,284.6 C457.1,284.6 459.4,284.0 461.0,284.6 C462.6,285.1 464.6,286.5 465.1,288.0 C465.6,289.5 464.4,291.4 463.7,293.5 C463.0,295.5 461.9,298.1 461.0,300.4 C460.1,302.7 459.4,305.2 458.2,307.2 C457.1,309.3 455.7,310.9 454.1,312.7 C452.5,314.6 450.7,316.9 448.6,318.2 C446.5,319.6 444.0,320.2 441.7,321.0 C439.4,321.8 437.2,322.7 434.9,323.0 C432.6,323.4 430.1,323.5 428.0,323.0 C425.9,322.6 424.1,321.6 422.5,320.3 C420.9,319.0 419.5,317.2 418.4,315.5 C417.2,313.8 416.3,312.3 415.6,310.0 C414.9,307.7 414.6,304.5 414.2,301.7 C413.9,299.0 414.5,295.0 413.6,293.5 C412.6,291.9 410.5,292.1 408.7,292.4 C407.0,292.7 405.1,294.5 403.2,295.1 C401.4,295.8 399.6,296.1 397.7,296.5 C395.9,296.9 392.3,297.3 392.3,297.3 C392.3,297.3 392.3,252.3 392.3,252.3Z"/>
<path fill="#2882f0" clip-path="url(#k6)" d="M450.0,275.6 C450.4,274.5 452.5,273.8 454.1,274.2 C455.7,274.7 458.0,277.0 459.6,278.4 C461.2,279.7 463.3,281.2 463.7,282.5 C464.2,283.8 463.5,285.5 462.4,285.9 C461.2,286.4 458.7,286.0 456.9,285.2 C455.0,284.4 452.5,282.7 451.4,281.1 C450.2,279.5 449.5,276.8 450.0,275.6Z"/>
<path fill="#1464d2" d="M478.7,360.1 C478.8,358.4 479.7,357.7 480.9,356.7 C482.2,355.7 484.4,354.7 486.0,353.9 C487.6,353.0 489.2,352.3 490.6,351.6 C491.9,350.9 493.6,349.4 494.0,349.9 C494.3,350.4 493.2,352.5 492.8,354.4 C492.5,356.3 492.3,359.3 491.7,361.2 C491.1,363.1 490.6,364.6 489.4,365.8 C488.3,366.9 486.4,367.8 484.9,368.0 C483.4,368.2 481.4,368.2 480.4,366.9 C479.3,365.6 478.6,361.8 478.7,360.1Z"/>
<path fill="#1464d2" clip-path="url(#k3)" d="M334.2,237.0 C334.2,237.0 339.6,237.6 341.8,238.9 C343.9,240.1 346.1,242.6 347.4,244.5 C348.6,246.4 349.6,248.6 349.2,250.1 C348.9,251.7 348.0,253.4 345.5,253.9 C343.0,254.3 334.2,252.9 334.2,252.9 C334.2,252.9 334.2,237.0 334.2,237.0Z"/>
<path fill="#1464d2" clip-path="url(#k3)" d="M356.8,252.0 C358.3,251.5 363.0,253.9 366.1,254.8 C369.2,255.8 372.7,256.7 375.5,257.6 C378.3,258.6 380.5,259.2 383.0,260.4 C385.5,261.7 387.7,263.6 390.5,265.1 C393.3,266.7 397.1,268.2 399.9,269.8 C402.7,271.4 405.2,273.1 407.4,274.5 C409.6,275.9 411.1,276.4 413.0,278.2 C414.9,280.1 417.1,283.6 418.6,285.8 C420.2,287.9 420.8,289.2 422.4,291.4 C423.9,293.6 425.8,297.0 428.0,298.9 C430.2,300.8 433.0,302.3 435.5,302.6 C438.0,302.9 440.5,301.8 443.0,300.8 C445.5,299.7 448.0,297.3 450.5,296.1 C453.0,294.8 455.2,293.6 458.0,293.2 C460.8,292.9 466.1,292.9 467.4,294.2 C468.6,295.4 467.1,298.4 465.5,300.8 C463.9,303.1 460.5,306.4 458.0,308.2 C455.5,310.1 453.3,311.1 450.5,312.0 C447.7,312.9 444.2,313.6 441.1,313.9 C438.0,314.2 434.2,314.3 431.8,313.9 C429.2,313.4 427.7,312.5 426.1,311.1 C424.6,309.7 423.6,307.5 422.4,305.4 C421.1,303.4 420.2,300.6 418.6,298.9 C417.1,297.2 415.2,296.4 413.0,295.1 C410.8,293.9 408.3,292.6 405.5,291.4 C402.7,290.1 398.9,289.2 396.1,287.6 C393.3,286.1 390.8,283.7 388.6,282.0 C386.4,280.3 385.2,278.9 383.0,277.3 C380.8,275.8 378.0,274.2 375.5,272.6 C373.0,271.1 370.5,269.5 368.0,267.9 C365.5,266.4 362.4,265.0 360.5,263.2 C358.6,261.5 357.4,259.5 356.8,257.6 C356.1,255.8 355.2,252.5 356.8,252.0Z"/>
<path fill="#1464d2" clip-path="url(#k4)" d="M337.9,237.6 C337.9,237.6 340.5,238.9 342.1,239.7 C343.7,240.5 345.8,241.3 347.4,242.3 C348.9,243.4 350.2,244.7 351.6,246.0 C353.0,247.3 354.2,249.3 355.8,250.2 C357.3,251.2 358.7,251.6 361.0,251.8 C363.3,252.0 367.0,251.0 369.4,251.3 C371.9,251.5 373.6,252.9 375.7,253.4 C377.8,253.9 380.1,253.7 382.0,254.4 C384.0,255.1 385.6,256.4 387.3,257.6 C389.1,258.8 390.6,260.6 392.6,261.8 C394.5,263.0 396.8,263.7 398.9,264.9 C401.0,266.2 403.3,267.9 405.2,269.2 C407.1,270.4 408.7,271.3 410.4,272.3 C412.2,273.4 413.8,274.6 415.7,275.5 C417.6,276.3 422.0,277.6 422.0,277.6 C422.0,277.6 422.0,291.2 422.0,291.2 C422.0,291.2 386.3,291.2 386.3,291.2 C386.3,291.2 385.7,287.9 385.2,286.0 C384.7,284.0 384.0,281.4 383.1,279.7 C382.2,277.9 381.3,276.7 379.9,275.5 C378.5,274.2 376.3,273.5 374.7,272.3 C373.1,271.1 371.9,269.5 370.5,268.1 C369.1,266.7 367.9,265.5 366.3,263.9 C364.7,262.3 362.8,260.0 361.0,258.6 C359.3,257.2 357.5,256.5 355.8,255.5 C354.0,254.4 352.4,253.0 350.5,252.3 C348.6,251.6 346.3,251.5 344.2,251.3 C342.1,251.0 337.9,250.8 337.9,250.8 C337.9,250.8 337.9,237.6 337.9,237.6Z"/>
<path fill="#1464d2" clip-path="url(#k5)" d="M337.9,237.6 C337.9,237.6 340.5,238.9 342.1,239.7 C343.7,240.5 345.8,241.3 347.4,242.3 C348.9,243.4 350.2,244.7 351.6,246.0 C353.0,247.3 354.2,249.3 355.8,250.2 C357.3,251.2 358.7,251.6 361.0,251.8 C363.3,252.0 367.0,251.0 369.4,251.3 C371.9,251.5 373.6,252.9 375.7,253.4 C377.8,253.9 380.1,253.7 382.0,254.4 C384.0,255.1 385.6,256.4 387.3,257.6 C389.1,258.8 390.6,260.6 392.6,261.8 C394.5,263.0 396.8,263.7 398.9,264.9 C401.0,266.2 403.3,267.9 405.2,269.2 C407.1,270.4 408.7,271.3 410.4,272.3 C412.2,273.4 413.8,274.6 415.7,275.5 C417.6,276.3 422.0,277.6 422.0,277.6 C422.0,277.6 422.0,291.2 422.0,291.2 C422.0,291.2 386.3,291.2 386.3,291.2 C386.3,291.2 385.7,287.9 385.2,286.0 C384.7,284.0 384.0,281.4 383.1,279.7 C382.2,277.9 381.3,276.7 379.9,275.5 C378.5,274.2 376.3,273.5 374.7,272.3 C373.1,271.1 371.9,269.5 370.5,268.1 C369.1,266.7 367.9,265.5 366.3,263.9 C364.7,262.3 362.8,260.0 361.0,258.6 C359.3,257.2 357.5,256.5 355.8,255.5 C354.0,254.4 352.4,253.0 350.5,252.3 C348.6,251.6 346.3,251.5 344.2,251.3 C342.1,251.0 337.9,250.8 337.9,250.8 C337.9,250.8 337.9,237.6 337.9,237.6Z"/>
<path fill="#1464d2" clip-path="url(#k6)" d="M392.3,252.3 C392.3,252.3 410.1,252.3 410.1,252.3 C410.1,252.3 411.2,259.4 411.5,263.2 C411.8,267.1 412.2,272.2 412.2,275.6 C412.2,279.1 412.1,281.8 411.5,283.9 C410.9,285.9 410.1,286.7 408.7,288.0 C407.4,289.2 405.1,290.4 403.2,291.4 C401.4,292.5 399.6,293.6 397.7,294.2 C395.9,294.7 392.3,294.9 392.3,294.9 C392.3,294.9 392.3,252.3 392.3,252.3Z"/>
<path fill="#1464d2" clip-path="url(#k6)" d="M417.0,290.7 C417.7,289.4 420.4,291.4 422.5,292.1 C424.6,292.8 427.1,293.7 429.4,294.9 C431.7,296.0 434.2,298.8 436.2,299.0 C438.3,299.2 439.9,297.4 441.7,296.2 C443.6,295.1 445.4,293.5 447.2,292.1 C449.1,290.7 450.9,288.7 452.7,288.0 C454.6,287.3 456.6,287.5 458.2,288.0 C459.8,288.4 462.1,289.4 462.4,290.7 C462.6,292.1 460.5,294.4 459.6,296.2 C458.7,298.1 458.0,299.9 456.9,301.7 C455.7,303.6 454.3,305.4 452.7,307.2 C451.1,309.1 449.3,311.1 447.2,312.7 C445.2,314.3 442.7,315.9 440.4,316.9 C438.1,317.8 435.8,318.2 433.5,318.2 C431.2,318.2 428.4,317.8 426.6,316.9 C424.8,315.9 423.6,314.3 422.5,312.7 C421.3,311.1 420.4,309.3 419.7,307.2 C419.1,305.2 418.8,303.1 418.4,300.4 C417.9,297.6 416.3,292.1 417.0,290.7Z"/>
<path fill="#7864d2" clip-path="url(#k3)" d="M374.6,259.5 C375.2,258.1 377.7,257.3 379.2,257.6 C380.8,257.9 383.2,259.8 383.9,261.4 C384.7,262.9 384.7,265.8 383.9,267.0 C383.2,268.2 380.7,269.0 379.2,268.9 C377.8,268.7 376.3,267.6 375.5,266.1 C374.7,264.5 373.9,260.9 374.6,259.5Z"/>
<path fill="#7864d2" clip-path="url(#k3)" d="M390.5,270.8 C391.6,269.2 393.9,268.1 396.1,267.9 C398.3,267.8 401.9,268.4 403.6,269.8 C405.3,271.2 406.3,274.0 406.4,276.4 C406.6,278.7 406.0,282.2 404.6,283.9 C403.2,285.6 400.2,286.7 398.0,286.7 C395.8,286.7 392.8,285.4 391.4,283.9 C390.0,282.3 389.7,279.5 389.6,277.3 C389.4,275.1 389.4,272.3 390.5,270.8Z"/>
<path fill="#7864d2" clip-path="url(#k3)" d="M424.2,310.1 C424.6,308.9 428.0,308.1 429.9,308.2 C431.8,308.4 433.3,310.8 435.5,311.1 C437.7,311.4 440.8,310.9 443.0,310.1 C445.2,309.3 447.4,308.2 448.6,306.4 C449.9,304.5 449.6,300.8 450.5,298.9 C451.4,297.0 453.0,295.4 454.2,295.1 C455.5,294.8 457.4,295.4 458.0,297.0 C458.6,298.6 458.6,302.0 458.0,304.5 C457.4,307.0 456.1,310.1 454.2,312.0 C452.4,313.9 449.6,314.8 446.8,315.8 C443.9,316.7 440.5,317.6 437.4,317.6 C434.2,317.6 430.2,317.0 428.0,315.8 C425.8,314.5 423.9,311.4 424.2,310.1Z"/>
<path fill="#7864d2" clip-path="url(#k4)" d="M375.2,260.7 C375.9,259.8 377.7,258.6 378.9,258.6 C380.1,258.6 381.8,259.7 382.6,260.7 C383.4,261.8 383.9,263.7 383.6,264.9 C383.4,266.2 382.1,267.7 381.0,268.1 C379.9,268.5 377.8,268.2 376.8,267.6 C375.8,267.0 375.2,265.6 374.9,264.4 C374.6,263.3 374.6,261.7 375.2,260.7Z"/>
<path fill="#7864d2" clip-path="url(#k5)" d="M375.2,260.7 C375.9,259.8 377.7,258.6 378.9,258.6 C380.1,258.6 381.8,259.7 382.6,260.7 C383.4,261.8 383.9,263.7 383.6,264.9 C383.4,266.2 382.1,267.7 381.0,268.1 C379.9,268.5 377.8,268.2 376.8,267.6 C375.8,267.0 375.2,265.6 374.9,264.4 C374.6,263.3 374.6,261.7 375.2,260.7Z"/>
<path fill="#7864d2" clip-path="url(#k4)" d="M390.5,274.4 C391.2,272.9 392.9,271.4 394.7,270.7 C396.4,270.0 399.2,269.8 401.0,270.2 C402.7,270.6 404.4,271.8 405.2,273.4 C406.0,274.9 406.1,277.7 405.7,279.7 C405.4,281.6 404.4,283.8 403.1,284.9 C401.8,286.1 399.6,286.5 397.8,286.5 C396.1,286.5 393.8,286.1 392.6,284.9 C391.3,283.8 390.6,281.4 390.2,279.7 C389.9,277.9 389.7,275.9 390.5,274.4Z"/>
<path fill="#7864d2" clip-path="url(#k5)" d="M390.5,274.4 C391.2,272.9 392.9,271.4 394.7,270.7 C396.4,270.0 399.2,269.8 401.0,270.2 C402.7,270.6 404.4,271.8 405.2,273.4 C406.0,274.9 406.1,277.7 405.7,279.7 C405.4,281.6 404.4,283.8 403.1,284.9 C401.8,286.1 399.6,286.5 397.8,286.5 C396.1,286.5 393.8,286.1 392.6,284.9 C391.3,283.8 390.6,281.4 390.2,279.7 C389.9,277.9 389.7,275.9 390.5,274.4Z"/>
<path fill="#7864d2" clip-path="url(#k6)" d="M392.3,267.4 C392.3,267.4 398.3,267.8 400.5,268.7 C402.7,269.7 404.4,271.0 405.3,272.9 C406.2,274.7 406.3,277.7 406.0,279.7 C405.7,281.8 404.6,284.1 403.2,285.2 C401.9,286.4 399.6,286.5 397.7,286.6 C395.9,286.7 392.3,285.9 392.3,285.9 C392.3,285.9 392.3,267.4 392.3,267.4Z"/>
<path fill="#7864d2" clip-path="url(#k6)" d="M422.5,311.4 C422.8,310.0 424.8,307.5 426.6,307.2 C428.4,307.0 431.4,309.8 433.5,310.0 C435.5,310.2 437.2,309.3 439.0,308.6 C440.8,307.9 443.1,307.2 444.5,305.9 C445.9,304.5 446.5,302.0 447.2,300.4 C447.9,298.8 447.9,297.3 448.6,296.2 C449.3,295.2 450.4,294.2 451.4,294.2 C452.3,294.2 453.4,294.7 454.1,296.2 C454.8,297.7 455.5,300.8 455.5,303.1 C455.5,305.4 455.0,308.2 454.1,310.0 C453.2,311.8 451.8,313.0 450.0,314.1 C448.2,315.3 445.4,316.3 443.1,316.9 C440.8,317.4 438.5,317.5 436.2,317.5 C433.9,317.5 431.3,317.2 429.4,316.9 C427.4,316.5 425.7,316.4 424.6,315.5 C423.4,314.6 422.1,312.7 422.5,311.4Z"/>
<path fill="#a05ac8" clip-path="url(#k3)" d="M426.1,312.0 C426.4,311.4 429.6,310.9 431.8,311.1 C433.9,311.2 436.9,313.1 439.2,312.9 C441.6,312.8 444.1,311.5 445.8,310.1 C447.5,308.7 448.5,306.1 449.6,304.5 C450.7,302.9 451.4,301.1 452.4,300.8 C453.3,300.4 455.0,301.1 455.2,302.6 C455.3,304.2 454.7,308.2 453.3,310.1 C451.9,312.0 449.4,313.0 446.8,313.9 C444.1,314.8 440.2,315.2 437.4,315.4 C434.6,315.5 431.8,315.4 429.9,314.8 C428.0,314.2 425.8,312.6 426.1,312.0Z"/>
<path fill="#a05ac8" clip-path="url(#k6)" d="M428.0,312.7 C428.7,312.1 431.4,311.8 433.5,311.4 C435.5,310.9 438.3,310.7 440.4,310.0 C442.4,309.3 444.3,308.6 445.9,307.2 C447.5,305.9 448.8,302.9 450.0,301.7 C451.1,300.6 452.2,299.7 452.7,300.4 C453.3,301.0 453.9,304.0 453.4,305.9 C453.0,307.7 451.7,310.0 450.0,311.4 C448.3,312.7 445.6,313.4 443.1,314.1 C440.6,314.8 437.2,315.3 434.9,315.5 C432.6,315.7 430.5,315.7 429.4,315.2 C428.2,314.7 427.3,313.4 428.0,312.7Z"/>
<path fill="#78f573" clip-path="url(#k4)" d="M382.0,239.7 C382.4,238.3 385.6,237.8 387.3,237.6 C389.1,237.4 391.0,237.8 392.6,238.7 C394.1,239.5 395.4,241.1 396.8,242.9 C398.2,244.6 399.9,247.3 401.0,249.2 C402.0,251.1 403.1,253.2 403.1,254.4 C403.1,255.7 402.2,256.5 401.0,256.5 C399.7,256.5 397.5,255.5 395.7,254.4 C394.0,253.4 392.2,251.6 390.5,250.2 C388.7,248.8 386.6,247.8 385.2,246.0 C383.8,244.3 381.7,241.1 382.0,239.7Z"/>
<path fill="#78f573" clip-path="url(#k5)" d="M382.0,239.7 C382.4,238.3 385.6,237.8 387.3,237.6 C389.1,237.4 391.0,237.8 392.6,238.7 C394.1,239.5 395.4,241.1 396.8,242.9 C398.2,244.6 399.9,247.3 401.0,249.2 C402.0,251.1 403.1,253.2 403.1,254.4 C403.1,255.7 402.2,256.5 401.0,256.5 C399.7,256.5 397.5,255.5 395.7,254.4 C394.0,253.4 392.2,251.6 390.5,250.2 C388.7,248.8 386.6,247.8 385.2,246.0 C383.8,244.3 381.7,241.1 382.0,239.7Z"/>
<path fill="#78f573" clip-path="url(#k6)" d="M426.6,263.2 C427.3,262.3 430.5,262.3 432.1,263.2 C433.7,264.2 435.1,266.7 436.2,268.7 C437.4,270.8 438.3,273.3 439.0,275.6 C439.7,277.9 440.5,280.5 440.4,282.5 C440.2,284.4 439.0,286.4 438.3,287.3 C437.6,288.2 436.9,288.3 436.2,288.0 C435.5,287.6 434.6,286.6 434.2,285.2 C433.7,283.9 434.1,281.8 433.5,279.7 C432.9,277.7 431.7,274.7 430.7,272.9 C429.8,271.0 428.7,270.3 428.0,268.7 C427.3,267.1 425.9,264.2 426.6,263.2Z"/>
<path fill="#37d23c" clip-path="url(#k6)" d="M417.0,252.3 C417.0,252.3 437.6,252.3 437.6,252.3 C437.6,252.3 439.4,257.7 440.4,260.5 C441.3,263.2 442.5,266.2 443.1,268.7 C443.7,271.3 443.9,273.3 443.8,275.6 C443.7,277.9 443.1,280.5 442.4,282.5 C441.7,284.4 440.6,286.0 439.7,287.3 C438.8,288.6 437.7,289.7 436.9,290.1 C436.1,290.4 435.8,290.1 434.9,289.4 C433.9,288.7 432.8,287.1 431.4,285.9 C430.1,284.8 428.3,283.5 426.6,282.5 C424.9,281.5 422.5,280.9 421.1,279.7 C419.7,278.6 418.8,277.5 418.4,275.6 C417.9,273.8 418.6,271.3 418.4,268.7 C418.2,266.2 417.5,263.2 417.3,260.5 C417.0,257.7 417.0,252.3 417.0,252.3Z"/>
<path fill="#0fa00f" clip-path="url(#k6)" d="M459.6,266.0 C460.5,264.6 463.5,262.8 466.5,261.9 C469.5,261.0 477.5,260.5 477.5,260.5 C477.5,260.5 477.5,281.1 477.5,281.1 C477.5,281.1 471.5,280.7 469.2,279.7 C466.9,278.8 465.1,277.2 463.7,275.6 C462.4,274.0 461.7,271.7 461.0,270.1 C460.3,268.5 458.7,267.4 459.6,266.0Z"/>
<path fill="#ffffff" clip-path="url(#k3)" d="M366.1,227.6 C366.9,226.4 369.7,224.2 371.8,223.9 C373.8,223.6 377.4,224.5 378.3,225.8 C379.2,227.0 378.5,230.1 377.4,231.4 C376.3,232.6 373.5,233.2 371.8,233.2 C370.0,233.2 368.0,232.3 367.1,231.4 C366.1,230.4 365.3,228.9 366.1,227.6Z"/>
<path fill="#ffffff" clip-path="url(#k3)" d="M334.2,266.1 C334.2,266.1 338.0,266.8 339.9,267.9 C341.8,269.0 343.6,270.9 345.5,272.6 C347.4,274.3 348.9,276.7 351.1,278.2 C353.3,279.8 356.1,281.1 358.6,282.0 C361.1,282.9 363.6,282.9 366.1,283.9 C368.6,284.8 371.4,286.1 373.6,287.6 C375.8,289.2 377.7,291.7 379.2,293.2 C380.8,294.8 381.8,295.8 383.0,297.0 C384.2,298.2 385.2,299.8 386.8,300.8 C388.3,301.7 390.5,302.0 392.4,302.6 C394.2,303.2 396.1,303.6 398.0,304.5 C399.9,305.4 402.1,307.3 403.6,308.2 C405.2,309.2 406.4,308.2 407.4,310.1 C408.3,312.0 408.8,316.7 409.2,319.5 C409.7,322.3 409.6,324.5 410.2,327.0 C410.8,329.5 412.2,332.3 413.0,334.5 C413.8,336.7 414.9,340.1 414.9,340.1 C414.9,340.1 334.2,340.1 334.2,340.1 C334.2,340.1 334.2,266.1 334.2,266.1Z"/>
<path fill="#ffffff" clip-path="url(#k3)" d="M454.2,340.1 C454.2,340.1 457.7,333.6 459.9,330.8 C462.1,327.9 464.6,325.8 467.4,323.2 C470.2,320.8 473.3,317.6 476.8,315.8 C480.2,313.9 485.5,312.6 488.0,312.0 C490.5,311.4 491.8,312.0 491.8,312.0 C491.8,312.0 491.8,340.1 491.8,340.1 C491.8,340.1 454.2,340.1 454.2,340.1Z"/>
<path fill="#ffffff" clip-path="url(#k4)" d="M366.3,227.1 C366.6,225.7 369.4,222.9 369.4,222.9 C369.4,222.9 375.7,222.9 375.7,222.9 C375.7,222.9 375.4,227.6 374.7,229.2 C374.0,230.8 372.8,232.0 371.5,232.4 C370.3,232.7 368.2,232.2 367.3,231.3 C366.5,230.4 365.9,228.5 366.3,227.1Z"/>
<path fill="#ffffff" clip-path="url(#k5)" d="M366.3,227.1 C366.6,225.7 369.4,222.9 369.4,222.9 C369.4,222.9 375.7,222.9 375.7,222.9 C375.7,222.9 375.4,227.6 374.7,229.2 C374.0,230.8 372.8,232.0 371.5,232.4 C370.3,232.7 368.2,232.2 367.3,231.3 C366.5,230.4 365.9,228.5 366.3,227.1Z"/>
<path fill="#ffffff" clip-path="url(#k4)" d="M337.9,269.2 C337.9,269.2 340.9,268.6 342.1,269.2 C343.3,269.7 344.4,270.6 345.3,272.3 C346.1,274.1 347.2,277.4 347.4,279.7 C347.5,281.9 346.1,284.0 346.3,286.0 C346.5,287.9 348.4,291.2 348.4,291.2 C348.4,291.2 337.9,291.2 337.9,291.2 C337.9,291.2 337.9,269.2 337.9,269.2Z"/>
<path fill="#ffffff" clip-path="url(#k5)" d="M337.9,269.2 C337.9,269.2 340.9,268.6 342.1,269.2 C343.3,269.7 344.4,270.6 345.3,272.3 C346.1,274.1 347.2,277.4 347.4,279.7 C347.5,281.9 346.1,284.0 346.3,286.0 C346.5,287.9 348.4,291.2 348.4,291.2 C348.4,291.2 337.9,291.2 337.9,291.2 C337.9,291.2 337.9,269.2 337.9,269.2Z"/>
<path fill="#ffffff" d="M336.0,269.0 C337.5,262.0 343.2,268.8 345.0,270.0 C346.8,271.2 346.2,273.8 347.0,276.0 C347.8,278.2 348.7,281.2 350.0,283.0 C351.3,284.8 353.3,286.0 355.0,287.0 C356.7,288.0 358.2,288.3 360.0,289.0 C361.8,289.7 364.3,291.0 366.0,291.0 C367.7,291.0 368.7,289.7 370.0,289.0 C371.3,288.3 372.7,286.8 374.0,287.0 C375.3,287.2 377.2,288.5 378.0,290.0 C378.8,291.5 378.7,294.0 379.0,296.0 C379.3,298.0 379.5,300.0 380.0,302.0 C380.5,304.0 381.3,306.3 382.0,308.0 C382.7,309.7 391.7,311.3 384.0,312.0 C376.3,312.7 344.0,319.2 336.0,312.0 C328.0,304.8 334.5,276.0 336.0,269.0Z"/>
<path fill="#ffffff" clip-path="url(#k6)" d="M392.3,307.2 C392.3,307.2 398.2,305.6 400.5,305.9 C402.8,306.1 404.4,307.0 406.0,308.6 C407.6,310.2 409.2,313.0 410.1,315.5 C411.0,318.0 410.8,321.0 411.5,323.7 C412.2,326.5 413.6,329.7 414.2,332.0 C414.9,334.3 415.2,335.9 415.6,337.5 C416.1,339.1 417.0,341.6 417.0,341.6 C417.0,341.6 392.3,341.6 392.3,341.6 C392.3,341.6 392.3,307.2 392.3,307.2Z"/>
<path fill="#ffffff" clip-path="url(#k6)" d="M418.4,341.6 C418.4,341.6 419.5,338.4 421.1,337.5 C422.7,336.6 425.5,336.3 428.0,336.1 C430.5,335.9 433.5,336.3 436.2,336.1 C439.0,335.9 441.7,335.4 444.5,334.7 C447.2,334.0 450.4,333.1 452.7,332.0 C455.0,330.8 456.4,329.2 458.2,327.9 C460.1,326.5 461.9,325.1 463.7,323.7 C465.6,322.4 467.3,321.0 469.2,319.6 C471.1,318.2 473.6,316.2 475.0,315.5 C476.4,314.8 477.5,315.5 477.5,315.5 C477.5,315.5 477.5,341.6 477.5,341.6 C477.5,341.6 418.4,341.6 418.4,341.6Z"/>
<path fill="#ffffff" d="M469.0,297.0 C470.3,296.0 474.6,299.2 477.4,298.8 C480.2,298.4 483.3,295.7 486.0,294.4 C488.7,293.1 491.1,291.9 493.4,290.8 C495.7,289.7 497.9,288.6 500.0,288.0 C502.1,287.4 505.0,281.3 506.0,287.0 C507.0,292.7 512.8,316.2 506.0,322.0 C499.2,327.8 471.8,323.3 465.0,322.0 C458.2,320.7 464.3,316.8 465.0,314.0 C465.7,311.2 468.7,307.8 469.4,305.0 C470.1,302.2 467.7,298.0 469.0,297.0Z"/>
<clipPath id="k9"><rect x="383" y="243" width="45" height="55"/></clipPath>
<path fill="#37d23c" clip-path="url(#k9)" d="M377.9,232.9 C377.9,232.9 432.6,232.9 432.6,232.9 C432.6,232.9 432.6,302.4 432.6,302.4 C432.6,302.4 377.9,302.4 377.9,302.4 C377.9,302.4 377.9,232.9 377.9,232.9Z"/>
<path fill="#0fa00f" clip-path="url(#k9)" d="M377.9,243.4 C377.9,243.4 382.5,243.7 384.2,243.9 C386.0,244.2 387.0,244.1 388.4,245.0 C389.8,245.9 391.2,247.8 392.6,249.2 C394.0,250.6 395.3,252.2 396.8,253.4 C398.4,254.6 400.4,255.7 402.1,256.6 C403.9,257.5 405.8,257.8 407.4,258.7 C408.9,259.6 410.3,260.7 411.6,261.8 C412.9,263.0 414.3,264.1 415.3,265.5 C416.2,266.9 416.8,268.8 417.4,270.3 C418.0,271.8 418.5,273.4 418.9,274.5 C419.4,275.5 419.1,276.1 420.0,276.6 C420.9,277.0 422.1,276.8 424.2,277.1 C426.3,277.4 432.6,278.2 432.6,278.2 C432.6,278.2 432.6,302.4 432.6,302.4 C432.6,302.4 377.9,302.4 377.9,302.4 C377.9,302.4 377.9,243.4 377.9,243.4Z"/>
<path fill="#0fa00f" clip-path="url(#k9)" d="M421.1,239.2 C421.7,237.5 423.3,237.6 425.3,237.1 C427.2,236.6 432.6,236.1 432.6,236.1 C432.6,236.1 432.6,262.4 432.6,262.4 C432.6,262.4 427.9,262.4 426.3,261.3 C424.7,260.3 423.9,258.3 423.2,256.1 C422.4,253.8 421.9,250.4 421.6,247.6 C421.2,244.8 420.4,241.0 421.1,239.2Z"/>
<path fill="#96d2fa" clip-path="url(#k9)" d="M377.9,245.0 C377.9,245.0 381.6,245.3 383.2,245.5 C384.7,245.8 386.0,245.7 387.4,246.6 C388.8,247.5 390.2,249.4 391.6,250.8 C393.0,252.2 394.2,253.8 395.8,255.0 C397.4,256.2 399.3,257.3 401.1,258.2 C402.8,259.0 404.7,259.4 406.3,260.3 C407.9,261.1 409.3,262.4 410.5,263.4 C411.8,264.5 412.8,265.4 413.7,266.6 C414.6,267.8 415.2,269.4 415.8,270.8 C416.4,272.2 416.9,273.8 417.4,275.0 C417.8,276.2 418.7,276.9 418.4,278.2 C418.2,279.4 416.6,281.3 415.8,282.4 C415.0,283.4 414.5,283.6 413.7,284.5 C412.9,285.4 412.1,286.6 411.1,287.6 C410.0,288.7 408.7,289.6 407.4,290.8 C406.1,291.9 404.6,293.6 403.2,294.5 C401.8,295.4 400.5,295.4 398.9,296.1 C397.4,296.7 395.4,297.6 393.7,298.2 C391.9,298.7 390.0,299.6 388.4,299.2 C386.8,298.9 385.4,297.6 384.2,296.1 C383.0,294.5 382.1,291.5 381.1,289.7 C380.0,288.0 377.9,285.5 377.9,285.5 C377.9,285.5 377.9,245.0 377.9,245.0Z"/>
<path fill="#96d2fa" clip-path="url(#k9)" d="M411.6,302.4 C411.6,302.4 411.9,292.9 412.6,289.7 C413.3,286.6 414.6,285.0 415.8,283.4 C417.0,281.8 418.6,281.0 420.0,280.3 C421.4,279.6 422.1,279.3 424.2,279.2 C426.3,279.1 432.6,279.7 432.6,279.7 C432.6,279.7 432.6,302.4 432.6,302.4 C432.6,302.4 411.6,302.4 411.6,302.4Z"/>
<path fill="#50a5f5" clip-path="url(#k9)" d="M377.9,246.6 C377.9,246.6 382.1,246.7 384.2,247.6 C386.3,248.6 388.6,250.8 390.5,252.4 C392.5,253.9 394.0,255.8 395.8,257.1 C397.5,258.4 399.3,259.4 401.1,260.3 C402.8,261.1 404.7,261.5 406.3,262.4 C407.9,263.2 409.5,264.3 410.5,265.5 C411.6,266.8 412.1,268.3 412.6,269.7 C413.2,271.1 413.5,272.4 413.7,273.9 C413.9,275.5 414.0,277.7 413.7,279.2 C413.3,280.7 412.4,281.8 411.6,282.9 C410.8,284.0 409.9,285.0 408.9,286.1 C408.0,287.1 407.1,288.2 405.8,289.2 C404.5,290.2 402.7,291.1 401.1,291.8 C399.4,292.5 397.5,293.1 395.8,293.4 C394.0,293.8 392.1,294.4 390.5,293.9 C388.9,293.5 387.5,292.2 386.3,290.8 C385.1,289.4 384.6,286.9 383.2,285.5 C381.8,284.1 377.9,282.4 377.9,282.4 C377.9,282.4 377.9,246.6 377.9,246.6Z"/>
<path fill="#50a5f5" clip-path="url(#k9)" d="M414.7,302.4 C414.7,302.4 415.1,293.6 415.8,290.8 C416.5,288.0 417.7,286.9 418.9,285.5 C420.2,284.1 420.9,283.0 423.2,282.4 C425.4,281.8 432.6,281.8 432.6,281.8 C432.6,281.8 432.6,302.4 432.6,302.4 C432.6,302.4 414.7,302.4 414.7,302.4Z"/>
<path fill="#2882f0" clip-path="url(#k9)" d="M377.9,248.7 C377.9,248.7 382.3,249.7 384.2,250.8 C386.1,251.8 387.7,253.6 389.5,255.0 C391.2,256.4 393.0,258.0 394.7,259.2 C396.5,260.4 398.2,261.5 400.0,262.4 C401.8,263.2 403.7,263.6 405.3,264.5 C406.8,265.4 408.5,266.4 409.5,267.6 C410.4,268.9 410.7,270.3 411.1,271.8 C411.4,273.4 411.7,275.4 411.6,277.1 C411.5,278.9 411.1,281.1 410.5,282.4 C409.9,283.6 408.9,283.6 407.9,284.5 C406.9,285.4 406.1,286.8 404.7,287.6 C403.4,288.4 401.7,288.8 400.0,289.2 C398.3,289.6 396.5,290.2 394.7,290.3 C393.0,290.4 391.1,290.5 389.5,289.7 C387.9,288.9 386.5,287.1 385.3,285.5 C384.0,283.9 383.3,281.5 382.1,280.3 C380.9,279.0 377.9,278.2 377.9,278.2 C377.9,278.2 377.9,248.7 377.9,248.7Z"/>
<path fill="#2882f0" clip-path="url(#k9)" d="M416.8,302.4 C416.8,302.4 417.2,295.4 417.9,292.9 C418.6,290.4 419.8,289.0 421.1,287.6 C422.3,286.2 423.3,285.1 425.3,284.5 C427.2,283.9 432.6,283.9 432.6,283.9 C432.6,283.9 432.6,302.4 432.6,302.4 C432.6,302.4 416.8,302.4 416.8,302.4Z"/>
<path fill="#1464d2" clip-path="url(#k9)" d="M377.9,251.8 C377.9,251.8 382.5,252.9 384.2,253.9 C386.0,255.0 386.8,256.8 388.4,258.2 C390.0,259.6 391.9,261.1 393.7,262.4 C395.4,263.6 397.2,264.8 398.9,265.5 C400.7,266.2 402.6,265.9 404.2,266.6 C405.8,267.3 407.5,268.3 408.4,269.7 C409.3,271.1 409.4,273.2 409.5,275.0 C409.6,276.8 409.6,278.8 408.9,280.3 C408.3,281.8 406.9,282.9 405.8,283.9 C404.6,285.0 403.6,286.0 402.1,286.6 C400.6,287.2 398.6,287.5 396.8,287.6 C395.1,287.7 393.2,287.6 391.6,287.1 C390.0,286.6 388.6,285.8 387.4,284.5 C386.1,283.2 385.3,280.8 384.2,279.2 C383.2,277.6 382.1,276.1 381.1,275.0 C380.0,273.9 377.9,272.9 377.9,272.9 C377.9,272.9 377.9,251.8 377.9,251.8Z"/>
<path fill="#1464d2" clip-path="url(#k9)" d="M418.9,302.4 C418.9,302.4 419.3,296.1 420.0,293.9 C420.7,291.8 421.9,290.8 423.2,289.7 C424.4,288.7 425.8,288.1 427.4,287.6 C428.9,287.2 432.6,287.1 432.6,287.1 C432.6,287.1 432.6,302.4 432.6,302.4 C432.6,302.4 418.9,302.4 418.9,302.4Z"/>
<path fill="#7864d2" clip-path="url(#k9)" d="M390.5,271.8 C391.3,270.3 393.2,270.0 394.7,269.7 C396.3,269.5 398.4,269.9 400.0,270.3 C401.6,270.6 403.2,270.7 404.2,271.8 C405.2,273.0 405.7,275.4 405.8,277.1 C405.9,278.9 405.5,281.0 404.7,282.4 C403.9,283.8 402.5,284.8 401.1,285.5 C399.6,286.2 397.4,286.8 395.8,286.6 C394.2,286.4 392.5,285.7 391.6,284.5 C390.6,283.2 390.2,281.3 390.0,279.2 C389.8,277.1 389.7,273.4 390.5,271.8Z"/>
<path fill="#7864d2" clip-path="url(#k9)" d="M377.9,259.2 C377.9,259.2 381.1,259.4 382.1,260.3 C383.2,261.1 384.0,263.2 384.2,264.5 C384.4,265.7 384.2,266.9 383.2,267.6 C382.1,268.3 377.9,268.7 377.9,268.7 C377.9,268.7 377.9,259.2 377.9,259.2Z"/>
</g>
<path d="M184.5,81V545 M249.5,81V545 M314.5,81V545 M378.5,81V545 M443.5,81V545 M508.5,81V545 M573.5,81V545 M637.5,81V545 M120,119.5H657 M120,158.5H657 M120,197.5H657 M120,236.5H657 M120,274.5H657 M120,313.5H657 M120,352.5H657 M120,391.5H657 M120,430.5H657 M120,468.5H657 M120,507.5H657" stroke="#9a9a9a" stroke-width="1" stroke-dasharray="2 4.5" fill="none"/>
<g clip-path="url(#mc)" fill="none" stroke="#000" stroke-width="1.55" stroke-linejoin="round" stroke-linecap="round" shape-rendering="auto">
<path d="M119,81 L124,82 L128.5,86 L132.5,86 L137.5,80"/>
<path d="M118,159 L119,161 L123.1,168.3 L127.1,174 L131.2,174 L136,172.4 L139.3,174.8 L137.7,176.9 L131.2,176.4 L128,175.6 L128,179.6 L131.2,183.7 L139.3,191.8 L149,202.3 L157.1,208 L165.2,213.6 L174.9,217.7 L180.5,220.1 L181.3,224.1 L178.9,227.4 L180.5,232.2 L186.2,236.8 L194.3,235.5 L200.8,232.6 L208.9,232.2 L216,235 L223.5,238.7 L231,241 L241.5,242.5 L246,246.2 L250.5,251.5 L253.5,256 L259.5,259.7 L267,262.7 L271.5,265.7 L276,269.5 L279,274 L283.4,277.7 L288,278.5 L291.7,276.2"/>
<path d="M402.5,129.5 L396.7,125.6 L388.9,124.6 L384,127.5 L378.2,130 L374.3,130.8 L366.5,128.9 L362.6,125.6 L364.6,124.6 L364.6,120.7 L358.7,115.9 L351,112 L341.3,111 L333.5,108.7 L327.7,109.1 L325.7,113 L321.8,113 L317,110.6 L310.2,112 L303.4,114.5 L296.6,111 L290.8,109.5 L282,110.6 L275.2,108.1 L268.4,106.2 L264.6,107.5 L257.8,107.1 L252,103 L249,100.3 L244.1,98.4 L239.3,103.2 L231.5,103.2 L225.7,102.3 L220.8,100.9 L216,103.2 L210.1,111 L208.2,116.8 L205.3,119.2 L200.4,118.4 L195.6,114.9 L190.7,109.1 L183.9,102.3 L175.2,101.9 L170.3,104.2 L168.4,109.1 L167.8,120.7 L167,133.3 L171.3,137.2 L177.1,141.1 L182,142.1 L185.9,149.8 L189.8,154.7 L193.6,159.6 L195.6,169.3 L193.6,180.9 L200.4,181.9 L204.3,184.8 L208.2,190.6 L214,195.5 L223.7,198.8 L233.4,210.5 L243.2,222.1 L250.8,232 L257.8,234.7 L264,237.2 L266.2,241 L267,247 L270,253 L276,257.5 L285,263.5 L290.2,267.2 L292.1,272.5 L291.7,276.2"/>
<path d="M291.7,276.2 L295.9,279.6 L303.2,286.1 L310.5,292 L320.7,296.3 L325,298.2 L330.8,302.6 L335.9,302.6 L339.6,304.7 L342.5,306.9"/>
<path d="M402.5,129.5 L400.5,138.2 L394.7,146.9 L386.9,155.7 L386,163.4 L386,170 L390,175 L398.3,178.7 L408,184.6 L414.8,188.4 L417.7,192.3 L416.7,196.2 L411.8,199.1 L404.1,199.5 L396.3,197.2 L393.4,197.2 L394.4,201.1 L402.1,207.9 L408,210.8 L410.9,216.6 L409.9,225.3 L406,228.3 L398.3,231.2 L393.4,233.1"/>
<path d="M393.4,233.1 L389.5,232.5 L381.7,230.6 L376.9,232.1 L375,237 L378.8,239.9 L380.8,247.7 L382.7,253.5 L378.8,255.4 L375,251.6 L373,247.7 L367.2,246.7 L361.4,249.6 L357.5,255.4 L355.5,263.2 L354.6,271 L347.8,272.9 L343.9,280 L342.5,287.3 L345.4,293.1 L350.5,300.4 L348.3,304 L343.9,306.9 L342.5,309.1 L343.2,314.9 L345.4,318.6"/>
<path d="M378.2,130 L382,122.7 L385.5,113 L387.9,105.2 L391.8,102.3 L396.7,105.2 L402.5,106.2 L405.4,104.2 L404.4,101.3 L396.7,100.3 L390.8,98.4 L385,96.4 L378.2,89.7 L377.2,83.8 L379.1,80.9 L380,78"/>
<path d="M491,78 L493.7,80.9 L501.5,87.7 L509.3,93.5 L520,97.4 L531.7,101.3 L539.4,107.1 L537.5,113 L531.7,117.8 L535.5,120.7 L541.4,125.6 L539.4,128.5 L531.7,128.9 L530.7,133.3 L537.5,136.3 L545.2,138.2 L547.2,144 L556.9,146 L566.6,146.9 L572.4,150.8 L576.3,155.7 L581.2,159.6 L586,154.7 L591.8,147.9 L597.7,143 L601.6,140.1 L605.4,144 L611.3,148.9 L617.1,149.8 L621,153.7 L617.1,155.7 L609.3,154.7 L603.5,156.6 L601.6,161.5 L603.5,167.3 L609.3,173.1 L615.1,175.1 L613.2,180.9 L611.3,188.7 L603.5,193.5 L599.6,194.5 L596.7,201.7 L595.7,211.4 L597.7,221.1 L601.6,228.8 L605.4,236.6 L611.3,241.5 L619,244.4 L624.9,248.3 L630.7,256 L636.5,258.9 L636.5,263.8 L630.7,271.6 L624.9,277.4 L619,282.8 L609.3,283.2 L603.5,285.1 L600.6,289 L600.6,298.7 L601.1,306.8 L607.4,311.1 L607.4,319.5 L603.2,323.7 L595.8,325.8 L590.5,323.7 L582.1,325.8 L577.9,328.5 L571.6,327.9 L563.2,326.2 L558.9,329 L554.7,333.2 L548.4,332.1 L541,331.1 L535.1,333 L529.3,337.9 L528.3,342.7 L525.4,343.7 L521.6,340.8 L517.7,335.9 L514.8,335.9 L506,339.8 L498.3,344.7 L493.4,348.5 L492.4,356.3 L491.5,362.1 L484.7,362.1 L481.7,355.3"/>
<path d="M614,177 L624.9,183.8 L636.5,188.7 L639.4,192.6 L636.5,194.9 L628.7,198.7 L625.8,203.6 L628.7,208.4 L636.5,210.4 L646.2,209.4 L655.9,207.5 L660,207.5"/>
<path d="M595.8,325.8 L601.1,334.2 L607.4,340.5 L615.8,345.8 L624.2,349 L628.4,357.4 L632.6,365.8 L636.8,370 L636.8,374.2 L633.7,380.5 L632.6,389 L632.6,401.6 L641.1,403.7 L649.5,403.7 L654.7,398.4 L657.9,397.4 L660,397"/>
<path d="M632.6,401.6 L624.2,401.6 L621.1,404.7 L620,414.2 L611.6,417.4 L599.5,418.3 L588.5,415.5 L572,418.3 L566.5,423.8 L558.3,433.4 L547.3,437.5 L536.3,436.1 L522.5,438.9 L506,439.5"/>
<path d="M481.7,355.3 L478.8,362.1 L476.9,369.9 L475,379.6 L472,388.3 L475,393.2 L477.9,399 L475,404.9 L476,410 L481.3,418.3 L486.8,426.5 L490.9,436.1 L497.8,435.3 L506,437.5 L507.4,445.8 L511.5,456.8 L508.8,465 L500.5,470.5 L493.6,476 L489.5,484.3 L485.4,498 L473,500.8 L466.1,506.3 L463.4,511.8 L467.5,520 L462,524.1 L460.6,531 L453.8,533.8"/>
<path d="M469.5,286 L476.9,284.2 L475,279.3 L480.8,273.5 L486.6,267.7 L486.6,261.8 L482.7,258.9 L490.5,256 L496.3,254.1 L500.2,258.9 L506,261.8 L513.8,264.8 L517.7,266.7 L519.6,271.6 L523.5,275.4 L525.4,281.3 L527.8,283.2 L533.6,285.1 L534.6,292.9 L541.4,295.8 L549.1,297.8 L556.9,300.7 L557.9,303 L555.8,309 L552.6,313.2 L549.5,317.4 L548.4,323.7 L543.2,325.8 L542.5,330 L545,331.5"/>
<path d="M393.4,233.1 L398.3,237 L406,243.8 L411.8,251.6 L419.6,259.3 L429.3,263.2 L439,267.1 L448.7,271.9 L458.4,276.8 L466.2,282.6 L469.5,286"/>
<path d="M469.5,286 L464,287.6 L458.2,290.5 L450.4,292.4 L444.6,295.3 L441.7,297.3 L446.5,298.3 L448.4,302.1 L446.5,308 L442.6,310.9 L434.9,312.8 L429,314.8 L426.1,309.9 L426.1,302.1 L423.2,300.2 L419.6,304.7 L415.2,312 L409.4,319.3 L403.6,326.6 L397.8,335.3 L397,338.2 L403.6,343.3 L401.4,348.4 L400.7,355.7 L400.7,361.5 L402.1,363.7"/>
<path d="M448.4,302.1 L453.6,311.7 L455.5,317.5 L459.4,325.2 L469.1,328.2 L475.9,335 L478.8,342.7 L480.8,350.5 L481.7,355.3"/>
<path d="M300,290.5 L312,296.3 L322.1,302.1 L330.8,309.1 L336.6,312.8 L342.5,317.1 L346.8,320.8 L348.3,316.4 L354.1,314.9 L357.8,312.8 L362.8,314.9 L363.1,319.3 L358.5,320 L354.1,320.8 L350.5,322.2 L357,322.9 L359.9,326.6 L364.3,330.2 L368.7,330.2 L374.5,336 L380.3,339.7 L384.7,344 L387.6,349.9 L389,355.7 L396.3,359.3 L400.7,363 L402.1,363.7 L406.5,363 L412.3,364.4 L416.4,366.5 L416.4,373.3 L415.4,383 L410.6,385.9 L407.7,394.7 L407.3,404.4 L410.6,408.3 L408.6,418 L406.1,427.7 L411.6,433.5 L411.6,436.4 L406.7,439.3 L403.8,443.2 L401.2,450.7 L397.6,456.9 L402.1,461.4 L407.4,463.1 L409.2,470.2 L409.2,480 L406.5,481.8 L400.3,473.8 L397.6,474.7 L400.3,479.1 L406.5,488 L413.6,493.4 L422.5,496 L431.4,502.3 L436.8,509.4 L441.2,516.5 L442.1,530.7 L446.5,530.7 L453.8,533.8 L457.2,543.2 L457.5,548"/>
<path d="M295.4,280 L291,283 L282,280 L273,276.2 L264,273.2 L255,271 L249,271 L247.5,273 L249,274.7 L258,274.5 L267,277 L276,281.5 L285,286 L294,289 L300,290.5"/>
<path d="M420.7,547 L420.7,530.7 L419,527.2 L422.5,522.7 L433.2,521.9 L436.8,522.7 L438.5,527.2 L435,528.1 L432.3,530.7 L435,534.3 L437.7,537.9 L438.2,548"/>
<path d="M433.2,548 L432.3,541.4 L426.1,536.1 L420.7,530.7"/>
<path d="M118,351 L119.3,353.2 L123.6,356.9 L138,358.9 L155.3,358.1 L175.4,357.5 L186.9,355.5 L192.6,358.9 L196.9,366.1 L192.6,371.9 L181.1,379.1 L176.8,384.8 L178.3,392 L189.8,397.8 L207,406.4 L224.3,415 L241.5,420.8 L255.9,424.3 L267.4,431.5 L278.9,441.6 L293.3,447.3 L310.5,454.5 L316.3,463.1 L327.8,471.8 L335.3,477.4 L341.6,484.5 L344.2,491.6 L346.9,498.7 L342.5,504.1 L338.9,507.6 L338.9,514.7 L338,522.7 L327.8,519.2 L316.3,512 L313.4,503.4 L313.4,497.6 L307.6,486.1 L299,482.7 L281.8,483.3 L270.3,478.9 L263.1,474.6 L267.4,468.9 L253,466.6 L244.4,470.3 L235.8,483.3 L224.3,497.6 L222.8,506.3 L217.1,517.8 L215.6,526.4 L224.3,535 L235.8,537.9 L244.4,545.1 L246,548"/>
<path d="M118,490 L126.5,494.8 L138,503.4 L145.2,507.7 L149.5,503.4 L156.7,500.5 L162.4,504.8 L168.2,514.9 L171.1,529.3 L175.4,537.9 L179.7,546.5 L180,548"/>
<path d="M660,489 L657.3,488.4 L649,484.3 L638,477.4 L628.4,470.5 L629.8,465 L633.9,463.6 L633.9,458.1 L629.8,456.8 L627,459.5 L616,465 L610.5,467.8 L610.5,476 L607.8,487 L607.8,498 L610.5,506.3 L616,511.8 L621.5,520 L627,525.5 L629.8,536.5 L635.3,542 L638,544.8 L640,548"/>
<path d="M118,152.1 L124.7,156.2 L134.4,164.3 L142.5,170.7 L153,175.3 L145.7,176.9 L140.9,173.2 L136,170 L132.8,167.5 L124.7,159.4 L119.9,156.2Z"/>
<path d="M118,192.6 L126.3,198.3 L134.4,203.9 L132,207.2 L126.3,203.1 L119.9,195Z"/>
<path d="M210,246.2 L213,244 L225,244.7 L237,247 L240.7,250 L239.2,253.7 L229.5,253.7 L219,252.2 L211.5,250Z"/>
<path d="M208.5,258.2 L213,257.5 L220.5,256.7 L229.5,259.7 L243,262 L255,263.5 L253.5,266.5 L243,265 L228,264.2 L216,262.7 L209.2,259.7Z"/>
<path d="M186.7,270.2 L189,268 L199.5,268 L198.7,272.5 L189,274 L186.7,272.5Z"/>
<path d="M225.7,275.5 L229.5,274.7 L240,277 L249,275.5 L258,277.7 L261.7,280.7 L252,280.7 L240,282.2 L229.5,280.7 L226.5,278.5Z"/>
<path d="M270,291.2 L273,289.7 L285,292.7 L297,295.7 L296.2,298 L285,295 L271.5,292.7Z"/>
</g>
<rect x="119" y="80" width="539" height="466" fill="none" stroke="#000" stroke-width="2"/>
<path d="M116,80.5H119 M116,119.5H119 M116,158.5H119 M116,197.5H119 M116,236.5H119 M116,274.5H119 M116,313.5H119 M116,352.5H119 M116,391.5H119 M116,430.5H119 M116,468.5H119 M116,507.5H119 M116,545.5H119 M119.5,546V550 M184.5,546V550 M249.5,546V550 M314.5,546V550 M378.5,546V550 M443.5,546V550 M508.5,546V550 M573.5,546V550 M637.5,546V550" stroke="#000" stroke-width="1" fill="none"/>
<g font-family="'Liberation Sans', Arial, sans-serif" shape-rendering="auto">
<text transform="translate(196.50,21.00) scale(1.000,1)" x="0" y="0" font-size="14.2" fill="#9c9c9c" textLength="3.30" lengthAdjust="spacing"  stroke="#9c9c9c" stroke-width="0.2">(</text>
<text transform="translate(6.50,21.00) scale(1.000,1)" x="0" y="0" font-size="14.6" fill="#000" textLength="206.00" lengthAdjust="spacing"  stroke="#000" stroke-width="0.4">wrf-nmmE_v3.9.1-e3km</text>
<text transform="translate(218.50,20.50) scale(1.000,1)" x="0" y="0" font-size="11.0" fill="#a8a8a8" textLength="6.00" lengthAdjust="spacing"  stroke="#a8a8a8" stroke-width="0.3">x</text>
<text transform="translate(232.00,20.50) scale(1.000,1)" x="0" y="0" font-size="11.0" fill="#a8a8a8" textLength="2.00" lengthAdjust="spacing"  stroke="#a8a8a8" stroke-width="0.3">.</text>
<text transform="translate(242.00,20.50) scale(1.000,1)" x="0" y="0" font-size="11.0" fill="#a8a8a8" textLength="37.50" lengthAdjust="spacing"  stroke="#a8a8a8" stroke-width="0.3">degree</text>
<text transform="translate(288.00,21.00) scale(1.000,1)" x="0" y="0" font-size="13.0" fill="#a8a8a8" textLength="3.00" lengthAdjust="spacing"  stroke="#a8a8a8" stroke-width="0.3">)</text>
<text transform="translate(108.00,42.90) scale(1.000,1)" x="0" y="0" font-size="14.6" fill="#000" textLength="40.00" lengthAdjust="spacing"  stroke="#000" stroke-width="0.4">Snow</text>
<text transform="translate(161.00,42.90) scale(1.000,1)" x="0" y="0" font-size="14.6" fill="#000" textLength="42.00" lengthAdjust="spacing"  stroke="#000" stroke-width="0.4">Depth</text>
<text transform="translate(215.00,42.90) scale(1.000,1)" x="0" y="0" font-size="14.6" fill="#000" textLength="36.00" lengthAdjust="spacing"  stroke="#000" stroke-width="0.4">[cm]</text>
<text transform="translate(455.00,20.60) scale(1.000,1)" x="0" y="0" font-size="14.6" fill="#000" textLength="101.00" lengthAdjust="spacing"  stroke="#000" stroke-width="0.4">initialisation:</text>
<text transform="translate(567.00,20.60) scale(1.000,1)" x="0" y="0" font-size="14.6" fill="#000" textLength="95.00" lengthAdjust="spacing"  stroke="#000" stroke-width="0.4">2021.01.21.</text>
<text transform="translate(684.50,20.60) scale(1.000,1)" x="0" y="0" font-size="14.6" fill="#000" textLength="43.90" lengthAdjust="spacing"  stroke="#000" stroke-width="0.4">12:00</text>
<text transform="translate(739.60,20.60) scale(1.000,1)" x="0" y="0" font-size="14.6" fill="#000" textLength="28.20" lengthAdjust="spacing"  stroke="#000" stroke-width="0.4">UTC</text>
<text transform="translate(458.00,42.80) scale(1.000,1)" x="0" y="0" font-size="14.6" fill="#000" textLength="101.00" lengthAdjust="spacing"  stroke="#000" stroke-width="0.4">valid(+51h):</text>
<text transform="translate(568.00,42.80) scale(1.000,1)" x="0" y="0" font-size="14.6" fill="#000" textLength="99.60" lengthAdjust="spacing"  stroke="#000" stroke-width="0.4">2021.JAN.23</text>
<text transform="translate(680.00,42.80) scale(1.000,1)" x="0" y="0" font-size="14.6" fill="#000" textLength="45.00" lengthAdjust="spacing"  stroke="#000" stroke-width="0.4">15:00</text>
<text transform="translate(736.00,42.80) scale(1.000,1)" x="0" y="0" font-size="14.6" fill="#000" textLength="28.40" lengthAdjust="spacing"  stroke="#000" stroke-width="0.4">UTC</text>
<text x="84.5" y="83.6" font-size="9.9" textLength="28.5" lengthAdjust="spacingAndGlyphs" stroke="#000" stroke-width="0.35">45.5N</text>
<text x="94.0" y="122.6" font-size="9.9" textLength="19.0" lengthAdjust="spacingAndGlyphs" stroke="#000" stroke-width="0.35">45N</text>
<text x="84.5" y="161.6" font-size="9.9" textLength="28.5" lengthAdjust="spacingAndGlyphs" stroke="#000" stroke-width="0.35">44.5N</text>
<text x="94.0" y="200.6" font-size="9.9" textLength="19.0" lengthAdjust="spacingAndGlyphs" stroke="#000" stroke-width="0.35">44N</text>
<text x="84.5" y="239.6" font-size="9.9" textLength="28.5" lengthAdjust="spacingAndGlyphs" stroke="#000" stroke-width="0.35">43.5N</text>
<text x="94.0" y="277.6" font-size="9.9" textLength="19.0" lengthAdjust="spacingAndGlyphs" stroke="#000" stroke-width="0.35">43N</text>
<text x="84.5" y="316.6" font-size="9.9" textLength="28.5" lengthAdjust="spacingAndGlyphs" stroke="#000" stroke-width="0.35">42.5N</text>
<text x="94.0" y="355.6" font-size="9.9" textLength="19.0" lengthAdjust="spacingAndGlyphs" stroke="#000" stroke-width="0.35">42N</text>
<text x="84.5" y="394.6" font-size="9.9" textLength="28.5" lengthAdjust="spacingAndGlyphs" stroke="#000" stroke-width="0.35">41.5N</text>
<text x="94.0" y="433.6" font-size="9.9" textLength="19.0" lengthAdjust="spacingAndGlyphs" stroke="#000" stroke-width="0.35">41N</text>
<text x="84.5" y="471.6" font-size="9.9" textLength="28.5" lengthAdjust="spacingAndGlyphs" stroke="#000" stroke-width="0.35">40.5N</text>
<text x="94.0" y="510.6" font-size="9.9" textLength="19.0" lengthAdjust="spacingAndGlyphs" stroke="#000" stroke-width="0.35">40N</text>
<text x="84.5" y="549.6" font-size="9.9" textLength="28.5" lengthAdjust="spacingAndGlyphs" stroke="#000" stroke-width="0.35">39.5N</text>
<text x="111.9" y="559.8" font-size="9.9" textLength="17.2" lengthAdjust="spacingAndGlyphs" stroke="#000" stroke-width="0.35">15E</text>
<text x="176.7" y="559.8" font-size="9.9" textLength="17.2" lengthAdjust="spacingAndGlyphs" stroke="#000" stroke-width="0.35">16E</text>
<text x="241.4" y="559.8" font-size="9.9" textLength="17.2" lengthAdjust="spacingAndGlyphs" stroke="#000" stroke-width="0.35">17E</text>
<text x="306.2" y="559.8" font-size="9.9" textLength="17.2" lengthAdjust="spacingAndGlyphs" stroke="#000" stroke-width="0.35">18E</text>
<text x="371.0" y="559.8" font-size="9.9" textLength="17.2" lengthAdjust="spacingAndGlyphs" stroke="#000" stroke-width="0.35">19E</text>
<text x="435.7" y="559.8" font-size="9.9" textLength="17.2" lengthAdjust="spacingAndGlyphs" stroke="#000" stroke-width="0.35">20E</text>
<text x="500.4" y="559.8" font-size="9.9" textLength="17.2" lengthAdjust="spacingAndGlyphs" stroke="#000" stroke-width="0.35">21E</text>
<text x="565.2" y="559.8" font-size="9.9" textLength="17.2" lengthAdjust="spacingAndGlyphs" stroke="#000" stroke-width="0.35">22E</text>
<text x="629.9" y="559.8" font-size="9.9" textLength="17.2" lengthAdjust="spacingAndGlyphs" stroke="#000" stroke-width="0.35">23E</text>
<text x="3.8" y="615.3" font-size="9.9" font-weight="normal" fill="#000" textLength="86.2" lengthAdjust="spacingAndGlyphs" stroke="#000" stroke-width="0.3">GrADS: COLA/IGES</text>
<text x="683.8" y="615.8" font-size="9.9" font-weight="normal" fill="#000" textLength="94.3" lengthAdjust="spacingAndGlyphs" stroke="#000" stroke-width="0.3">2021-01-21-22:20</text>
<text x="205.5" y="75.9" font-size="9.8" textLength="14.0" lengthAdjust="spacingAndGlyphs" stroke="#000" stroke-width="0.35">0.1</text>
<text x="247.5" y="75.9" font-size="9.8" textLength="3.8" lengthAdjust="spacingAndGlyphs" stroke="#000" stroke-width="0.35">1</text>
<text x="284.0" y="75.9" font-size="9.8" textLength="5.6" lengthAdjust="spacingAndGlyphs" stroke="#000" stroke-width="0.35">2</text>
<text x="321.4" y="75.9" font-size="9.8" textLength="5.8" lengthAdjust="spacingAndGlyphs" stroke="#000" stroke-width="0.35">4</text>
<text x="358.9" y="75.9" font-size="9.8" textLength="5.6" lengthAdjust="spacingAndGlyphs" stroke="#000" stroke-width="0.35">6</text>
<text x="393.1" y="75.9" font-size="9.8" textLength="12.0" lengthAdjust="spacingAndGlyphs" stroke="#000" stroke-width="0.35">10</text>
<text x="430.5" y="75.9" font-size="9.8" textLength="12.0" lengthAdjust="spacingAndGlyphs" stroke="#000" stroke-width="0.35">15</text>
<text x="467.9" y="75.9" font-size="9.8" textLength="12.0" lengthAdjust="spacingAndGlyphs" stroke="#000" stroke-width="0.35">30</text>
<text x="505.4" y="75.9" font-size="9.8" textLength="12.0" lengthAdjust="spacingAndGlyphs" stroke="#000" stroke-width="0.35">60</text>
<text x="542.8" y="75.9" font-size="9.8" textLength="12.0" lengthAdjust="spacingAndGlyphs" stroke="#000" stroke-width="0.35">90</text>
<text x="577.5" y="75.9" font-size="9.8" textLength="17.5" lengthAdjust="spacingAndGlyphs" stroke="#000" stroke-width="0.35">120</text>
</g>
<rect x="212.0" y="55" width="37.4" height="11.5" fill="#b4faaa"/><rect x="249.4" y="55" width="37.4" height="11.5" fill="#78f573"/><rect x="286.8" y="55" width="37.4" height="11.5" fill="#37d23c"/><rect x="324.3" y="55" width="37.4" height="11.5" fill="#0fa00f"/><rect x="361.7" y="55" width="37.4" height="11.5" fill="#96d2fa"/><rect x="399.1" y="55" width="37.4" height="11.5" fill="#50a5f5"/><rect x="436.5" y="55" width="37.4" height="11.5" fill="#2882f0"/><rect x="473.9" y="55" width="37.4" height="11.5" fill="#1464d2"/><rect x="511.4" y="55" width="37.4" height="11.5" fill="#7864d2"/><rect x="548.8" y="55" width="37.4" height="11.5" fill="#a05ac8"/>
<path d="M212,66.5H586 M212.5,56V66 M249.5,56V66 M286.5,56V66 M324.5,56V66 M361.5,56V66 M399.5,56V66 M436.5,56V66 M473.5,56V66 M511.5,56V66 M548.5,56V66 M586.5,56V66" stroke="#000" stroke-width="1" fill="none"/>
<rect x="585" y="55" width="5" height="11.5" fill="#464646"/><rect x="590" y="56" width="7.6" height="9.6" fill="#464646"/><rect x="597.6" y="57" width="7.4" height="7.8" fill="#464646"/><rect x="605" y="58" width="8" height="5.8" fill="#464646"/><rect x="613" y="59" width="8" height="3.8" fill="#464646"/><rect x="621" y="60.3" width="4" height="1.5" fill="#464646"/>
<rect x="585.5" y="55" width="4.5" height="1.2" fill="#000"/><rect x="595" y="56" width="3.5" height="1.2" fill="#000"/><rect x="602" y="57" width="3.5" height="1.2" fill="#000"/><rect x="610" y="58" width="3.5" height="1.2" fill="#000"/><rect x="617" y="59" width="4" height="1.2" fill="#000"/><rect x="585.5" y="65.3" width="4.5" height="1.2" fill="#000"/><rect x="595" y="64.4" width="3.5" height="1.2" fill="#000"/><rect x="602" y="63.6" width="3.5" height="1.2" fill="#000"/><rect x="610" y="62.6" width="3.5" height="1.2" fill="#000"/><rect x="617" y="61.6" width="4" height="1.2" fill="#000"/>
<rect x="585" y="55" width="1.2" height="11.5" fill="#000"/>
<rect x="180" y="59" width="3.5" height="1.1" fill="#000"/><rect x="188" y="58" width="3.5" height="1.1" fill="#000"/><rect x="195" y="57" width="3.5" height="1.1" fill="#000"/><rect x="202" y="56" width="4" height="1.1" fill="#000"/><rect x="210" y="55" width="3" height="1.1" fill="#000"/><rect x="180" y="62" width="3.5" height="1.1" fill="#000"/><rect x="188" y="63" width="3.5" height="1.1" fill="#000"/><rect x="195" y="64" width="3.5" height="1.1" fill="#000"/><rect x="202" y="65" width="4" height="1.1" fill="#000"/><rect x="210" y="66" width="3" height="1.1" fill="#000"/>
<rect x="211.8" y="55" width="1.4" height="12" fill="#000"/>
</svg></body></html>
